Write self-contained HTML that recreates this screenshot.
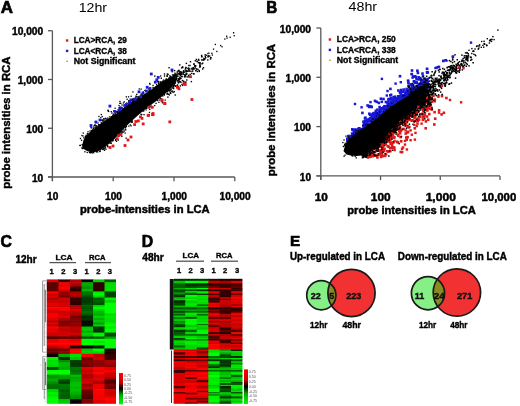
<!DOCTYPE html>
<html><head><meta charset="utf-8"><style>
html,body{margin:0;padding:0;background:#fff;}
svg{display:block;will-change:transform;font-family:"Liberation Sans", sans-serif;}
</style></head><body>
<svg width="520" height="406" viewBox="0 0 520 406">
<rect width="520" height="406" fill="#fff"/>
<text x="0.8" y="13.0" font-size="16.4" font-weight="bold" text-anchor="start" fill="#000" textLength="12.2" lengthAdjust="spacingAndGlyphs" stroke="#000" stroke-width="0.69">A</text>
<text x="78.7" y="12.0" font-size="13.7" font-weight="normal" text-anchor="start" fill="#000" textLength="28.4" lengthAdjust="spacingAndGlyphs">12hr</text>
<line x1="52.4" y1="30.75" x2="52.4" y2="181.2" stroke="#595959" stroke-width="1.3"/>
<line x1="48.0" y1="177.0" x2="234.79999999999998" y2="177.0" stroke="#595959" stroke-width="1.3"/>
<line x1="48.0" y1="177.0" x2="52.4" y2="177.0" stroke="#595959" stroke-width="1.3"/>
<text x="43.2" y="181.6" font-size="10" font-weight="bold" text-anchor="end" fill="#000" textLength="11.2" lengthAdjust="spacingAndGlyphs" stroke="#000" stroke-width="0.42">10</text>
<line x1="52.4" y1="177.0" x2="52.4" y2="181.2" stroke="#595959" stroke-width="1.3"/>
<text x="52.699999999999996" y="200.0" font-size="10" font-weight="bold" text-anchor="middle" fill="#000" textLength="11.2" lengthAdjust="spacingAndGlyphs" stroke="#000" stroke-width="0.42">10</text>
<line x1="48.0" y1="128.25" x2="52.4" y2="128.25" stroke="#595959" stroke-width="1.3"/>
<text x="43.2" y="132.85" font-size="10" font-weight="bold" text-anchor="end" fill="#000" textLength="16.9" lengthAdjust="spacingAndGlyphs" stroke="#000" stroke-width="0.42">100</text>
<line x1="113.19999999999999" y1="177.0" x2="113.19999999999999" y2="181.2" stroke="#595959" stroke-width="1.3"/>
<text x="113.49999999999999" y="200.0" font-size="10" font-weight="bold" text-anchor="middle" fill="#000" textLength="16.9" lengthAdjust="spacingAndGlyphs" stroke="#000" stroke-width="0.42">100</text>
<line x1="48.0" y1="79.5" x2="52.4" y2="79.5" stroke="#595959" stroke-width="1.3"/>
<text x="43.2" y="84.1" font-size="10" font-weight="bold" text-anchor="end" fill="#000" textLength="25.5" lengthAdjust="spacingAndGlyphs" stroke="#000" stroke-width="0.42">1,000</text>
<line x1="174.0" y1="177.0" x2="174.0" y2="181.2" stroke="#595959" stroke-width="1.3"/>
<text x="174.3" y="200.0" font-size="10" font-weight="bold" text-anchor="middle" fill="#000" textLength="25.5" lengthAdjust="spacingAndGlyphs" stroke="#000" stroke-width="0.42">1,000</text>
<line x1="48.0" y1="30.75" x2="52.4" y2="30.75" stroke="#595959" stroke-width="1.3"/>
<text x="43.2" y="35.35" font-size="10" font-weight="bold" text-anchor="end" fill="#000" textLength="31.2" lengthAdjust="spacingAndGlyphs" stroke="#000" stroke-width="0.42">10,000</text>
<line x1="234.79999999999998" y1="177.0" x2="234.79999999999998" y2="181.2" stroke="#595959" stroke-width="1.3"/>
<text x="235.1" y="200.0" font-size="10" font-weight="bold" text-anchor="middle" fill="#000" textLength="31.2" lengthAdjust="spacingAndGlyphs" stroke="#000" stroke-width="0.42">10,000</text>
<text x="80.0" y="212.8" font-size="11.4" font-weight="bold" text-anchor="start" fill="#000" textLength="129.7" lengthAdjust="spacingAndGlyphs" stroke="#000" stroke-width="0.48">probe-intensities in LCA</text>
<text transform="translate(9.6,188.8) rotate(-90)" font-size="11.4" font-weight="bold" stroke="#000" stroke-width="0.45" textLength="132.4" lengthAdjust="spacingAndGlyphs">probe intensities in RCA</text>
<rect x="65.90" y="39.30" width="2.40" height="2.40" fill="#d42020"/>
<text x="73.7" y="43.4" font-size="8.2" font-weight="bold" text-anchor="start" fill="#000" textLength="53.1" lengthAdjust="spacingAndGlyphs" stroke="#000" stroke-width="0.34">LCA&gt;RCA, 29</text>
<rect x="65.90" y="49.70" width="2.40" height="2.40" fill="#2020c8"/>
<text x="73.7" y="53.8" font-size="8.2" font-weight="bold" text-anchor="start" fill="#000" textLength="53.1" lengthAdjust="spacingAndGlyphs" stroke="#000" stroke-width="0.34">LCA&lt;RCA, 38</text>
<rect x="66.40" y="60.60" width="1.40" height="1.40" fill="#a0a000"/>
<text x="73.7" y="64.2" font-size="8.2" font-weight="bold" text-anchor="start" fill="#000" textLength="61.8" lengthAdjust="spacingAndGlyphs" stroke="#000" stroke-width="0.34">Not Significant</text>
<text x="266.2" y="13.0" font-size="16.4" font-weight="bold" text-anchor="start" fill="#000" textLength="11.0" lengthAdjust="spacingAndGlyphs" stroke="#000" stroke-width="0.69">B</text>
<text x="348.5" y="11.4" font-size="13.7" font-weight="normal" text-anchor="start" fill="#000" textLength="28.6" lengthAdjust="spacingAndGlyphs">48hr</text>
<line x1="320.8" y1="28.00000000000003" x2="320.8" y2="180.1" stroke="#595959" stroke-width="1.3"/>
<line x1="316.40000000000003" y1="175.9" x2="499.99" y2="175.9" stroke="#595959" stroke-width="1.3"/>
<line x1="316.40000000000003" y1="175.9" x2="320.8" y2="175.9" stroke="#595959" stroke-width="1.3"/>
<text x="311.0" y="180.5" font-size="10" font-weight="bold" text-anchor="end" fill="#000" textLength="11.2" lengthAdjust="spacingAndGlyphs" stroke="#000" stroke-width="0.42">10</text>
<line x1="320.8" y1="175.9" x2="320.8" y2="180.1" stroke="#595959" stroke-width="1.3"/>
<text x="321.2" y="201.4" font-size="11.8" font-weight="bold" text-anchor="middle" fill="#000" textLength="13.1" lengthAdjust="spacingAndGlyphs" stroke="#000" stroke-width="0.50">10</text>
<line x1="316.40000000000003" y1="126.60000000000001" x2="320.8" y2="126.60000000000001" stroke="#595959" stroke-width="1.3"/>
<text x="311.0" y="131.20000000000002" font-size="10" font-weight="bold" text-anchor="end" fill="#000" textLength="16.9" lengthAdjust="spacingAndGlyphs" stroke="#000" stroke-width="0.42">100</text>
<line x1="380.53000000000003" y1="175.9" x2="380.53000000000003" y2="180.1" stroke="#595959" stroke-width="1.3"/>
<text x="380.73" y="201.4" font-size="11.8" font-weight="bold" text-anchor="middle" fill="#000" textLength="19.8" lengthAdjust="spacingAndGlyphs" stroke="#000" stroke-width="0.50">100</text>
<line x1="316.40000000000003" y1="77.30000000000001" x2="320.8" y2="77.30000000000001" stroke="#595959" stroke-width="1.3"/>
<text x="311.0" y="81.9" font-size="10" font-weight="bold" text-anchor="end" fill="#000" textLength="25.5" lengthAdjust="spacingAndGlyphs" stroke="#000" stroke-width="0.42">1,000</text>
<line x1="440.26" y1="175.9" x2="440.26" y2="180.1" stroke="#595959" stroke-width="1.3"/>
<text x="440.76" y="201.4" font-size="11.8" font-weight="bold" text-anchor="middle" fill="#000" textLength="30.2" lengthAdjust="spacingAndGlyphs" stroke="#000" stroke-width="0.50">1,000</text>
<line x1="316.40000000000003" y1="28.00000000000003" x2="320.8" y2="28.00000000000003" stroke="#595959" stroke-width="1.3"/>
<text x="311.0" y="32.60000000000003" font-size="10" font-weight="bold" text-anchor="end" fill="#000" textLength="31.2" lengthAdjust="spacingAndGlyphs" stroke="#000" stroke-width="0.42">10,000</text>
<line x1="499.99" y1="175.9" x2="499.99" y2="180.1" stroke="#595959" stroke-width="1.3"/>
<text x="498.89" y="201.4" font-size="11.8" font-weight="bold" text-anchor="middle" fill="#000" textLength="34.7" lengthAdjust="spacingAndGlyphs" stroke="#000" stroke-width="0.50">10,000</text>
<text x="347.3" y="213.9" font-size="11.4" font-weight="bold" text-anchor="start" fill="#000" textLength="128.5" lengthAdjust="spacingAndGlyphs" stroke="#000" stroke-width="0.48">probe intensities in LCA</text>
<text transform="translate(275.0,176.2) rotate(-90)" font-size="11.4" font-weight="bold" stroke="#000" stroke-width="0.45" textLength="132.3" lengthAdjust="spacingAndGlyphs">probe intensities in RCA</text>
<rect x="328.70" y="38.30" width="2.40" height="2.40" fill="#d42020"/>
<text x="336.8" y="42.4" font-size="8.2" font-weight="bold" text-anchor="start" fill="#000" textLength="59.0" lengthAdjust="spacingAndGlyphs" stroke="#000" stroke-width="0.34">LCA&gt;RCA, 250</text>
<rect x="328.70" y="48.70" width="2.40" height="2.40" fill="#2020c8"/>
<text x="336.8" y="52.8" font-size="8.2" font-weight="bold" text-anchor="start" fill="#000" textLength="59.0" lengthAdjust="spacingAndGlyphs" stroke="#000" stroke-width="0.34">LCA&lt;RCA, 338</text>
<rect x="329.20" y="59.60" width="1.40" height="1.40" fill="#a0a000"/>
<text x="336.8" y="63.2" font-size="8.2" font-weight="bold" text-anchor="start" fill="#000" textLength="61.4" lengthAdjust="spacingAndGlyphs" stroke="#000" stroke-width="0.34">Not Significant</text>
<polygon points="82.0,146.0 83.5,140.0 86.0,135.5 90.0,132.0 95.0,128.0 100.0,124.0 105.0,120.5 110.0,117.5 115.0,114.5 120.0,111.0 125.0,106.5 130.0,103.0 135.0,99.5 140.0,96.5 145.0,93.5 150.0,90.5 155.0,86.5 160.0,83.0 165.0,80.0 170.0,77.5 175.0,75.0 176.0,82.0 170.0,89.0 165.0,94.0 160.0,98.0 155.0,102.0 150.0,105.5 145.0,109.5 140.0,113.5 135.0,118.0 130.0,122.5 125.0,127.5 120.0,133.0 115.0,138.5 110.0,143.0 105.0,147.0 100.0,150.5 95.0,152.0 90.0,152.0 86.0,150.5 83.0,148.5" fill="#000"/>
<rect x="168.5" y="77.0" width="1.3" height="1.3" fill="#000"/>
<rect x="136.1" y="93.7" width="1.3" height="1.3" fill="#000"/>
<rect x="121.1" y="132.5" width="1.3" height="1.3" fill="#000"/>
<rect x="110.7" y="142.5" width="1.3" height="1.3" fill="#000"/>
<rect x="125.5" y="137.5" width="1.3" height="1.3" fill="#000"/>
<rect x="174.4" y="73.8" width="1.3" height="1.3" fill="#000"/>
<rect x="119.1" y="134.9" width="1.3" height="1.3" fill="#000"/>
<rect x="126.2" y="102.4" width="1.3" height="1.3" fill="#000"/>
<rect x="163.7" y="94.3" width="1.3" height="1.3" fill="#000"/>
<rect x="156.9" y="99.9" width="1.3" height="1.3" fill="#000"/>
<rect x="152.4" y="84.8" width="1.3" height="1.3" fill="#000"/>
<rect x="138.6" y="88.3" width="1.3" height="1.3" fill="#000"/>
<rect x="175.7" y="76.2" width="1.3" height="1.3" fill="#000"/>
<rect x="165.4" y="78.6" width="1.3" height="1.3" fill="#000"/>
<rect x="116.4" y="111.7" width="1.3" height="1.3" fill="#000"/>
<rect x="144.2" y="89.8" width="1.3" height="1.3" fill="#000"/>
<rect x="174.4" y="84.8" width="1.3" height="1.3" fill="#000"/>
<rect x="130.4" y="125.2" width="1.3" height="1.3" fill="#000"/>
<rect x="155.9" y="84.0" width="1.3" height="1.3" fill="#000"/>
<rect x="180.5" y="74.2" width="1.3" height="1.3" fill="#000"/>
<rect x="92.9" y="127.7" width="1.3" height="1.3" fill="#000"/>
<rect x="173.0" y="86.4" width="1.3" height="1.3" fill="#000"/>
<rect x="149.4" y="83.6" width="1.3" height="1.3" fill="#000"/>
<rect x="120.1" y="131.6" width="1.3" height="1.3" fill="#000"/>
<rect x="173.7" y="91.0" width="1.3" height="1.3" fill="#000"/>
<rect x="169.4" y="90.1" width="1.3" height="1.3" fill="#000"/>
<rect x="122.3" y="131.7" width="1.3" height="1.3" fill="#000"/>
<rect x="132.2" y="99.3" width="1.3" height="1.3" fill="#000"/>
<rect x="120.8" y="130.8" width="1.3" height="1.3" fill="#000"/>
<rect x="85.4" y="134.6" width="1.3" height="1.3" fill="#000"/>
<rect x="104.8" y="147.3" width="1.3" height="1.3" fill="#000"/>
<rect x="172.1" y="86.3" width="1.3" height="1.3" fill="#000"/>
<rect x="135.4" y="95.5" width="1.3" height="1.3" fill="#000"/>
<rect x="166.4" y="93.5" width="1.3" height="1.3" fill="#000"/>
<rect x="160.0" y="75.3" width="1.3" height="1.3" fill="#000"/>
<rect x="102.4" y="148.9" width="1.3" height="1.3" fill="#000"/>
<rect x="141.7" y="93.0" width="1.3" height="1.3" fill="#000"/>
<rect x="109.3" y="142.4" width="1.3" height="1.3" fill="#000"/>
<rect x="113.3" y="114.3" width="1.3" height="1.3" fill="#000"/>
<rect x="175.3" y="74.6" width="1.3" height="1.3" fill="#000"/>
<rect x="118.2" y="134.7" width="1.3" height="1.3" fill="#000"/>
<rect x="155.4" y="102.7" width="1.3" height="1.3" fill="#000"/>
<rect x="140.8" y="94.6" width="1.3" height="1.3" fill="#000"/>
<rect x="163.8" y="94.0" width="1.3" height="1.3" fill="#000"/>
<rect x="95.3" y="126.3" width="1.3" height="1.3" fill="#000"/>
<rect x="90.7" y="152.0" width="1.3" height="1.3" fill="#000"/>
<rect x="148.9" y="89.9" width="1.3" height="1.3" fill="#000"/>
<rect x="176.0" y="75.7" width="1.3" height="1.3" fill="#000"/>
<rect x="135.6" y="96.0" width="1.3" height="1.3" fill="#000"/>
<rect x="164.5" y="99.4" width="1.3" height="1.3" fill="#000"/>
<rect x="79.7" y="144.8" width="1.3" height="1.3" fill="#000"/>
<rect x="142.7" y="91.3" width="1.3" height="1.3" fill="#000"/>
<rect x="114.5" y="112.6" width="1.3" height="1.3" fill="#000"/>
<rect x="154.1" y="104.9" width="1.3" height="1.3" fill="#000"/>
<rect x="162.2" y="95.3" width="1.3" height="1.3" fill="#000"/>
<rect x="132.1" y="98.6" width="1.3" height="1.3" fill="#000"/>
<rect x="86.8" y="132.9" width="1.3" height="1.3" fill="#000"/>
<rect x="98.4" y="124.0" width="1.3" height="1.3" fill="#000"/>
<rect x="112.6" y="139.6" width="1.3" height="1.3" fill="#000"/>
<rect x="161.7" y="102.1" width="1.3" height="1.3" fill="#000"/>
<rect x="114.1" y="110.7" width="1.3" height="1.3" fill="#000"/>
<rect x="159.7" y="97.7" width="1.3" height="1.3" fill="#000"/>
<rect x="95.7" y="151.1" width="1.3" height="1.3" fill="#000"/>
<rect x="175.5" y="75.3" width="1.3" height="1.3" fill="#000"/>
<rect x="90.7" y="129.8" width="1.3" height="1.3" fill="#000"/>
<rect x="117.1" y="110.8" width="1.3" height="1.3" fill="#000"/>
<rect x="149.0" y="82.8" width="1.3" height="1.3" fill="#000"/>
<rect x="86.6" y="151.8" width="1.3" height="1.3" fill="#000"/>
<rect x="122.3" y="131.1" width="1.3" height="1.3" fill="#000"/>
<rect x="148.1" y="88.4" width="1.3" height="1.3" fill="#000"/>
<rect x="125.3" y="104.8" width="1.3" height="1.3" fill="#000"/>
<rect x="119.2" y="102.7" width="1.3" height="1.3" fill="#000"/>
<rect x="92.2" y="129.0" width="1.3" height="1.3" fill="#000"/>
<rect x="148.8" y="111.8" width="1.3" height="1.3" fill="#000"/>
<rect x="158.6" y="99.4" width="1.3" height="1.3" fill="#000"/>
<rect x="177.5" y="78.8" width="1.3" height="1.3" fill="#000"/>
<rect x="140.5" y="88.5" width="1.3" height="1.3" fill="#000"/>
<rect x="91.2" y="127.3" width="1.3" height="1.3" fill="#000"/>
<rect x="92.0" y="152.2" width="1.3" height="1.3" fill="#000"/>
<rect x="103.9" y="149.7" width="1.3" height="1.3" fill="#000"/>
<rect x="117.4" y="109.1" width="1.3" height="1.3" fill="#000"/>
<rect x="115.1" y="139.2" width="1.3" height="1.3" fill="#000"/>
<rect x="81.3" y="134.9" width="1.3" height="1.3" fill="#000"/>
<rect x="141.6" y="93.6" width="1.3" height="1.3" fill="#000"/>
<rect x="170.1" y="88.6" width="1.3" height="1.3" fill="#000"/>
<rect x="114.9" y="139.8" width="1.3" height="1.3" fill="#000"/>
<rect x="147.9" y="90.5" width="1.3" height="1.3" fill="#000"/>
<rect x="172.8" y="74.6" width="1.3" height="1.3" fill="#000"/>
<rect x="80.9" y="139.6" width="1.3" height="1.3" fill="#000"/>
<rect x="106.8" y="145.7" width="1.3" height="1.3" fill="#000"/>
<rect x="124.5" y="128.7" width="1.3" height="1.3" fill="#000"/>
<rect x="159.8" y="97.9" width="1.3" height="1.3" fill="#000"/>
<rect x="129.6" y="124.2" width="1.3" height="1.3" fill="#000"/>
<rect x="135.2" y="97.1" width="1.3" height="1.3" fill="#000"/>
<rect x="100.2" y="117.0" width="1.3" height="1.3" fill="#000"/>
<rect x="137.5" y="96.4" width="1.3" height="1.3" fill="#000"/>
<rect x="152.4" y="86.8" width="1.3" height="1.3" fill="#000"/>
<rect x="140.3" y="93.5" width="1.3" height="1.3" fill="#000"/>
<rect x="89.4" y="151.6" width="1.3" height="1.3" fill="#000"/>
<rect x="131.2" y="121.5" width="1.3" height="1.3" fill="#000"/>
<rect x="118.8" y="110.3" width="1.3" height="1.3" fill="#000"/>
<rect x="104.8" y="117.9" width="1.3" height="1.3" fill="#000"/>
<rect x="174.3" y="72.5" width="1.3" height="1.3" fill="#000"/>
<rect x="123.6" y="101.2" width="1.3" height="1.3" fill="#000"/>
<rect x="168.8" y="94.3" width="1.3" height="1.3" fill="#000"/>
<rect x="150.3" y="104.5" width="1.3" height="1.3" fill="#000"/>
<rect x="118.7" y="133.2" width="1.3" height="1.3" fill="#000"/>
<rect x="130.3" y="121.2" width="1.3" height="1.3" fill="#000"/>
<rect x="82.1" y="148.0" width="1.3" height="1.3" fill="#000"/>
<rect x="159.5" y="81.2" width="1.3" height="1.3" fill="#000"/>
<rect x="138.3" y="95.9" width="1.3" height="1.3" fill="#000"/>
<rect x="170.0" y="75.9" width="1.3" height="1.3" fill="#000"/>
<rect x="149.1" y="108.7" width="1.3" height="1.3" fill="#000"/>
<rect x="132.9" y="99.3" width="1.3" height="1.3" fill="#000"/>
<rect x="140.1" y="95.2" width="1.3" height="1.3" fill="#000"/>
<rect x="132.4" y="98.3" width="1.3" height="1.3" fill="#000"/>
<rect x="97.0" y="151.2" width="1.3" height="1.3" fill="#000"/>
<rect x="143.2" y="110.1" width="1.3" height="1.3" fill="#000"/>
<rect x="175.2" y="73.6" width="1.3" height="1.3" fill="#000"/>
<rect x="79.3" y="144.8" width="1.3" height="1.3" fill="#000"/>
<rect x="121.4" y="104.4" width="1.3" height="1.3" fill="#000"/>
<rect x="117.0" y="111.8" width="1.3" height="1.3" fill="#000"/>
<rect x="87.4" y="131.1" width="1.3" height="1.3" fill="#000"/>
<rect x="174.8" y="82.4" width="1.3" height="1.3" fill="#000"/>
<rect x="95.3" y="122.0" width="1.3" height="1.3" fill="#000"/>
<rect x="173.5" y="84.1" width="1.3" height="1.3" fill="#000"/>
<rect x="105.3" y="148.6" width="1.3" height="1.3" fill="#000"/>
<rect x="149.6" y="106.2" width="1.3" height="1.3" fill="#000"/>
<rect x="170.0" y="76.0" width="1.3" height="1.3" fill="#000"/>
<rect x="102.0" y="119.5" width="1.3" height="1.3" fill="#000"/>
<rect x="103.0" y="148.2" width="1.3" height="1.3" fill="#000"/>
<rect x="89.4" y="130.4" width="1.3" height="1.3" fill="#000"/>
<rect x="140.2" y="113.5" width="1.3" height="1.3" fill="#000"/>
<rect x="114.6" y="113.5" width="1.3" height="1.3" fill="#000"/>
<rect x="131.5" y="99.5" width="1.3" height="1.3" fill="#000"/>
<rect x="95.5" y="126.3" width="1.3" height="1.3" fill="#000"/>
<rect x="175.5" y="73.6" width="1.3" height="1.3" fill="#000"/>
<rect x="96.0" y="151.0" width="1.3" height="1.3" fill="#000"/>
<rect x="81.5" y="144.0" width="1.3" height="1.3" fill="#000"/>
<rect x="122.5" y="129.2" width="1.3" height="1.3" fill="#000"/>
<rect x="131.5" y="121.6" width="1.3" height="1.3" fill="#000"/>
<rect x="115.9" y="140.7" width="1.3" height="1.3" fill="#000"/>
<rect x="93.6" y="124.9" width="1.3" height="1.3" fill="#000"/>
<rect x="143.4" y="114.0" width="1.3" height="1.3" fill="#000"/>
<rect x="83.2" y="137.1" width="1.3" height="1.3" fill="#000"/>
<rect x="109.1" y="116.2" width="1.3" height="1.3" fill="#000"/>
<rect x="131.7" y="120.3" width="1.3" height="1.3" fill="#000"/>
<rect x="162.0" y="80.6" width="1.3" height="1.3" fill="#000"/>
<rect x="137.1" y="96.3" width="1.3" height="1.3" fill="#000"/>
<rect x="84.2" y="151.1" width="1.3" height="1.3" fill="#000"/>
<rect x="123.7" y="130.4" width="1.3" height="1.3" fill="#000"/>
<rect x="173.3" y="74.2" width="1.3" height="1.3" fill="#000"/>
<rect x="169.5" y="90.1" width="1.3" height="1.3" fill="#000"/>
<rect x="173.0" y="88.0" width="1.3" height="1.3" fill="#000"/>
<rect x="177.6" y="80.4" width="1.3" height="1.3" fill="#000"/>
<rect x="172.8" y="84.6" width="1.3" height="1.3" fill="#000"/>
<rect x="93.1" y="152.0" width="1.3" height="1.3" fill="#000"/>
<rect x="98.1" y="124.1" width="1.3" height="1.3" fill="#000"/>
<rect x="170.4" y="89.0" width="1.3" height="1.3" fill="#000"/>
<rect x="88.8" y="151.8" width="1.3" height="1.3" fill="#000"/>
<rect x="103.5" y="147.3" width="1.3" height="1.3" fill="#000"/>
<rect x="82.4" y="135.3" width="1.3" height="1.3" fill="#000"/>
<rect x="125.0" y="127.1" width="1.3" height="1.3" fill="#000"/>
<rect x="107.3" y="146.3" width="1.3" height="1.3" fill="#000"/>
<rect x="124.5" y="132.4" width="1.3" height="1.3" fill="#000"/>
<rect x="125.8" y="125.7" width="1.3" height="1.3" fill="#000"/>
<rect x="107.2" y="117.4" width="1.3" height="1.3" fill="#000"/>
<rect x="130.7" y="121.3" width="1.3" height="1.3" fill="#000"/>
<rect x="97.4" y="122.4" width="1.3" height="1.3" fill="#000"/>
<rect x="145.9" y="107.7" width="1.3" height="1.3" fill="#000"/>
<rect x="79.8" y="137.8" width="1.3" height="1.3" fill="#000"/>
<rect x="112.0" y="140.3" width="1.3" height="1.3" fill="#000"/>
<rect x="141.1" y="114.0" width="1.3" height="1.3" fill="#000"/>
<rect x="103.6" y="148.2" width="1.3" height="1.3" fill="#000"/>
<rect x="142.6" y="110.4" width="1.3" height="1.3" fill="#000"/>
<rect x="82.6" y="132.4" width="1.3" height="1.3" fill="#000"/>
<rect x="129.6" y="100.7" width="1.3" height="1.3" fill="#000"/>
<rect x="118.8" y="107.9" width="1.3" height="1.3" fill="#000"/>
<rect x="125.1" y="129.3" width="1.3" height="1.3" fill="#000"/>
<rect x="101.8" y="148.5" width="1.3" height="1.3" fill="#000"/>
<rect x="160.6" y="98.3" width="1.3" height="1.3" fill="#000"/>
<rect x="119.3" y="106.5" width="1.3" height="1.3" fill="#000"/>
<rect x="132.5" y="99.3" width="1.3" height="1.3" fill="#000"/>
<rect x="99.1" y="150.9" width="1.3" height="1.3" fill="#000"/>
<rect x="121.1" y="131.0" width="1.3" height="1.3" fill="#000"/>
<rect x="81.3" y="147.2" width="1.3" height="1.3" fill="#000"/>
<rect x="117.9" y="110.4" width="1.3" height="1.3" fill="#000"/>
<rect x="104.8" y="146.4" width="1.3" height="1.3" fill="#000"/>
<rect x="158.2" y="101.7" width="1.3" height="1.3" fill="#000"/>
<rect x="165.7" y="78.4" width="1.3" height="1.3" fill="#000"/>
<rect x="121.3" y="107.0" width="1.3" height="1.3" fill="#000"/>
<rect x="172.7" y="85.7" width="1.3" height="1.3" fill="#000"/>
<rect x="119.1" y="134.1" width="1.3" height="1.3" fill="#000"/>
<rect x="160.4" y="81.3" width="1.3" height="1.3" fill="#000"/>
<rect x="84.7" y="136.0" width="1.3" height="1.3" fill="#000"/>
<rect x="124.8" y="126.9" width="1.3" height="1.3" fill="#000"/>
<rect x="102.2" y="120.6" width="1.3" height="1.3" fill="#000"/>
<rect x="177.6" y="82.0" width="1.3" height="1.3" fill="#000"/>
<rect x="90.3" y="127.0" width="1.3" height="1.3" fill="#000"/>
<rect x="171.1" y="90.6" width="1.3" height="1.3" fill="#000"/>
<rect x="91.3" y="151.4" width="1.3" height="1.3" fill="#000"/>
<rect x="107.0" y="144.9" width="1.3" height="1.3" fill="#000"/>
<rect x="133.6" y="98.1" width="1.3" height="1.3" fill="#000"/>
<rect x="94.7" y="124.6" width="1.3" height="1.3" fill="#000"/>
<rect x="117.7" y="139.4" width="1.3" height="1.3" fill="#000"/>
<rect x="107.5" y="109.6" width="1.3" height="1.3" fill="#000"/>
<rect x="175.7" y="75.4" width="1.3" height="1.3" fill="#000"/>
<rect x="93.1" y="126.3" width="1.3" height="1.3" fill="#000"/>
<rect x="110.2" y="142.5" width="1.3" height="1.3" fill="#000"/>
<rect x="112.1" y="115.1" width="1.3" height="1.3" fill="#000"/>
<rect x="128.2" y="125.5" width="1.3" height="1.3" fill="#000"/>
<rect x="99.7" y="150.4" width="1.3" height="1.3" fill="#000"/>
<rect x="115.0" y="138.7" width="1.3" height="1.3" fill="#000"/>
<rect x="129.2" y="101.6" width="1.3" height="1.3" fill="#000"/>
<rect x="94.2" y="124.3" width="1.3" height="1.3" fill="#000"/>
<rect x="166.9" y="92.5" width="1.3" height="1.3" fill="#000"/>
<rect x="89.7" y="152.1" width="1.3" height="1.3" fill="#000"/>
<rect x="121.2" y="135.8" width="1.3" height="1.3" fill="#000"/>
<rect x="145.4" y="109.2" width="1.3" height="1.3" fill="#000"/>
<rect x="81.7" y="147.6" width="1.3" height="1.3" fill="#000"/>
<rect x="110.7" y="116.0" width="1.3" height="1.3" fill="#000"/>
<rect x="134.3" y="98.3" width="1.3" height="1.3" fill="#000"/>
<rect x="103.1" y="118.1" width="1.3" height="1.3" fill="#000"/>
<rect x="127.9" y="96.2" width="1.3" height="1.3" fill="#000"/>
<rect x="108.0" y="110.8" width="1.3" height="1.3" fill="#000"/>
<rect x="96.1" y="125.0" width="1.3" height="1.3" fill="#000"/>
<rect x="101.0" y="119.5" width="1.3" height="1.3" fill="#000"/>
<rect x="130.5" y="95.6" width="1.3" height="1.3" fill="#000"/>
<rect x="103.5" y="118.5" width="1.3" height="1.3" fill="#000"/>
<rect x="132.3" y="91.3" width="1.3" height="1.3" fill="#000"/>
<rect x="125.8" y="104.8" width="1.3" height="1.3" fill="#000"/>
<rect x="125.7" y="96.2" width="1.3" height="1.3" fill="#000"/>
<rect x="94.6" y="121.4" width="1.3" height="1.3" fill="#000"/>
<rect x="121.5" y="107.8" width="1.3" height="1.3" fill="#000"/>
<rect x="100.6" y="122.0" width="1.3" height="1.3" fill="#000"/>
<rect x="113.4" y="110.5" width="1.3" height="1.3" fill="#000"/>
<rect x="103.4" y="120.2" width="1.3" height="1.3" fill="#000"/>
<rect x="98.3" y="115.8" width="1.3" height="1.3" fill="#000"/>
<rect x="118.5" y="107.0" width="1.3" height="1.3" fill="#000"/>
<rect x="102.3" y="119.5" width="1.3" height="1.3" fill="#000"/>
<rect x="133.1" y="98.9" width="1.3" height="1.3" fill="#000"/>
<rect x="94.5" y="126.9" width="1.3" height="1.3" fill="#000"/>
<rect x="133.1" y="99.6" width="1.3" height="1.3" fill="#000"/>
<rect x="128.8" y="102.0" width="1.3" height="1.3" fill="#000"/>
<rect x="104.9" y="117.7" width="1.3" height="1.3" fill="#000"/>
<rect x="107.2" y="110.1" width="1.3" height="1.3" fill="#000"/>
<rect x="128.3" y="100.1" width="1.3" height="1.3" fill="#000"/>
<rect x="114.5" y="107.6" width="1.3" height="1.3" fill="#000"/>
<rect x="122.8" y="102.3" width="1.3" height="1.3" fill="#000"/>
<rect x="111.3" y="112.4" width="1.3" height="1.3" fill="#000"/>
<rect x="120.7" y="108.1" width="1.3" height="1.3" fill="#000"/>
<rect x="126.5" y="98.6" width="1.3" height="1.3" fill="#000"/>
<rect x="113.0" y="113.4" width="1.3" height="1.3" fill="#000"/>
<rect x="120.1" y="102.7" width="1.3" height="1.3" fill="#000"/>
<rect x="131.6" y="100.7" width="1.3" height="1.3" fill="#000"/>
<rect x="100.7" y="113.9" width="1.3" height="1.3" fill="#000"/>
<rect x="128.3" y="100.1" width="1.3" height="1.3" fill="#000"/>
<rect x="106.5" y="118.5" width="1.3" height="1.3" fill="#000"/>
<rect x="115.9" y="111.1" width="1.3" height="1.3" fill="#000"/>
<rect x="112.3" y="114.4" width="1.3" height="1.3" fill="#000"/>
<rect x="133.3" y="99.4" width="1.3" height="1.3" fill="#000"/>
<rect x="128.2" y="100.8" width="1.3" height="1.3" fill="#000"/>
<rect x="119.7" y="109.7" width="1.3" height="1.3" fill="#000"/>
<rect x="101.6" y="115.9" width="1.3" height="1.3" fill="#000"/>
<rect x="119.3" y="100.8" width="1.3" height="1.3" fill="#000"/>
<rect x="105.3" y="118.3" width="1.3" height="1.3" fill="#000"/>
<rect x="118.4" y="104.9" width="1.3" height="1.3" fill="#000"/>
<rect x="110.6" y="111.0" width="1.3" height="1.3" fill="#000"/>
<rect x="119.2" y="109.9" width="1.3" height="1.3" fill="#000"/>
<rect x="113.2" y="110.3" width="1.3" height="1.3" fill="#000"/>
<rect x="169.8" y="78.3" width="1.4" height="1.4" fill="#000"/>
<rect x="162.6" y="81.0" width="1.4" height="1.4" fill="#000"/>
<rect x="167.5" y="86.7" width="1.4" height="1.4" fill="#000"/>
<rect x="179.9" y="72.8" width="1.4" height="1.4" fill="#000"/>
<rect x="181.7" y="79.8" width="1.4" height="1.4" fill="#000"/>
<rect x="179.1" y="64.2" width="1.4" height="1.4" fill="#000"/>
<rect x="207.7" y="55.1" width="1.4" height="1.4" fill="#000"/>
<rect x="157.9" y="82.7" width="1.4" height="1.4" fill="#000"/>
<rect x="180.8" y="72.8" width="1.4" height="1.4" fill="#000"/>
<rect x="185.2" y="70.6" width="1.4" height="1.4" fill="#000"/>
<rect x="173.5" y="83.1" width="1.4" height="1.4" fill="#000"/>
<rect x="195.7" y="58.7" width="1.4" height="1.4" fill="#000"/>
<rect x="205.0" y="56.9" width="1.4" height="1.4" fill="#000"/>
<rect x="181.3" y="83.8" width="1.4" height="1.4" fill="#000"/>
<rect x="163.0" y="87.6" width="1.4" height="1.4" fill="#000"/>
<rect x="160.3" y="85.2" width="1.4" height="1.4" fill="#000"/>
<rect x="171.7" y="78.7" width="1.4" height="1.4" fill="#000"/>
<rect x="170.3" y="82.4" width="1.4" height="1.4" fill="#000"/>
<rect x="209.8" y="58.3" width="1.4" height="1.4" fill="#000"/>
<rect x="182.4" y="73.4" width="1.4" height="1.4" fill="#000"/>
<rect x="168.7" y="83.8" width="1.4" height="1.4" fill="#000"/>
<rect x="191.1" y="72.7" width="1.4" height="1.4" fill="#000"/>
<rect x="185.3" y="66.7" width="1.4" height="1.4" fill="#000"/>
<rect x="163.6" y="87.0" width="1.4" height="1.4" fill="#000"/>
<rect x="192.6" y="67.2" width="1.4" height="1.4" fill="#000"/>
<rect x="184.5" y="69.3" width="1.4" height="1.4" fill="#000"/>
<rect x="169.4" y="80.6" width="1.4" height="1.4" fill="#000"/>
<rect x="171.8" y="80.7" width="1.4" height="1.4" fill="#000"/>
<rect x="204.5" y="54.1" width="1.4" height="1.4" fill="#000"/>
<rect x="170.7" y="77.4" width="1.4" height="1.4" fill="#000"/>
<rect x="173.1" y="76.2" width="1.4" height="1.4" fill="#000"/>
<rect x="171.3" y="78.2" width="1.4" height="1.4" fill="#000"/>
<rect x="178.2" y="69.6" width="1.4" height="1.4" fill="#000"/>
<rect x="188.4" y="70.1" width="1.4" height="1.4" fill="#000"/>
<rect x="191.9" y="70.5" width="1.4" height="1.4" fill="#000"/>
<rect x="177.4" y="79.8" width="1.4" height="1.4" fill="#000"/>
<rect x="168.7" y="82.9" width="1.4" height="1.4" fill="#000"/>
<rect x="164.3" y="86.2" width="1.4" height="1.4" fill="#000"/>
<rect x="163.9" y="90.3" width="1.4" height="1.4" fill="#000"/>
<rect x="180.8" y="73.1" width="1.4" height="1.4" fill="#000"/>
<rect x="178.0" y="79.9" width="1.4" height="1.4" fill="#000"/>
<rect x="179.3" y="70.8" width="1.4" height="1.4" fill="#000"/>
<rect x="185.7" y="69.8" width="1.4" height="1.4" fill="#000"/>
<rect x="196.5" y="60.8" width="1.4" height="1.4" fill="#000"/>
<rect x="182.0" y="84.7" width="1.4" height="1.4" fill="#000"/>
<rect x="179.4" y="77.8" width="1.4" height="1.4" fill="#000"/>
<rect x="197.3" y="68.7" width="1.4" height="1.4" fill="#000"/>
<rect x="174.2" y="74.7" width="1.4" height="1.4" fill="#000"/>
<rect x="177.5" y="85.9" width="1.4" height="1.4" fill="#000"/>
<rect x="188.7" y="70.3" width="1.4" height="1.4" fill="#000"/>
<rect x="193.0" y="67.3" width="1.4" height="1.4" fill="#000"/>
<rect x="179.7" y="73.6" width="1.4" height="1.4" fill="#000"/>
<rect x="197.9" y="58.7" width="1.4" height="1.4" fill="#000"/>
<rect x="171.7" y="87.3" width="1.4" height="1.4" fill="#000"/>
<rect x="179.4" y="80.9" width="1.4" height="1.4" fill="#000"/>
<rect x="198.1" y="59.8" width="1.4" height="1.4" fill="#000"/>
<rect x="185.4" y="72.3" width="1.4" height="1.4" fill="#000"/>
<rect x="164.3" y="91.1" width="1.4" height="1.4" fill="#000"/>
<rect x="190.6" y="68.2" width="1.4" height="1.4" fill="#000"/>
<rect x="181.0" y="71.5" width="1.4" height="1.4" fill="#000"/>
<rect x="168.5" y="83.1" width="1.4" height="1.4" fill="#000"/>
<rect x="169.7" y="82.8" width="1.4" height="1.4" fill="#000"/>
<rect x="207.4" y="56.2" width="1.4" height="1.4" fill="#000"/>
<rect x="194.9" y="65.2" width="1.4" height="1.4" fill="#000"/>
<rect x="182.9" y="70.7" width="1.4" height="1.4" fill="#000"/>
<rect x="201.3" y="63.1" width="1.4" height="1.4" fill="#000"/>
<rect x="163.8" y="75.3" width="1.4" height="1.4" fill="#000"/>
<rect x="202.8" y="67.0" width="1.4" height="1.4" fill="#000"/>
<rect x="177.9" y="82.0" width="1.4" height="1.4" fill="#000"/>
<rect x="169.1" y="82.8" width="1.4" height="1.4" fill="#000"/>
<rect x="161.2" y="86.1" width="1.4" height="1.4" fill="#000"/>
<rect x="157.1" y="81.0" width="1.4" height="1.4" fill="#000"/>
<rect x="184.4" y="74.5" width="1.4" height="1.4" fill="#000"/>
<rect x="166.8" y="90.7" width="1.4" height="1.4" fill="#000"/>
<rect x="163.8" y="86.8" width="1.4" height="1.4" fill="#000"/>
<rect x="194.6" y="67.2" width="1.4" height="1.4" fill="#000"/>
<rect x="172.4" y="91.7" width="1.4" height="1.4" fill="#000"/>
<rect x="168.5" y="78.4" width="1.4" height="1.4" fill="#000"/>
<rect x="166.4" y="75.6" width="1.4" height="1.4" fill="#000"/>
<rect x="175.6" y="77.9" width="1.4" height="1.4" fill="#000"/>
<rect x="182.9" y="80.5" width="1.4" height="1.4" fill="#000"/>
<rect x="193.0" y="73.0" width="1.4" height="1.4" fill="#000"/>
<rect x="175.5" y="78.2" width="1.4" height="1.4" fill="#000"/>
<rect x="174.1" y="80.8" width="1.4" height="1.4" fill="#000"/>
<rect x="181.0" y="75.8" width="1.4" height="1.4" fill="#000"/>
<rect x="186.5" y="76.2" width="1.4" height="1.4" fill="#000"/>
<rect x="184.2" y="81.6" width="1.4" height="1.4" fill="#000"/>
<rect x="193.2" y="73.2" width="1.4" height="1.4" fill="#000"/>
<rect x="162.8" y="84.7" width="1.4" height="1.4" fill="#000"/>
<rect x="179.8" y="78.0" width="1.4" height="1.4" fill="#000"/>
<rect x="178.4" y="73.3" width="1.4" height="1.4" fill="#000"/>
<rect x="164.1" y="86.6" width="1.4" height="1.4" fill="#000"/>
<rect x="181.5" y="75.8" width="1.4" height="1.4" fill="#000"/>
<rect x="199.4" y="65.5" width="1.4" height="1.4" fill="#000"/>
<rect x="180.2" y="81.6" width="1.4" height="1.4" fill="#000"/>
<rect x="193.1" y="68.0" width="1.4" height="1.4" fill="#000"/>
<rect x="186.1" y="79.3" width="1.4" height="1.4" fill="#000"/>
<rect x="188.1" y="76.2" width="1.4" height="1.4" fill="#000"/>
<rect x="168.6" y="82.6" width="1.4" height="1.4" fill="#000"/>
<rect x="169.8" y="76.0" width="1.4" height="1.4" fill="#000"/>
<rect x="170.4" y="84.7" width="1.4" height="1.4" fill="#000"/>
<rect x="188.7" y="68.3" width="1.4" height="1.4" fill="#000"/>
<rect x="167.9" y="80.2" width="1.4" height="1.4" fill="#000"/>
<rect x="179.9" y="77.6" width="1.4" height="1.4" fill="#000"/>
<rect x="167.4" y="73.7" width="1.4" height="1.4" fill="#000"/>
<rect x="195.7" y="69.3" width="1.4" height="1.4" fill="#000"/>
<rect x="182.9" y="81.3" width="1.4" height="1.4" fill="#000"/>
<rect x="165.3" y="85.3" width="1.4" height="1.4" fill="#000"/>
<rect x="178.6" y="79.1" width="1.4" height="1.4" fill="#000"/>
<rect x="177.3" y="75.4" width="1.4" height="1.4" fill="#000"/>
<rect x="201.2" y="56.2" width="1.4" height="1.4" fill="#000"/>
<rect x="193.9" y="65.4" width="1.4" height="1.4" fill="#000"/>
<rect x="182.8" y="73.5" width="1.4" height="1.4" fill="#000"/>
<rect x="176.8" y="84.3" width="1.4" height="1.4" fill="#000"/>
<rect x="174.9" y="80.1" width="1.4" height="1.4" fill="#000"/>
<rect x="196.7" y="70.8" width="1.4" height="1.4" fill="#000"/>
<rect x="195.0" y="70.1" width="1.4" height="1.4" fill="#000"/>
<rect x="169.5" y="85.1" width="1.4" height="1.4" fill="#000"/>
<rect x="183.6" y="71.4" width="1.4" height="1.4" fill="#000"/>
<rect x="163.4" y="90.4" width="1.4" height="1.4" fill="#000"/>
<rect x="162.9" y="87.4" width="1.4" height="1.4" fill="#000"/>
<rect x="185.7" y="73.8" width="1.4" height="1.4" fill="#000"/>
<rect x="199.1" y="62.1" width="1.4" height="1.4" fill="#000"/>
<rect x="199.4" y="62.3" width="1.4" height="1.4" fill="#000"/>
<rect x="165.1" y="82.7" width="1.4" height="1.4" fill="#000"/>
<rect x="170.3" y="87.2" width="1.4" height="1.4" fill="#000"/>
<rect x="209.0" y="55.4" width="1.4" height="1.4" fill="#000"/>
<rect x="183.8" y="76.2" width="1.4" height="1.4" fill="#000"/>
<rect x="158.0" y="81.4" width="1.4" height="1.4" fill="#000"/>
<rect x="166.1" y="85.0" width="1.4" height="1.4" fill="#000"/>
<rect x="167.2" y="96.4" width="1.4" height="1.4" fill="#000"/>
<rect x="161.5" y="87.4" width="1.4" height="1.4" fill="#000"/>
<rect x="168.6" y="90.1" width="1.4" height="1.4" fill="#000"/>
<rect x="171.2" y="77.4" width="1.4" height="1.4" fill="#000"/>
<rect x="162.4" y="89.2" width="1.4" height="1.4" fill="#000"/>
<rect x="175.2" y="78.6" width="1.4" height="1.4" fill="#000"/>
<rect x="162.3" y="86.7" width="1.4" height="1.4" fill="#000"/>
<rect x="204.6" y="55.6" width="1.4" height="1.4" fill="#000"/>
<rect x="166.6" y="93.0" width="1.4" height="1.4" fill="#000"/>
<rect x="182.1" y="66.8" width="1.4" height="1.4" fill="#000"/>
<rect x="199.0" y="62.8" width="1.4" height="1.4" fill="#000"/>
<rect x="188.1" y="64.8" width="1.4" height="1.4" fill="#000"/>
<rect x="166.7" y="86.7" width="1.4" height="1.4" fill="#000"/>
<rect x="157.5" y="80.8" width="1.4" height="1.4" fill="#000"/>
<rect x="175.7" y="77.3" width="1.4" height="1.4" fill="#000"/>
<rect x="201.0" y="55.6" width="1.4" height="1.4" fill="#000"/>
<rect x="168.9" y="80.7" width="1.4" height="1.4" fill="#000"/>
<rect x="164.4" y="89.8" width="1.4" height="1.4" fill="#000"/>
<rect x="167.9" y="93.6" width="1.4" height="1.4" fill="#000"/>
<rect x="169.0" y="84.4" width="1.4" height="1.4" fill="#000"/>
<rect x="167.3" y="85.2" width="1.4" height="1.4" fill="#000"/>
<rect x="168.6" y="88.2" width="1.4" height="1.4" fill="#000"/>
<rect x="199.2" y="66.5" width="1.4" height="1.4" fill="#000"/>
<rect x="167.6" y="80.8" width="1.4" height="1.4" fill="#000"/>
<rect x="169.6" y="78.3" width="1.4" height="1.4" fill="#000"/>
<rect x="199.1" y="65.1" width="1.4" height="1.4" fill="#000"/>
<rect x="182.8" y="70.2" width="1.4" height="1.4" fill="#000"/>
<rect x="187.9" y="67.4" width="1.4" height="1.4" fill="#000"/>
<rect x="160.6" y="83.7" width="1.4" height="1.4" fill="#000"/>
<rect x="203.8" y="58.4" width="1.4" height="1.4" fill="#000"/>
<rect x="190.7" y="80.9" width="1.4" height="1.4" fill="#000"/>
<rect x="170.5" y="80.0" width="1.4" height="1.4" fill="#000"/>
<rect x="174.8" y="85.6" width="1.4" height="1.4" fill="#000"/>
<rect x="180.7" y="73.3" width="1.4" height="1.4" fill="#000"/>
<rect x="178.7" y="81.1" width="1.4" height="1.4" fill="#000"/>
<rect x="178.3" y="77.8" width="1.4" height="1.4" fill="#000"/>
<rect x="191.6" y="67.5" width="1.4" height="1.4" fill="#000"/>
<rect x="187.9" y="74.7" width="1.4" height="1.4" fill="#000"/>
<rect x="157.7" y="76.0" width="1.4" height="1.4" fill="#000"/>
<rect x="189.3" y="64.8" width="1.4" height="1.4" fill="#000"/>
<rect x="173.5" y="80.1" width="1.4" height="1.4" fill="#000"/>
<rect x="170.6" y="81.8" width="1.4" height="1.4" fill="#000"/>
<rect x="163.7" y="88.9" width="1.4" height="1.4" fill="#000"/>
<rect x="173.1" y="84.3" width="1.4" height="1.4" fill="#000"/>
<rect x="210.2" y="57.0" width="1.4" height="1.4" fill="#000"/>
<rect x="178.1" y="70.4" width="1.4" height="1.4" fill="#000"/>
<rect x="163.4" y="86.1" width="1.4" height="1.4" fill="#000"/>
<rect x="180.0" y="77.6" width="1.4" height="1.4" fill="#000"/>
<rect x="171.5" y="71.0" width="1.4" height="1.4" fill="#000"/>
<rect x="178.0" y="86.8" width="1.4" height="1.4" fill="#000"/>
<rect x="209.9" y="57.1" width="1.4" height="1.4" fill="#000"/>
<rect x="185.1" y="67.4" width="1.4" height="1.4" fill="#000"/>
<rect x="173.9" y="69.9" width="1.4" height="1.4" fill="#000"/>
<rect x="192.1" y="69.0" width="1.4" height="1.4" fill="#000"/>
<rect x="179.0" y="72.3" width="1.4" height="1.4" fill="#000"/>
<rect x="163.8" y="73.3" width="1.4" height="1.4" fill="#000"/>
<rect x="167.2" y="84.9" width="1.4" height="1.4" fill="#000"/>
<rect x="198.6" y="70.7" width="1.4" height="1.4" fill="#000"/>
<rect x="181.8" y="66.1" width="1.4" height="1.4" fill="#000"/>
<rect x="168.4" y="67.0" width="1.4" height="1.4" fill="#000"/>
<rect x="203.2" y="58.7" width="1.4" height="1.4" fill="#000"/>
<rect x="175.6" y="78.8" width="1.4" height="1.4" fill="#000"/>
<rect x="160.2" y="81.6" width="1.4" height="1.4" fill="#000"/>
<rect x="170.4" y="83.7" width="1.4" height="1.4" fill="#000"/>
<rect x="164.2" y="80.7" width="1.4" height="1.4" fill="#000"/>
<rect x="154.1" y="75.4" width="1.4" height="1.4" fill="#000"/>
<rect x="193.5" y="63.4" width="1.4" height="1.4" fill="#000"/>
<rect x="177.2" y="70.4" width="1.4" height="1.4" fill="#000"/>
<rect x="178.5" y="73.2" width="1.4" height="1.4" fill="#000"/>
<rect x="202.1" y="59.3" width="1.4" height="1.4" fill="#000"/>
<rect x="164.4" y="83.1" width="1.4" height="1.4" fill="#000"/>
<rect x="179.7" y="85.2" width="1.4" height="1.4" fill="#000"/>
<rect x="173.9" y="75.9" width="1.4" height="1.4" fill="#000"/>
<rect x="174.5" y="94.3" width="1.4" height="1.4" fill="#000"/>
<rect x="164.5" y="85.3" width="1.4" height="1.4" fill="#000"/>
<rect x="185.7" y="62.7" width="1.4" height="1.4" fill="#000"/>
<rect x="174.3" y="82.2" width="1.4" height="1.4" fill="#000"/>
<rect x="170.7" y="79.0" width="1.4" height="1.4" fill="#000"/>
<rect x="179.1" y="76.5" width="1.4" height="1.4" fill="#000"/>
<rect x="178.5" y="73.4" width="1.4" height="1.4" fill="#000"/>
<rect x="167.4" y="84.1" width="1.4" height="1.4" fill="#000"/>
<rect x="169.1" y="75.2" width="1.4" height="1.4" fill="#000"/>
<rect x="181.2" y="72.1" width="1.4" height="1.4" fill="#000"/>
<rect x="169.6" y="92.2" width="1.4" height="1.4" fill="#000"/>
<rect x="176.2" y="77.6" width="1.4" height="1.4" fill="#000"/>
<rect x="162.7" y="88.4" width="1.4" height="1.4" fill="#000"/>
<rect x="162.9" y="79.4" width="1.4" height="1.4" fill="#000"/>
<rect x="199.7" y="65.5" width="1.4" height="1.4" fill="#000"/>
<rect x="187.2" y="67.7" width="1.4" height="1.4" fill="#000"/>
<rect x="196.1" y="68.1" width="1.4" height="1.4" fill="#000"/>
<rect x="166.6" y="73.4" width="1.4" height="1.4" fill="#000"/>
<rect x="167.9" y="87.6" width="1.4" height="1.4" fill="#000"/>
<rect x="170.5" y="81.2" width="1.4" height="1.4" fill="#000"/>
<rect x="169.3" y="85.3" width="1.4" height="1.4" fill="#000"/>
<rect x="198.5" y="69.9" width="1.4" height="1.4" fill="#000"/>
<rect x="207.1" y="59.3" width="1.4" height="1.4" fill="#000"/>
<rect x="176.4" y="84.9" width="1.4" height="1.4" fill="#000"/>
<rect x="185.8" y="70.3" width="1.4" height="1.4" fill="#000"/>
<rect x="194.6" y="60.1" width="1.4" height="1.4" fill="#000"/>
<rect x="167.1" y="82.8" width="1.4" height="1.4" fill="#000"/>
<rect x="189.8" y="61.0" width="1.4" height="1.4" fill="#000"/>
<rect x="169.9" y="92.6" width="1.4" height="1.4" fill="#000"/>
<rect x="169.9" y="92.4" width="1.4" height="1.4" fill="#000"/>
<rect x="168.0" y="89.8" width="1.4" height="1.4" fill="#000"/>
<rect x="168.2" y="85.0" width="1.4" height="1.4" fill="#000"/>
<rect x="194.2" y="65.2" width="1.4" height="1.4" fill="#000"/>
<rect x="176.5" y="71.4" width="1.4" height="1.4" fill="#000"/>
<rect x="193.1" y="63.4" width="1.4" height="1.4" fill="#000"/>
<rect x="178.6" y="78.4" width="1.4" height="1.4" fill="#000"/>
<rect x="200.9" y="54.8" width="1.4" height="1.4" fill="#000"/>
<rect x="193.3" y="68.3" width="1.4" height="1.4" fill="#000"/>
<rect x="176.5" y="73.5" width="1.4" height="1.4" fill="#000"/>
<rect x="167.0" y="84.3" width="1.4" height="1.4" fill="#000"/>
<rect x="186.5" y="70.7" width="1.4" height="1.4" fill="#000"/>
<rect x="177.3" y="72.5" width="1.4" height="1.4" fill="#000"/>
<rect x="194.9" y="65.1" width="1.4" height="1.4" fill="#000"/>
<rect x="174.6" y="75.2" width="1.4" height="1.4" fill="#000"/>
<rect x="201.0" y="59.2" width="1.4" height="1.4" fill="#000"/>
<rect x="184.7" y="75.9" width="1.4" height="1.4" fill="#000"/>
<rect x="180.9" y="67.2" width="1.4" height="1.4" fill="#000"/>
<rect x="169.4" y="81.2" width="1.4" height="1.4" fill="#000"/>
<rect x="174.4" y="73.9" width="1.4" height="1.4" fill="#000"/>
<rect x="162.7" y="89.8" width="1.4" height="1.4" fill="#000"/>
<rect x="172.9" y="85.7" width="1.4" height="1.4" fill="#000"/>
<rect x="182.8" y="71.9" width="1.4" height="1.4" fill="#000"/>
<rect x="171.9" y="90.5" width="1.4" height="1.4" fill="#000"/>
<rect x="185.2" y="81.4" width="1.4" height="1.4" fill="#000"/>
<rect x="160.6" y="77.5" width="1.4" height="1.4" fill="#000"/>
<rect x="178.0" y="78.4" width="1.4" height="1.4" fill="#000"/>
<rect x="170.4" y="82.4" width="1.4" height="1.4" fill="#000"/>
<rect x="168.8" y="86.4" width="1.4" height="1.4" fill="#000"/>
<rect x="184.6" y="75.7" width="1.4" height="1.4" fill="#000"/>
<rect x="170.0" y="78.9" width="1.4" height="1.4" fill="#000"/>
<rect x="196.5" y="60.6" width="1.4" height="1.4" fill="#000"/>
<rect x="171.6" y="84.2" width="1.4" height="1.4" fill="#000"/>
<rect x="179.2" y="72.5" width="1.4" height="1.4" fill="#000"/>
<rect x="162.9" y="86.9" width="1.4" height="1.4" fill="#000"/>
<rect x="184.8" y="74.5" width="1.4" height="1.4" fill="#000"/>
<rect x="171.8" y="74.3" width="1.4" height="1.4" fill="#000"/>
<rect x="197.7" y="62.0" width="1.4" height="1.4" fill="#000"/>
<rect x="162.7" y="85.5" width="1.4" height="1.4" fill="#000"/>
<rect x="179.4" y="71.2" width="1.4" height="1.4" fill="#000"/>
<rect x="189.5" y="73.7" width="1.4" height="1.4" fill="#000"/>
<rect x="165.8" y="86.8" width="1.4" height="1.4" fill="#000"/>
<rect x="167.8" y="82.1" width="1.4" height="1.4" fill="#000"/>
<rect x="190.2" y="70.6" width="1.4" height="1.4" fill="#000"/>
<rect x="174.1" y="76.8" width="1.4" height="1.4" fill="#000"/>
<rect x="199.3" y="64.0" width="1.4" height="1.4" fill="#000"/>
<rect x="204.3" y="58.1" width="1.4" height="1.4" fill="#000"/>
<rect x="187.4" y="70.3" width="1.4" height="1.4" fill="#000"/>
<rect x="176.6" y="75.4" width="1.4" height="1.4" fill="#000"/>
<rect x="180.2" y="71.4" width="1.4" height="1.4" fill="#000"/>
<rect x="176.6" y="80.3" width="1.4" height="1.4" fill="#000"/>
<rect x="202.0" y="62.5" width="1.4" height="1.4" fill="#000"/>
<rect x="167.2" y="82.9" width="1.4" height="1.4" fill="#000"/>
<rect x="165.9" y="87.7" width="1.4" height="1.4" fill="#000"/>
<rect x="175.6" y="77.3" width="1.4" height="1.4" fill="#000"/>
<rect x="166.5" y="75.1" width="1.4" height="1.4" fill="#000"/>
<rect x="186.2" y="73.1" width="1.4" height="1.4" fill="#000"/>
<rect x="175.2" y="79.0" width="1.4" height="1.4" fill="#000"/>
<rect x="179.6" y="74.9" width="1.4" height="1.4" fill="#000"/>
<rect x="179.1" y="73.5" width="1.4" height="1.4" fill="#000"/>
<rect x="184.8" y="67.9" width="1.4" height="1.4" fill="#000"/>
<rect x="203.3" y="57.6" width="1.4" height="1.4" fill="#000"/>
<rect x="202.0" y="68.3" width="1.4" height="1.4" fill="#000"/>
<rect x="203.0" y="59.4" width="1.4" height="1.4" fill="#000"/>
<rect x="173.2" y="82.1" width="1.4" height="1.4" fill="#000"/>
<rect x="187.9" y="68.9" width="1.4" height="1.4" fill="#000"/>
<rect x="165.2" y="81.2" width="1.4" height="1.4" fill="#000"/>
<rect x="183.9" y="74.2" width="1.4" height="1.4" fill="#000"/>
<rect x="216.2" y="50.8" width="1.3" height="1.3" fill="#000"/>
<rect x="226.4" y="37.4" width="1.3" height="1.3" fill="#000"/>
<rect x="207.3" y="52.9" width="1.3" height="1.3" fill="#000"/>
<rect x="205.9" y="54.6" width="1.3" height="1.3" fill="#000"/>
<rect x="229.5" y="36.6" width="1.3" height="1.3" fill="#000"/>
<rect x="224.2" y="38.4" width="1.3" height="1.3" fill="#000"/>
<rect x="214.7" y="43.8" width="1.3" height="1.3" fill="#000"/>
<rect x="208.3" y="52.5" width="1.3" height="1.3" fill="#000"/>
<rect x="212.9" y="48.5" width="1.3" height="1.3" fill="#000"/>
<rect x="233.6" y="35.1" width="1.3" height="1.3" fill="#000"/>
<rect x="207.5" y="55.5" width="1.3" height="1.3" fill="#000"/>
<rect x="211.7" y="54.4" width="1.3" height="1.3" fill="#000"/>
<rect x="220.0" y="44.9" width="1.3" height="1.3" fill="#000"/>
<rect x="226.0" y="35.6" width="1.3" height="1.3" fill="#000"/>
<rect x="221.4" y="46.1" width="1.3" height="1.3" fill="#000"/>
<rect x="211.2" y="52.7" width="1.3" height="1.3" fill="#000"/>
<rect x="149.9" y="72.6" width="2.8" height="2.8" fill="#1818d8"/>
<rect x="156.8" y="76.0" width="2.8" height="2.8" fill="#1818d8"/>
<rect x="155.4" y="78.5" width="2.8" height="2.8" fill="#1818d8"/>
<rect x="153.9" y="80.8" width="2.8" height="2.8" fill="#1818d8"/>
<rect x="145.8" y="85.9" width="2.8" height="2.8" fill="#1818d8"/>
<rect x="137.6" y="90.4" width="2.8" height="2.8" fill="#1818d8"/>
<rect x="145.0" y="89.6" width="2.8" height="2.8" fill="#1818d8"/>
<rect x="133.9" y="97.7" width="2.8" height="2.8" fill="#1818d8"/>
<rect x="129.5" y="98.5" width="2.8" height="2.8" fill="#1818d8"/>
<rect x="128.0" y="101.4" width="2.8" height="2.8" fill="#1818d8"/>
<rect x="125.1" y="102.9" width="2.8" height="2.8" fill="#1818d8"/>
<rect x="170.6" y="68.6" width="2.8" height="2.8" fill="#1818d8"/>
<rect x="108.5" y="104.7" width="2.8" height="2.8" fill="#1818d8"/>
<rect x="118.4" y="108.4" width="2.8" height="2.8" fill="#1818d8"/>
<rect x="123.3" y="104.1" width="2.8" height="2.8" fill="#1818d8"/>
<rect x="128.2" y="101.0" width="2.8" height="2.8" fill="#1818d8"/>
<rect x="133.2" y="97.9" width="2.8" height="2.8" fill="#1818d8"/>
<rect x="139.3" y="95.4" width="2.8" height="2.8" fill="#1818d8"/>
<rect x="113.6" y="110.1" width="2.8" height="2.8" fill="#1818d8"/>
<rect x="119.6" y="106.6" width="2.8" height="2.8" fill="#1818d8"/>
<rect x="94.6" y="120.6" width="2.8" height="2.8" fill="#1818d8"/>
<rect x="89.6" y="124.1" width="2.8" height="2.8" fill="#1818d8"/>
<rect x="98.6" y="118.6" width="2.8" height="2.8" fill="#1818d8"/>
<rect x="141.6" y="91.6" width="2.8" height="2.8" fill="#1818d8"/>
<rect x="148.6" y="87.1" width="2.8" height="2.8" fill="#1818d8"/>
<rect x="176.0" y="85.9" width="2.8" height="2.8" fill="#e01818"/>
<rect x="177.5" y="87.4" width="2.8" height="2.8" fill="#e01818"/>
<rect x="160.5" y="98.5" width="2.8" height="2.8" fill="#e01818"/>
<rect x="163.5" y="102.2" width="2.8" height="2.8" fill="#e01818"/>
<rect x="150.9" y="105.9" width="2.8" height="2.8" fill="#e01818"/>
<rect x="147.2" y="105.9" width="2.8" height="2.8" fill="#e01818"/>
<rect x="151.6" y="113.3" width="2.8" height="2.8" fill="#e01818"/>
<rect x="147.2" y="114.0" width="2.8" height="2.8" fill="#e01818"/>
<rect x="139.1" y="115.5" width="2.8" height="2.8" fill="#e01818"/>
<rect x="182.6" y="82.2" width="2.8" height="2.8" fill="#e01818"/>
<rect x="189.1" y="75.3" width="2.8" height="2.8" fill="#e01818"/>
<rect x="183.9" y="83.1" width="2.8" height="2.8" fill="#e01818"/>
<rect x="190.5" y="98.1" width="2.8" height="2.8" fill="#e01818"/>
<rect x="160.6" y="99.3" width="2.8" height="2.8" fill="#e01818"/>
<rect x="163.3" y="101.9" width="2.8" height="2.8" fill="#e01818"/>
<rect x="168.4" y="120.5" width="2.8" height="2.8" fill="#e01818"/>
<rect x="151.2" y="113.1" width="2.8" height="2.8" fill="#e01818"/>
<rect x="133.2" y="123.2" width="2.8" height="2.8" fill="#e01818"/>
<rect x="136.9" y="119.5" width="2.8" height="2.8" fill="#e01818"/>
<rect x="140.6" y="117.0" width="2.8" height="2.8" fill="#e01818"/>
<rect x="141.8" y="122.5" width="2.8" height="2.8" fill="#e01818"/>
<rect x="146.7" y="113.9" width="2.8" height="2.8" fill="#e01818"/>
<rect x="151.6" y="112.1" width="2.8" height="2.8" fill="#e01818"/>
<rect x="117.1" y="134.2" width="2.8" height="2.8" fill="#e01818"/>
<rect x="115.9" y="137.3" width="2.8" height="2.8" fill="#e01818"/>
<rect x="119.6" y="133.0" width="2.8" height="2.8" fill="#e01818"/>
<rect x="134.4" y="120.1" width="2.8" height="2.8" fill="#e01818"/>
<rect x="126.6" y="138.6" width="2.8" height="2.8" fill="#e01818"/>
<rect x="111.6" y="144.6" width="2.8" height="2.8" fill="#e01818"/>
<rect x="123.6" y="144.1" width="2.8" height="2.8" fill="#e01818"/>
<rect x="108.6" y="146.1" width="2.8" height="2.8" fill="#e01818"/>
<rect x="129.6" y="135.6" width="2.8" height="2.8" fill="#e01818"/>
<rect x="232.9" y="32.1" width="1.4" height="1.4" fill="#000"/>
<rect x="407.7" y="88.5" width="2.6" height="2.6" fill="#1818d8"/>
<rect x="382.9" y="108.8" width="2.6" height="2.6" fill="#1818d8"/>
<rect x="374.1" y="116.1" width="2.6" height="2.6" fill="#1818d8"/>
<rect x="368.0" y="104.8" width="2.6" height="2.6" fill="#1818d8"/>
<rect x="426.0" y="82.9" width="2.6" height="2.6" fill="#1818d8"/>
<rect x="375.3" y="115.2" width="2.6" height="2.6" fill="#1818d8"/>
<rect x="366.3" y="104.2" width="2.6" height="2.6" fill="#1818d8"/>
<rect x="374.6" y="109.5" width="2.6" height="2.6" fill="#1818d8"/>
<rect x="414.3" y="88.7" width="2.6" height="2.6" fill="#1818d8"/>
<rect x="352.7" y="133.0" width="2.6" height="2.6" fill="#1818d8"/>
<rect x="418.9" y="83.2" width="2.6" height="2.6" fill="#1818d8"/>
<rect x="405.9" y="94.5" width="2.6" height="2.6" fill="#1818d8"/>
<rect x="399.9" y="96.3" width="2.6" height="2.6" fill="#1818d8"/>
<rect x="386.1" y="107.9" width="2.6" height="2.6" fill="#1818d8"/>
<rect x="357.0" y="128.2" width="2.6" height="2.6" fill="#1818d8"/>
<rect x="359.2" y="128.7" width="2.6" height="2.6" fill="#1818d8"/>
<rect x="421.6" y="84.0" width="2.6" height="2.6" fill="#1818d8"/>
<rect x="393.2" y="100.6" width="2.6" height="2.6" fill="#1818d8"/>
<rect x="374.2" y="115.7" width="2.6" height="2.6" fill="#1818d8"/>
<rect x="421.2" y="72.3" width="2.6" height="2.6" fill="#1818d8"/>
<rect x="379.6" y="97.4" width="2.6" height="2.6" fill="#1818d8"/>
<rect x="414.9" y="85.3" width="2.6" height="2.6" fill="#1818d8"/>
<rect x="377.9" y="114.4" width="2.6" height="2.6" fill="#1818d8"/>
<rect x="379.1" y="108.6" width="2.6" height="2.6" fill="#1818d8"/>
<rect x="387.4" y="105.4" width="2.6" height="2.6" fill="#1818d8"/>
<rect x="377.4" y="110.6" width="2.6" height="2.6" fill="#1818d8"/>
<rect x="392.3" y="103.4" width="2.6" height="2.6" fill="#1818d8"/>
<rect x="367.4" y="118.1" width="2.6" height="2.6" fill="#1818d8"/>
<rect x="380.5" y="100.5" width="2.6" height="2.6" fill="#1818d8"/>
<rect x="346.6" y="137.8" width="2.6" height="2.6" fill="#1818d8"/>
<rect x="404.0" y="92.2" width="2.6" height="2.6" fill="#1818d8"/>
<rect x="356.3" y="129.3" width="2.6" height="2.6" fill="#1818d8"/>
<rect x="355.3" y="129.1" width="2.6" height="2.6" fill="#1818d8"/>
<rect x="390.2" y="103.3" width="2.6" height="2.6" fill="#1818d8"/>
<rect x="393.5" y="95.4" width="2.6" height="2.6" fill="#1818d8"/>
<rect x="418.4" y="86.5" width="2.6" height="2.6" fill="#1818d8"/>
<rect x="357.9" y="127.0" width="2.6" height="2.6" fill="#1818d8"/>
<rect x="426.1" y="84.0" width="2.6" height="2.6" fill="#1818d8"/>
<rect x="423.0" y="81.4" width="2.6" height="2.6" fill="#1818d8"/>
<rect x="375.1" y="116.9" width="2.6" height="2.6" fill="#1818d8"/>
<rect x="398.6" y="91.1" width="2.6" height="2.6" fill="#1818d8"/>
<rect x="359.4" y="128.6" width="2.6" height="2.6" fill="#1818d8"/>
<rect x="375.4" y="116.7" width="2.6" height="2.6" fill="#1818d8"/>
<rect x="378.3" y="105.8" width="2.6" height="2.6" fill="#1818d8"/>
<rect x="348.4" y="137.2" width="2.6" height="2.6" fill="#1818d8"/>
<rect x="353.7" y="129.2" width="2.6" height="2.6" fill="#1818d8"/>
<rect x="363.0" y="126.2" width="2.6" height="2.6" fill="#1818d8"/>
<rect x="401.4" y="93.8" width="2.6" height="2.6" fill="#1818d8"/>
<rect x="425.3" y="80.8" width="2.6" height="2.6" fill="#1818d8"/>
<rect x="375.9" y="113.7" width="2.6" height="2.6" fill="#1818d8"/>
<rect x="384.0" y="109.5" width="2.6" height="2.6" fill="#1818d8"/>
<rect x="388.6" y="97.5" width="2.6" height="2.6" fill="#1818d8"/>
<rect x="356.8" y="129.0" width="2.6" height="2.6" fill="#1818d8"/>
<rect x="418.5" y="77.1" width="2.6" height="2.6" fill="#1818d8"/>
<rect x="407.3" y="84.7" width="2.6" height="2.6" fill="#1818d8"/>
<rect x="420.4" y="85.1" width="2.6" height="2.6" fill="#1818d8"/>
<rect x="402.1" y="94.5" width="2.6" height="2.6" fill="#1818d8"/>
<rect x="398.9" y="99.1" width="2.6" height="2.6" fill="#1818d8"/>
<rect x="386.7" y="104.0" width="2.6" height="2.6" fill="#1818d8"/>
<rect x="399.3" y="95.0" width="2.6" height="2.6" fill="#1818d8"/>
<rect x="423.7" y="83.0" width="2.6" height="2.6" fill="#1818d8"/>
<rect x="420.3" y="82.3" width="2.6" height="2.6" fill="#1818d8"/>
<rect x="392.2" y="103.7" width="2.6" height="2.6" fill="#1818d8"/>
<rect x="401.3" y="97.9" width="2.6" height="2.6" fill="#1818d8"/>
<rect x="411.4" y="86.9" width="2.6" height="2.6" fill="#1818d8"/>
<rect x="410.7" y="69.2" width="2.6" height="2.6" fill="#1818d8"/>
<rect x="391.4" y="101.6" width="2.6" height="2.6" fill="#1818d8"/>
<rect x="387.1" y="103.3" width="2.6" height="2.6" fill="#1818d8"/>
<rect x="391.7" y="102.7" width="2.6" height="2.6" fill="#1818d8"/>
<rect x="401.9" y="90.4" width="2.6" height="2.6" fill="#1818d8"/>
<rect x="394.2" y="98.3" width="2.6" height="2.6" fill="#1818d8"/>
<rect x="417.7" y="83.1" width="2.6" height="2.6" fill="#1818d8"/>
<rect x="351.0" y="128.0" width="2.6" height="2.6" fill="#1818d8"/>
<rect x="389.1" y="87.6" width="2.6" height="2.6" fill="#1818d8"/>
<rect x="370.5" y="118.2" width="2.6" height="2.6" fill="#1818d8"/>
<rect x="373.7" y="99.6" width="2.6" height="2.6" fill="#1818d8"/>
<rect x="383.6" y="106.4" width="2.6" height="2.6" fill="#1818d8"/>
<rect x="417.6" y="78.1" width="2.6" height="2.6" fill="#1818d8"/>
<rect x="351.3" y="134.0" width="2.6" height="2.6" fill="#1818d8"/>
<rect x="370.2" y="114.0" width="2.6" height="2.6" fill="#1818d8"/>
<rect x="390.4" y="102.0" width="2.6" height="2.6" fill="#1818d8"/>
<rect x="417.7" y="86.0" width="2.6" height="2.6" fill="#1818d8"/>
<rect x="388.4" y="105.6" width="2.6" height="2.6" fill="#1818d8"/>
<rect x="354.6" y="130.9" width="2.6" height="2.6" fill="#1818d8"/>
<rect x="347.3" y="134.7" width="2.6" height="2.6" fill="#1818d8"/>
<rect x="358.9" y="128.9" width="2.6" height="2.6" fill="#1818d8"/>
<rect x="374.4" y="111.4" width="2.6" height="2.6" fill="#1818d8"/>
<rect x="379.6" y="113.0" width="2.6" height="2.6" fill="#1818d8"/>
<rect x="425.4" y="84.5" width="2.6" height="2.6" fill="#1818d8"/>
<rect x="420.2" y="78.8" width="2.6" height="2.6" fill="#1818d8"/>
<rect x="391.5" y="99.4" width="2.6" height="2.6" fill="#1818d8"/>
<rect x="379.2" y="108.7" width="2.6" height="2.6" fill="#1818d8"/>
<rect x="369.6" y="105.1" width="2.6" height="2.6" fill="#1818d8"/>
<rect x="399.9" y="88.7" width="2.6" height="2.6" fill="#1818d8"/>
<rect x="363.7" y="117.1" width="2.6" height="2.6" fill="#1818d8"/>
<rect x="377.5" y="101.6" width="2.6" height="2.6" fill="#1818d8"/>
<rect x="412.9" y="88.8" width="2.6" height="2.6" fill="#1818d8"/>
<rect x="354.3" y="130.8" width="2.6" height="2.6" fill="#1818d8"/>
<rect x="357.2" y="127.8" width="2.6" height="2.6" fill="#1818d8"/>
<rect x="402.2" y="95.7" width="2.6" height="2.6" fill="#1818d8"/>
<rect x="378.3" y="114.1" width="2.6" height="2.6" fill="#1818d8"/>
<rect x="399.2" y="96.8" width="2.6" height="2.6" fill="#1818d8"/>
<rect x="415.9" y="84.7" width="2.6" height="2.6" fill="#1818d8"/>
<rect x="371.2" y="115.5" width="2.6" height="2.6" fill="#1818d8"/>
<rect x="364.1" y="119.6" width="2.6" height="2.6" fill="#1818d8"/>
<rect x="379.4" y="108.1" width="2.6" height="2.6" fill="#1818d8"/>
<rect x="412.0" y="88.7" width="2.6" height="2.6" fill="#1818d8"/>
<rect x="426.3" y="77.7" width="2.6" height="2.6" fill="#1818d8"/>
<rect x="420.0" y="85.3" width="2.6" height="2.6" fill="#1818d8"/>
<rect x="426.2" y="85.3" width="2.6" height="2.6" fill="#1818d8"/>
<rect x="354.4" y="128.4" width="2.6" height="2.6" fill="#1818d8"/>
<rect x="398.1" y="95.0" width="2.6" height="2.6" fill="#1818d8"/>
<rect x="413.6" y="81.4" width="2.6" height="2.6" fill="#1818d8"/>
<rect x="383.5" y="105.2" width="2.6" height="2.6" fill="#1818d8"/>
<rect x="408.5" y="87.9" width="2.6" height="2.6" fill="#1818d8"/>
<rect x="354.9" y="129.2" width="2.6" height="2.6" fill="#1818d8"/>
<rect x="413.6" y="89.5" width="2.6" height="2.6" fill="#1818d8"/>
<rect x="414.7" y="86.8" width="2.6" height="2.6" fill="#1818d8"/>
<rect x="370.4" y="105.7" width="2.6" height="2.6" fill="#1818d8"/>
<rect x="364.2" y="121.3" width="2.6" height="2.6" fill="#1818d8"/>
<rect x="425.7" y="83.3" width="2.6" height="2.6" fill="#1818d8"/>
<rect x="421.2" y="83.2" width="2.6" height="2.6" fill="#1818d8"/>
<rect x="395.8" y="100.2" width="2.6" height="2.6" fill="#1818d8"/>
<rect x="401.0" y="95.4" width="2.6" height="2.6" fill="#1818d8"/>
<rect x="350.4" y="135.2" width="2.6" height="2.6" fill="#1818d8"/>
<rect x="405.6" y="89.6" width="2.6" height="2.6" fill="#1818d8"/>
<rect x="408.2" y="92.9" width="2.6" height="2.6" fill="#1818d8"/>
<rect x="415.0" y="75.9" width="2.6" height="2.6" fill="#1818d8"/>
<rect x="404.3" y="94.5" width="2.6" height="2.6" fill="#1818d8"/>
<rect x="425.2" y="86.3" width="2.6" height="2.6" fill="#1818d8"/>
<rect x="396.1" y="97.6" width="2.6" height="2.6" fill="#1818d8"/>
<rect x="404.0" y="95.6" width="2.6" height="2.6" fill="#1818d8"/>
<rect x="346.0" y="138.9" width="2.6" height="2.6" fill="#1818d8"/>
<rect x="422.8" y="82.5" width="2.6" height="2.6" fill="#1818d8"/>
<rect x="355.4" y="131.4" width="2.6" height="2.6" fill="#1818d8"/>
<rect x="346.1" y="137.9" width="2.6" height="2.6" fill="#1818d8"/>
<rect x="417.0" y="86.5" width="2.6" height="2.6" fill="#1818d8"/>
<rect x="392.3" y="96.0" width="2.6" height="2.6" fill="#1818d8"/>
<rect x="375.4" y="111.9" width="2.6" height="2.6" fill="#1818d8"/>
<rect x="401.3" y="96.9" width="2.6" height="2.6" fill="#1818d8"/>
<rect x="386.2" y="104.6" width="2.6" height="2.6" fill="#1818d8"/>
<rect x="410.9" y="83.5" width="2.6" height="2.6" fill="#1818d8"/>
<rect x="396.8" y="99.1" width="2.6" height="2.6" fill="#1818d8"/>
<rect x="369.1" y="119.5" width="2.6" height="2.6" fill="#1818d8"/>
<rect x="369.3" y="116.8" width="2.6" height="2.6" fill="#1818d8"/>
<rect x="365.8" y="119.7" width="2.6" height="2.6" fill="#1818d8"/>
<rect x="393.5" y="101.3" width="2.6" height="2.6" fill="#1818d8"/>
<rect x="384.0" y="109.5" width="2.6" height="2.6" fill="#1818d8"/>
<rect x="365.2" y="121.2" width="2.6" height="2.6" fill="#1818d8"/>
<rect x="387.3" y="106.4" width="2.6" height="2.6" fill="#1818d8"/>
<rect x="350.4" y="135.0" width="2.6" height="2.6" fill="#1818d8"/>
<rect x="409.3" y="90.8" width="2.6" height="2.6" fill="#1818d8"/>
<rect x="352.8" y="132.2" width="2.6" height="2.6" fill="#1818d8"/>
<rect x="362.4" y="120.7" width="2.6" height="2.6" fill="#1818d8"/>
<rect x="353.5" y="130.8" width="2.6" height="2.6" fill="#1818d8"/>
<rect x="393.4" y="99.7" width="2.6" height="2.6" fill="#1818d8"/>
<rect x="348.0" y="134.9" width="2.6" height="2.6" fill="#1818d8"/>
<rect x="398.5" y="97.0" width="2.6" height="2.6" fill="#1818d8"/>
<rect x="353.2" y="132.9" width="2.6" height="2.6" fill="#1818d8"/>
<rect x="366.6" y="119.3" width="2.6" height="2.6" fill="#1818d8"/>
<rect x="413.9" y="75.1" width="2.6" height="2.6" fill="#1818d8"/>
<rect x="396.1" y="97.9" width="2.6" height="2.6" fill="#1818d8"/>
<rect x="426.5" y="71.1" width="2.6" height="2.6" fill="#1818d8"/>
<rect x="376.1" y="113.3" width="2.6" height="2.6" fill="#1818d8"/>
<rect x="389.8" y="100.7" width="2.6" height="2.6" fill="#1818d8"/>
<rect x="393.3" y="99.5" width="2.6" height="2.6" fill="#1818d8"/>
<rect x="347.3" y="135.1" width="2.6" height="2.6" fill="#1818d8"/>
<rect x="375.4" y="100.5" width="2.6" height="2.6" fill="#1818d8"/>
<rect x="373.6" y="114.7" width="2.6" height="2.6" fill="#1818d8"/>
<rect x="387.2" y="97.9" width="2.6" height="2.6" fill="#1818d8"/>
<rect x="408.6" y="91.8" width="2.6" height="2.6" fill="#1818d8"/>
<rect x="397.5" y="98.6" width="2.6" height="2.6" fill="#1818d8"/>
<rect x="385.3" y="107.7" width="2.6" height="2.6" fill="#1818d8"/>
<rect x="408.0" y="93.0" width="2.6" height="2.6" fill="#1818d8"/>
<rect x="380.6" y="107.0" width="2.6" height="2.6" fill="#1818d8"/>
<rect x="374.1" y="115.0" width="2.6" height="2.6" fill="#1818d8"/>
<rect x="397.7" y="97.8" width="2.6" height="2.6" fill="#1818d8"/>
<rect x="373.3" y="113.4" width="2.6" height="2.6" fill="#1818d8"/>
<rect x="409.4" y="88.5" width="2.6" height="2.6" fill="#1818d8"/>
<rect x="410.4" y="88.2" width="2.6" height="2.6" fill="#1818d8"/>
<rect x="392.3" y="98.4" width="2.6" height="2.6" fill="#1818d8"/>
<rect x="419.9" y="85.4" width="2.6" height="2.6" fill="#1818d8"/>
<rect x="409.5" y="91.5" width="2.6" height="2.6" fill="#1818d8"/>
<rect x="347.9" y="137.4" width="2.6" height="2.6" fill="#1818d8"/>
<rect x="370.2" y="120.0" width="2.6" height="2.6" fill="#1818d8"/>
<rect x="382.0" y="111.3" width="2.6" height="2.6" fill="#1818d8"/>
<rect x="417.5" y="82.9" width="2.6" height="2.6" fill="#1818d8"/>
<rect x="388.4" y="106.2" width="2.6" height="2.6" fill="#1818d8"/>
<rect x="399.0" y="97.9" width="2.6" height="2.6" fill="#1818d8"/>
<rect x="348.6" y="135.9" width="2.6" height="2.6" fill="#1818d8"/>
<rect x="394.9" y="100.6" width="2.6" height="2.6" fill="#1818d8"/>
<rect x="417.9" y="84.1" width="2.6" height="2.6" fill="#1818d8"/>
<rect x="353.6" y="128.4" width="2.6" height="2.6" fill="#1818d8"/>
<rect x="413.1" y="86.1" width="2.6" height="2.6" fill="#1818d8"/>
<rect x="421.7" y="75.1" width="2.6" height="2.6" fill="#1818d8"/>
<rect x="425.4" y="84.5" width="2.6" height="2.6" fill="#1818d8"/>
<rect x="421.4" y="84.9" width="2.6" height="2.6" fill="#1818d8"/>
<rect x="410.8" y="90.1" width="2.6" height="2.6" fill="#1818d8"/>
<rect x="368.9" y="118.5" width="2.6" height="2.6" fill="#1818d8"/>
<rect x="407.9" y="85.3" width="2.6" height="2.6" fill="#1818d8"/>
<rect x="407.9" y="89.2" width="2.6" height="2.6" fill="#1818d8"/>
<rect x="365.9" y="119.2" width="2.6" height="2.6" fill="#1818d8"/>
<rect x="408.1" y="91.8" width="2.6" height="2.6" fill="#1818d8"/>
<rect x="352.8" y="131.1" width="2.6" height="2.6" fill="#1818d8"/>
<rect x="424.7" y="79.9" width="2.6" height="2.6" fill="#1818d8"/>
<rect x="362.7" y="125.7" width="2.6" height="2.6" fill="#1818d8"/>
<rect x="426.3" y="82.4" width="2.6" height="2.6" fill="#1818d8"/>
<rect x="374.2" y="112.8" width="2.6" height="2.6" fill="#1818d8"/>
<rect x="377.4" y="114.4" width="2.6" height="2.6" fill="#1818d8"/>
<rect x="405.3" y="87.7" width="2.6" height="2.6" fill="#1818d8"/>
<rect x="389.7" y="102.6" width="2.6" height="2.6" fill="#1818d8"/>
<rect x="387.8" y="105.1" width="2.6" height="2.6" fill="#1818d8"/>
<rect x="404.3" y="91.0" width="2.6" height="2.6" fill="#1818d8"/>
<rect x="422.0" y="83.6" width="2.6" height="2.6" fill="#1818d8"/>
<rect x="414.5" y="87.5" width="2.6" height="2.6" fill="#1818d8"/>
<rect x="351.5" y="134.6" width="2.6" height="2.6" fill="#1818d8"/>
<rect x="391.1" y="104.5" width="2.6" height="2.6" fill="#1818d8"/>
<rect x="415.3" y="77.9" width="2.6" height="2.6" fill="#1818d8"/>
<rect x="407.8" y="91.8" width="2.6" height="2.6" fill="#1818d8"/>
<rect x="352.0" y="133.9" width="2.6" height="2.6" fill="#1818d8"/>
<rect x="389.0" y="94.0" width="2.6" height="2.6" fill="#1818d8"/>
<rect x="405.8" y="91.9" width="2.6" height="2.6" fill="#1818d8"/>
<rect x="398.9" y="98.8" width="2.6" height="2.6" fill="#1818d8"/>
<rect x="372.1" y="117.3" width="2.6" height="2.6" fill="#1818d8"/>
<rect x="393.3" y="99.2" width="2.6" height="2.6" fill="#1818d8"/>
<rect x="415.4" y="86.7" width="2.6" height="2.6" fill="#1818d8"/>
<rect x="372.4" y="112.0" width="2.6" height="2.6" fill="#1818d8"/>
<rect x="390.4" y="103.2" width="2.6" height="2.6" fill="#1818d8"/>
<rect x="362.8" y="121.8" width="2.6" height="2.6" fill="#1818d8"/>
<rect x="410.0" y="91.8" width="2.6" height="2.6" fill="#1818d8"/>
<rect x="362.3" y="124.9" width="2.6" height="2.6" fill="#1818d8"/>
<rect x="355.1" y="129.8" width="2.6" height="2.6" fill="#1818d8"/>
<rect x="418.8" y="82.9" width="2.6" height="2.6" fill="#1818d8"/>
<rect x="353.7" y="131.3" width="2.6" height="2.6" fill="#1818d8"/>
<rect x="387.6" y="106.2" width="2.6" height="2.6" fill="#1818d8"/>
<rect x="403.0" y="96.4" width="2.6" height="2.6" fill="#1818d8"/>
<rect x="424.9" y="86.9" width="2.6" height="2.6" fill="#1818d8"/>
<rect x="402.4" y="88.3" width="2.6" height="2.6" fill="#1818d8"/>
<rect x="351.5" y="128.7" width="2.6" height="2.6" fill="#1818d8"/>
<rect x="369.5" y="116.7" width="2.6" height="2.6" fill="#1818d8"/>
<rect x="421.2" y="80.1" width="2.6" height="2.6" fill="#1818d8"/>
<rect x="387.3" y="99.3" width="2.6" height="2.6" fill="#1818d8"/>
<rect x="413.3" y="87.0" width="2.6" height="2.6" fill="#1818d8"/>
<rect x="371.9" y="112.8" width="2.6" height="2.6" fill="#1818d8"/>
<rect x="383.6" y="104.9" width="2.6" height="2.6" fill="#1818d8"/>
<rect x="412.3" y="88.3" width="2.6" height="2.6" fill="#1818d8"/>
<rect x="382.2" y="97.7" width="2.6" height="2.6" fill="#1818d8"/>
<rect x="386.2" y="107.8" width="2.6" height="2.6" fill="#1818d8"/>
<rect x="396.7" y="99.3" width="2.6" height="2.6" fill="#1818d8"/>
<rect x="412.3" y="87.8" width="2.6" height="2.6" fill="#1818d8"/>
<rect x="419.8" y="81.4" width="2.6" height="2.6" fill="#1818d8"/>
<rect x="415.2" y="81.6" width="2.6" height="2.6" fill="#1818d8"/>
<rect x="426.3" y="86.2" width="2.6" height="2.6" fill="#1818d8"/>
<rect x="387.2" y="102.2" width="2.6" height="2.6" fill="#1818d8"/>
<rect x="356.7" y="130.6" width="2.6" height="2.6" fill="#1818d8"/>
<rect x="386.1" y="101.3" width="2.6" height="2.6" fill="#1818d8"/>
<rect x="416.8" y="87.5" width="2.6" height="2.6" fill="#1818d8"/>
<rect x="385.9" y="106.6" width="2.6" height="2.6" fill="#1818d8"/>
<rect x="360.9" y="127.7" width="2.6" height="2.6" fill="#1818d8"/>
<rect x="425.6" y="84.1" width="2.6" height="2.6" fill="#1818d8"/>
<rect x="411.9" y="89.6" width="2.6" height="2.6" fill="#1818d8"/>
<rect x="379.7" y="112.8" width="2.6" height="2.6" fill="#1818d8"/>
<rect x="404.3" y="95.5" width="2.6" height="2.6" fill="#1818d8"/>
<rect x="409.8" y="91.7" width="2.6" height="2.6" fill="#1818d8"/>
<rect x="404.8" y="92.2" width="2.6" height="2.6" fill="#1818d8"/>
<rect x="417.4" y="86.8" width="2.6" height="2.6" fill="#1818d8"/>
<rect x="352.8" y="129.2" width="2.6" height="2.6" fill="#1818d8"/>
<rect x="397.7" y="99.6" width="2.6" height="2.6" fill="#1818d8"/>
<rect x="353.6" y="130.4" width="2.6" height="2.6" fill="#1818d8"/>
<rect x="391.6" y="102.3" width="2.6" height="2.6" fill="#1818d8"/>
<rect x="392.1" y="103.6" width="2.6" height="2.6" fill="#1818d8"/>
<rect x="421.3" y="83.6" width="2.6" height="2.6" fill="#1818d8"/>
<rect x="383.9" y="107.4" width="2.6" height="2.6" fill="#1818d8"/>
<rect x="363.7" y="122.3" width="2.6" height="2.6" fill="#1818d8"/>
<rect x="412.6" y="80.0" width="2.6" height="2.6" fill="#1818d8"/>
<rect x="399.3" y="91.9" width="2.6" height="2.6" fill="#1818d8"/>
<rect x="394.8" y="96.7" width="2.6" height="2.6" fill="#1818d8"/>
<rect x="405.9" y="94.5" width="2.6" height="2.6" fill="#1818d8"/>
<rect x="353.8" y="131.7" width="2.6" height="2.6" fill="#1818d8"/>
<rect x="412.1" y="89.6" width="2.6" height="2.6" fill="#1818d8"/>
<rect x="358.7" y="129.4" width="2.6" height="2.6" fill="#1818d8"/>
<rect x="397.4" y="96.4" width="2.6" height="2.6" fill="#1818d8"/>
<rect x="403.9" y="93.5" width="2.6" height="2.6" fill="#1818d8"/>
<rect x="364.1" y="116.4" width="2.6" height="2.6" fill="#1818d8"/>
<rect x="409.6" y="92.5" width="2.6" height="2.6" fill="#1818d8"/>
<rect x="418.9" y="77.1" width="2.6" height="2.6" fill="#1818d8"/>
<rect x="411.9" y="90.1" width="2.6" height="2.6" fill="#1818d8"/>
<rect x="425.4" y="79.3" width="2.6" height="2.6" fill="#1818d8"/>
<rect x="359.2" y="128.8" width="2.6" height="2.6" fill="#1818d8"/>
<rect x="418.9" y="83.7" width="2.6" height="2.6" fill="#1818d8"/>
<rect x="384.4" y="108.1" width="2.6" height="2.6" fill="#1818d8"/>
<rect x="361.1" y="111.6" width="2.6" height="2.6" fill="#1818d8"/>
<rect x="352.6" y="133.3" width="2.6" height="2.6" fill="#1818d8"/>
<rect x="416.3" y="86.3" width="2.6" height="2.6" fill="#1818d8"/>
<rect x="390.8" y="103.6" width="2.6" height="2.6" fill="#1818d8"/>
<rect x="410.1" y="91.9" width="2.6" height="2.6" fill="#1818d8"/>
<rect x="354.2" y="131.7" width="2.6" height="2.6" fill="#1818d8"/>
<rect x="383.2" y="109.1" width="2.6" height="2.6" fill="#1818d8"/>
<rect x="415.2" y="88.9" width="2.6" height="2.6" fill="#1818d8"/>
<rect x="373.4" y="114.5" width="2.6" height="2.6" fill="#1818d8"/>
<rect x="424.4" y="80.8" width="2.6" height="2.6" fill="#1818d8"/>
<rect x="383.1" y="105.5" width="2.6" height="2.6" fill="#1818d8"/>
<rect x="362.8" y="123.6" width="2.6" height="2.6" fill="#1818d8"/>
<rect x="384.6" y="100.7" width="2.6" height="2.6" fill="#1818d8"/>
<rect x="397.9" y="97.8" width="2.6" height="2.6" fill="#1818d8"/>
<rect x="364.6" y="123.9" width="2.6" height="2.6" fill="#1818d8"/>
<rect x="374.9" y="114.5" width="2.6" height="2.6" fill="#1818d8"/>
<rect x="386.5" y="105.1" width="2.6" height="2.6" fill="#1818d8"/>
<rect x="386.5" y="106.6" width="2.6" height="2.6" fill="#1818d8"/>
<rect x="366.1" y="124.0" width="2.6" height="2.6" fill="#1818d8"/>
<rect x="367.2" y="122.2" width="2.6" height="2.6" fill="#1818d8"/>
<rect x="392.2" y="98.1" width="2.6" height="2.6" fill="#1818d8"/>
<rect x="378.9" y="108.9" width="2.6" height="2.6" fill="#1818d8"/>
<rect x="359.0" y="128.3" width="2.6" height="2.6" fill="#1818d8"/>
<rect x="405.6" y="93.3" width="2.6" height="2.6" fill="#1818d8"/>
<rect x="409.6" y="83.1" width="2.6" height="2.6" fill="#1818d8"/>
<rect x="392.5" y="99.5" width="2.6" height="2.6" fill="#1818d8"/>
<rect x="389.5" y="104.3" width="2.6" height="2.6" fill="#1818d8"/>
<rect x="423.4" y="83.4" width="2.6" height="2.6" fill="#1818d8"/>
<rect x="400.7" y="95.2" width="2.6" height="2.6" fill="#1818d8"/>
<rect x="384.5" y="108.0" width="2.6" height="2.6" fill="#1818d8"/>
<rect x="387.8" y="105.6" width="2.6" height="2.6" fill="#1818d8"/>
<rect x="421.1" y="84.9" width="2.6" height="2.6" fill="#1818d8"/>
<rect x="409.7" y="92.3" width="2.6" height="2.6" fill="#1818d8"/>
<rect x="396.9" y="99.4" width="2.6" height="2.6" fill="#1818d8"/>
<rect x="367.8" y="105.6" width="2.6" height="2.6" fill="#1818d8"/>
<rect x="399.1" y="96.0" width="2.6" height="2.6" fill="#1818d8"/>
<rect x="390.3" y="104.1" width="2.6" height="2.6" fill="#1818d8"/>
<rect x="384.8" y="108.7" width="2.6" height="2.6" fill="#1818d8"/>
<rect x="357.7" y="127.3" width="2.6" height="2.6" fill="#1818d8"/>
<rect x="404.7" y="93.6" width="2.6" height="2.6" fill="#1818d8"/>
<rect x="358.2" y="128.2" width="2.6" height="2.6" fill="#1818d8"/>
<rect x="407.0" y="92.4" width="2.6" height="2.6" fill="#1818d8"/>
<rect x="371.2" y="112.9" width="2.6" height="2.6" fill="#1818d8"/>
<rect x="419.6" y="84.4" width="2.6" height="2.6" fill="#1818d8"/>
<rect x="416.1" y="69.4" width="2.6" height="2.6" fill="#1818d8"/>
<rect x="416.6" y="71.6" width="2.6" height="2.6" fill="#1818d8"/>
<rect x="378.7" y="113.3" width="2.6" height="2.6" fill="#1818d8"/>
<rect x="379.7" y="110.2" width="2.6" height="2.6" fill="#1818d8"/>
<rect x="390.8" y="100.9" width="2.6" height="2.6" fill="#1818d8"/>
<rect x="405.4" y="90.0" width="2.6" height="2.6" fill="#1818d8"/>
<rect x="397.1" y="89.2" width="2.6" height="2.6" fill="#1818d8"/>
<rect x="426.3" y="80.3" width="2.6" height="2.6" fill="#1818d8"/>
<rect x="390.3" y="104.9" width="2.6" height="2.6" fill="#1818d8"/>
<rect x="416.7" y="86.4" width="2.6" height="2.6" fill="#1818d8"/>
<rect x="426.6" y="85.0" width="2.6" height="2.6" fill="#1818d8"/>
<rect x="378.9" y="112.6" width="2.6" height="2.6" fill="#1818d8"/>
<rect x="382.4" y="107.2" width="2.6" height="2.6" fill="#1818d8"/>
<rect x="424.8" y="78.7" width="2.6" height="2.6" fill="#1818d8"/>
<rect x="369.7" y="117.5" width="2.6" height="2.6" fill="#1818d8"/>
<rect x="390.1" y="101.7" width="2.6" height="2.6" fill="#1818d8"/>
<rect x="375.9" y="115.1" width="2.6" height="2.6" fill="#1818d8"/>
<rect x="357.9" y="128.0" width="2.6" height="2.6" fill="#1818d8"/>
<rect x="350.9" y="135.0" width="2.6" height="2.6" fill="#1818d8"/>
<rect x="371.4" y="116.0" width="2.6" height="2.6" fill="#1818d8"/>
<rect x="366.0" y="123.0" width="2.6" height="2.6" fill="#1818d8"/>
<rect x="387.8" y="105.4" width="2.6" height="2.6" fill="#1818d8"/>
<rect x="383.1" y="110.5" width="2.6" height="2.6" fill="#1818d8"/>
<rect x="350.8" y="132.3" width="2.6" height="2.6" fill="#1818d8"/>
<rect x="354.5" y="129.7" width="2.6" height="2.6" fill="#1818d8"/>
<rect x="376.6" y="113.2" width="2.6" height="2.6" fill="#1818d8"/>
<rect x="375.7" y="116.8" width="2.6" height="2.6" fill="#1818d8"/>
<rect x="388.4" y="105.6" width="2.6" height="2.6" fill="#1818d8"/>
<rect x="369.4" y="120.0" width="2.6" height="2.6" fill="#1818d8"/>
<rect x="382.3" y="105.9" width="2.6" height="2.6" fill="#1818d8"/>
<rect x="425.2" y="87.0" width="2.6" height="2.6" fill="#1818d8"/>
<rect x="388.6" y="102.3" width="2.6" height="2.6" fill="#1818d8"/>
<rect x="346.0" y="139.4" width="2.6" height="2.6" fill="#1818d8"/>
<rect x="376.1" y="116.0" width="2.6" height="2.6" fill="#1818d8"/>
<rect x="404.4" y="95.3" width="2.6" height="2.6" fill="#1818d8"/>
<rect x="389.2" y="102.5" width="2.6" height="2.6" fill="#1818d8"/>
<rect x="413.1" y="80.3" width="2.6" height="2.6" fill="#1818d8"/>
<rect x="407.1" y="81.5" width="2.6" height="2.6" fill="#1818d8"/>
<rect x="418.4" y="85.4" width="2.6" height="2.6" fill="#1818d8"/>
<rect x="379.1" y="113.5" width="2.6" height="2.6" fill="#1818d8"/>
<rect x="413.1" y="75.3" width="2.6" height="2.6" fill="#1818d8"/>
<rect x="399.7" y="94.1" width="2.6" height="2.6" fill="#1818d8"/>
<rect x="399.8" y="90.9" width="2.6" height="2.6" fill="#1818d8"/>
<rect x="377.2" y="114.7" width="2.6" height="2.6" fill="#1818d8"/>
<rect x="348.2" y="137.4" width="2.6" height="2.6" fill="#1818d8"/>
<rect x="365.8" y="124.2" width="2.6" height="2.6" fill="#1818d8"/>
<rect x="412.1" y="88.8" width="2.6" height="2.6" fill="#1818d8"/>
<rect x="390.0" y="96.7" width="2.6" height="2.6" fill="#1818d8"/>
<rect x="389.9" y="98.2" width="2.6" height="2.6" fill="#1818d8"/>
<rect x="423.3" y="77.3" width="2.6" height="2.6" fill="#1818d8"/>
<rect x="366.0" y="118.6" width="2.6" height="2.6" fill="#1818d8"/>
<rect x="388.1" y="106.4" width="2.6" height="2.6" fill="#1818d8"/>
<rect x="405.4" y="94.8" width="2.6" height="2.6" fill="#1818d8"/>
<rect x="407.6" y="84.5" width="2.6" height="2.6" fill="#1818d8"/>
<rect x="420.5" y="82.9" width="2.6" height="2.6" fill="#1818d8"/>
<rect x="425.2" y="84.2" width="2.6" height="2.6" fill="#1818d8"/>
<rect x="390.6" y="102.3" width="2.6" height="2.6" fill="#1818d8"/>
<rect x="396.8" y="95.0" width="2.6" height="2.6" fill="#1818d8"/>
<rect x="419.5" y="85.8" width="2.6" height="2.6" fill="#1818d8"/>
<rect x="405.8" y="95.0" width="2.6" height="2.6" fill="#1818d8"/>
<rect x="404.0" y="95.2" width="2.6" height="2.6" fill="#1818d8"/>
<rect x="373.9" y="118.1" width="2.6" height="2.6" fill="#1818d8"/>
<rect x="396.3" y="98.7" width="2.6" height="2.6" fill="#1818d8"/>
<rect x="426.0" y="83.8" width="2.6" height="2.6" fill="#1818d8"/>
<rect x="407.1" y="91.6" width="2.6" height="2.6" fill="#1818d8"/>
<rect x="388.8" y="104.7" width="2.6" height="2.6" fill="#1818d8"/>
<rect x="347.3" y="138.2" width="2.6" height="2.6" fill="#1818d8"/>
<rect x="364.6" y="120.9" width="2.6" height="2.6" fill="#1818d8"/>
<rect x="376.1" y="108.4" width="2.6" height="2.6" fill="#1818d8"/>
<rect x="355.4" y="130.4" width="2.6" height="2.6" fill="#1818d8"/>
<rect x="391.0" y="100.8" width="2.6" height="2.6" fill="#1818d8"/>
<rect x="414.5" y="86.8" width="2.6" height="2.6" fill="#1818d8"/>
<rect x="410.1" y="91.5" width="2.6" height="2.6" fill="#1818d8"/>
<rect x="407.9" y="92.0" width="2.6" height="2.6" fill="#1818d8"/>
<rect x="402.2" y="96.8" width="2.6" height="2.6" fill="#1818d8"/>
<rect x="411.0" y="89.8" width="2.6" height="2.6" fill="#1818d8"/>
<rect x="394.0" y="101.5" width="2.6" height="2.6" fill="#1818d8"/>
<rect x="411.3" y="90.9" width="2.6" height="2.6" fill="#1818d8"/>
<rect x="418.3" y="82.7" width="2.6" height="2.6" fill="#1818d8"/>
<rect x="352.6" y="132.8" width="2.6" height="2.6" fill="#1818d8"/>
<rect x="372.7" y="111.8" width="2.6" height="2.6" fill="#1818d8"/>
<rect x="424.2" y="81.9" width="2.6" height="2.6" fill="#1818d8"/>
<rect x="420.3" y="82.2" width="2.6" height="2.6" fill="#1818d8"/>
<rect x="383.1" y="106.9" width="2.6" height="2.6" fill="#1818d8"/>
<rect x="411.0" y="87.4" width="2.6" height="2.6" fill="#1818d8"/>
<rect x="413.0" y="87.5" width="2.6" height="2.6" fill="#1818d8"/>
<rect x="378.5" y="108.4" width="2.6" height="2.6" fill="#1818d8"/>
<rect x="368.1" y="112.4" width="2.6" height="2.6" fill="#1818d8"/>
<rect x="413.2" y="88.1" width="2.6" height="2.6" fill="#1818d8"/>
<rect x="386.8" y="104.2" width="2.6" height="2.6" fill="#1818d8"/>
<rect x="368.4" y="117.6" width="2.6" height="2.6" fill="#1818d8"/>
<rect x="421.9" y="81.9" width="2.6" height="2.6" fill="#1818d8"/>
<rect x="370.9" y="120.1" width="2.6" height="2.6" fill="#1818d8"/>
<rect x="368.8" y="113.5" width="2.6" height="2.6" fill="#1818d8"/>
<rect x="419.8" y="82.6" width="2.6" height="2.6" fill="#1818d8"/>
<rect x="411.0" y="85.2" width="2.6" height="2.6" fill="#1818d8"/>
<rect x="380.2" y="112.8" width="2.6" height="2.6" fill="#1818d8"/>
<rect x="390.9" y="102.7" width="2.6" height="2.6" fill="#1818d8"/>
<rect x="377.0" y="114.9" width="2.6" height="2.6" fill="#1818d8"/>
<rect x="382.5" y="108.2" width="2.6" height="2.6" fill="#1818d8"/>
<rect x="410.7" y="87.7" width="2.6" height="2.6" fill="#1818d8"/>
<rect x="396.1" y="101.3" width="2.6" height="2.6" fill="#1818d8"/>
<rect x="407.0" y="90.2" width="2.6" height="2.6" fill="#1818d8"/>
<rect x="404.8" y="95.4" width="2.6" height="2.6" fill="#1818d8"/>
<rect x="386.7" y="106.6" width="2.6" height="2.6" fill="#1818d8"/>
<rect x="387.3" y="105.6" width="2.6" height="2.6" fill="#1818d8"/>
<rect x="356.9" y="130.6" width="2.6" height="2.6" fill="#1818d8"/>
<rect x="421.7" y="83.3" width="2.6" height="2.6" fill="#1818d8"/>
<rect x="387.8" y="105.8" width="2.6" height="2.6" fill="#1818d8"/>
<rect x="421.3" y="83.4" width="2.6" height="2.6" fill="#1818d8"/>
<rect x="370.9" y="117.9" width="2.6" height="2.6" fill="#1818d8"/>
<rect x="362.5" y="120.3" width="2.6" height="2.6" fill="#1818d8"/>
<rect x="388.6" y="102.7" width="2.6" height="2.6" fill="#1818d8"/>
<rect x="398.7" y="74.9" width="2.6" height="2.6" fill="#1818d8"/>
<rect x="346.0" y="137.4" width="2.6" height="2.6" fill="#1818d8"/>
<rect x="362.7" y="123.8" width="2.6" height="2.6" fill="#1818d8"/>
<rect x="382.5" y="109.2" width="2.6" height="2.6" fill="#1818d8"/>
<rect x="414.6" y="88.7" width="2.6" height="2.6" fill="#1818d8"/>
<rect x="366.0" y="122.4" width="2.6" height="2.6" fill="#1818d8"/>
<rect x="425.2" y="88.7" width="2.6" height="2.6" fill="#1818d8"/>
<rect x="385.5" y="105.9" width="2.6" height="2.6" fill="#1818d8"/>
<rect x="374.0" y="114.7" width="2.6" height="2.6" fill="#1818d8"/>
<rect x="379.5" y="109.4" width="2.6" height="2.6" fill="#1818d8"/>
<rect x="347.3" y="138.0" width="2.6" height="2.6" fill="#1818d8"/>
<rect x="403.0" y="95.1" width="2.6" height="2.6" fill="#1818d8"/>
<rect x="388.8" y="137.1" width="2.6" height="2.6" fill="#e01818"/>
<rect x="364.7" y="153.9" width="2.6" height="2.6" fill="#e01818"/>
<rect x="376.4" y="148.7" width="2.6" height="2.6" fill="#e01818"/>
<rect x="405.3" y="114.2" width="2.6" height="2.6" fill="#e01818"/>
<rect x="389.3" y="136.7" width="2.6" height="2.6" fill="#e01818"/>
<rect x="379.8" y="155.6" width="2.6" height="2.6" fill="#e01818"/>
<rect x="399.9" y="140.0" width="2.6" height="2.6" fill="#e01818"/>
<rect x="428.2" y="95.4" width="2.6" height="2.6" fill="#e01818"/>
<rect x="433.3" y="110.9" width="2.6" height="2.6" fill="#e01818"/>
<rect x="420.9" y="112.5" width="2.6" height="2.6" fill="#e01818"/>
<rect x="388.9" y="134.2" width="2.6" height="2.6" fill="#e01818"/>
<rect x="416.9" y="118.6" width="2.6" height="2.6" fill="#e01818"/>
<rect x="402.2" y="127.6" width="2.6" height="2.6" fill="#e01818"/>
<rect x="388.2" y="132.3" width="2.6" height="2.6" fill="#e01818"/>
<rect x="391.9" y="141.0" width="2.6" height="2.6" fill="#e01818"/>
<rect x="406.3" y="135.9" width="2.6" height="2.6" fill="#e01818"/>
<rect x="406.6" y="115.3" width="2.6" height="2.6" fill="#e01818"/>
<rect x="365.4" y="153.3" width="2.6" height="2.6" fill="#e01818"/>
<rect x="428.3" y="101.3" width="2.6" height="2.6" fill="#e01818"/>
<rect x="404.9" y="119.0" width="2.6" height="2.6" fill="#e01818"/>
<rect x="391.8" y="133.8" width="2.6" height="2.6" fill="#e01818"/>
<rect x="384.2" y="135.8" width="2.6" height="2.6" fill="#e01818"/>
<rect x="410.4" y="110.9" width="2.6" height="2.6" fill="#e01818"/>
<rect x="391.3" y="133.0" width="2.6" height="2.6" fill="#e01818"/>
<rect x="392.2" y="128.9" width="2.6" height="2.6" fill="#e01818"/>
<rect x="391.8" y="141.1" width="2.6" height="2.6" fill="#e01818"/>
<rect x="403.2" y="121.8" width="2.6" height="2.6" fill="#e01818"/>
<rect x="399.9" y="128.4" width="2.6" height="2.6" fill="#e01818"/>
<rect x="418.3" y="105.7" width="2.6" height="2.6" fill="#e01818"/>
<rect x="405.4" y="138.4" width="2.6" height="2.6" fill="#e01818"/>
<rect x="407.8" y="113.3" width="2.6" height="2.6" fill="#e01818"/>
<rect x="427.8" y="102.0" width="2.6" height="2.6" fill="#e01818"/>
<rect x="399.6" y="129.5" width="2.6" height="2.6" fill="#e01818"/>
<rect x="376.4" y="146.5" width="2.6" height="2.6" fill="#e01818"/>
<rect x="396.7" y="140.9" width="2.6" height="2.6" fill="#e01818"/>
<rect x="400.8" y="150.8" width="2.6" height="2.6" fill="#e01818"/>
<rect x="425.0" y="97.3" width="2.6" height="2.6" fill="#e01818"/>
<rect x="410.3" y="119.2" width="2.6" height="2.6" fill="#e01818"/>
<rect x="397.0" y="126.7" width="2.6" height="2.6" fill="#e01818"/>
<rect x="402.2" y="118.5" width="2.6" height="2.6" fill="#e01818"/>
<rect x="428.0" y="112.8" width="2.6" height="2.6" fill="#e01818"/>
<rect x="385.0" y="140.5" width="2.6" height="2.6" fill="#e01818"/>
<rect x="391.0" y="134.2" width="2.6" height="2.6" fill="#e01818"/>
<rect x="425.8" y="96.0" width="2.6" height="2.6" fill="#e01818"/>
<rect x="389.7" y="136.7" width="2.6" height="2.6" fill="#e01818"/>
<rect x="379.5" y="144.9" width="2.6" height="2.6" fill="#e01818"/>
<rect x="385.7" y="149.9" width="2.6" height="2.6" fill="#e01818"/>
<rect x="369.3" y="153.6" width="2.6" height="2.6" fill="#e01818"/>
<rect x="378.1" y="144.5" width="2.6" height="2.6" fill="#e01818"/>
<rect x="383.4" y="139.8" width="2.6" height="2.6" fill="#e01818"/>
<rect x="384.8" y="138.1" width="2.6" height="2.6" fill="#e01818"/>
<rect x="390.3" y="128.4" width="2.6" height="2.6" fill="#e01818"/>
<rect x="368.0" y="154.5" width="2.6" height="2.6" fill="#e01818"/>
<rect x="393.2" y="130.6" width="2.6" height="2.6" fill="#e01818"/>
<rect x="393.6" y="128.7" width="2.6" height="2.6" fill="#e01818"/>
<rect x="404.4" y="132.2" width="2.6" height="2.6" fill="#e01818"/>
<rect x="410.5" y="114.9" width="2.6" height="2.6" fill="#e01818"/>
<rect x="407.7" y="116.5" width="2.6" height="2.6" fill="#e01818"/>
<rect x="391.8" y="129.5" width="2.6" height="2.6" fill="#e01818"/>
<rect x="413.3" y="109.5" width="2.6" height="2.6" fill="#e01818"/>
<rect x="412.0" y="110.1" width="2.6" height="2.6" fill="#e01818"/>
<rect x="407.1" y="117.6" width="2.6" height="2.6" fill="#e01818"/>
<rect x="426.1" y="109.2" width="2.6" height="2.6" fill="#e01818"/>
<rect x="425.7" y="99.5" width="2.6" height="2.6" fill="#e01818"/>
<rect x="384.6" y="138.8" width="2.6" height="2.6" fill="#e01818"/>
<rect x="405.6" y="118.0" width="2.6" height="2.6" fill="#e01818"/>
<rect x="364.5" y="155.4" width="2.6" height="2.6" fill="#e01818"/>
<rect x="384.5" y="142.9" width="2.6" height="2.6" fill="#e01818"/>
<rect x="383.2" y="142.7" width="2.6" height="2.6" fill="#e01818"/>
<rect x="425.2" y="101.2" width="2.6" height="2.6" fill="#e01818"/>
<rect x="388.9" y="140.6" width="2.6" height="2.6" fill="#e01818"/>
<rect x="396.8" y="122.2" width="2.6" height="2.6" fill="#e01818"/>
<rect x="413.2" y="119.9" width="2.6" height="2.6" fill="#e01818"/>
<rect x="387.1" y="150.3" width="2.6" height="2.6" fill="#e01818"/>
<rect x="370.1" y="150.5" width="2.6" height="2.6" fill="#e01818"/>
<rect x="427.1" y="97.2" width="2.6" height="2.6" fill="#e01818"/>
<rect x="371.1" y="152.1" width="2.6" height="2.6" fill="#e01818"/>
<rect x="380.7" y="153.0" width="2.6" height="2.6" fill="#e01818"/>
<rect x="437.8" y="109.1" width="2.6" height="2.6" fill="#e01818"/>
<rect x="425.7" y="115.2" width="2.6" height="2.6" fill="#e01818"/>
<rect x="437.1" y="95.3" width="2.6" height="2.6" fill="#e01818"/>
<rect x="374.8" y="154.3" width="2.6" height="2.6" fill="#e01818"/>
<rect x="385.9" y="135.1" width="2.6" height="2.6" fill="#e01818"/>
<rect x="421.0" y="106.4" width="2.6" height="2.6" fill="#e01818"/>
<rect x="400.4" y="120.8" width="2.6" height="2.6" fill="#e01818"/>
<rect x="388.9" y="140.2" width="2.6" height="2.6" fill="#e01818"/>
<rect x="389.4" y="142.4" width="2.6" height="2.6" fill="#e01818"/>
<rect x="390.7" y="142.7" width="2.6" height="2.6" fill="#e01818"/>
<rect x="373.1" y="147.8" width="2.6" height="2.6" fill="#e01818"/>
<rect x="379.4" y="152.2" width="2.6" height="2.6" fill="#e01818"/>
<rect x="419.0" y="113.0" width="2.6" height="2.6" fill="#e01818"/>
<rect x="422.9" y="115.3" width="2.6" height="2.6" fill="#e01818"/>
<rect x="381.2" y="140.2" width="2.6" height="2.6" fill="#e01818"/>
<rect x="426.7" y="93.7" width="2.6" height="2.6" fill="#e01818"/>
<rect x="381.2" y="144.0" width="2.6" height="2.6" fill="#e01818"/>
<rect x="423.0" y="113.5" width="2.6" height="2.6" fill="#e01818"/>
<rect x="430.4" y="108.2" width="2.6" height="2.6" fill="#e01818"/>
<rect x="381.8" y="143.0" width="2.6" height="2.6" fill="#e01818"/>
<rect x="425.2" y="107.7" width="2.6" height="2.6" fill="#e01818"/>
<rect x="440.7" y="94.8" width="2.6" height="2.6" fill="#e01818"/>
<rect x="405.0" y="121.2" width="2.6" height="2.6" fill="#e01818"/>
<rect x="378.1" y="153.3" width="2.6" height="2.6" fill="#e01818"/>
<rect x="389.9" y="136.1" width="2.6" height="2.6" fill="#e01818"/>
<rect x="428.0" y="94.7" width="2.6" height="2.6" fill="#e01818"/>
<rect x="433.5" y="98.3" width="2.6" height="2.6" fill="#e01818"/>
<rect x="430.6" y="100.4" width="2.6" height="2.6" fill="#e01818"/>
<rect x="389.0" y="149.9" width="2.6" height="2.6" fill="#e01818"/>
<rect x="383.7" y="141.5" width="2.6" height="2.6" fill="#e01818"/>
<rect x="392.7" y="146.4" width="2.6" height="2.6" fill="#e01818"/>
<rect x="404.5" y="124.2" width="2.6" height="2.6" fill="#e01818"/>
<rect x="384.2" y="141.8" width="2.6" height="2.6" fill="#e01818"/>
<rect x="392.7" y="128.7" width="2.6" height="2.6" fill="#e01818"/>
<rect x="425.1" y="107.6" width="2.6" height="2.6" fill="#e01818"/>
<rect x="389.3" y="132.3" width="2.6" height="2.6" fill="#e01818"/>
<rect x="403.7" y="118.4" width="2.6" height="2.6" fill="#e01818"/>
<rect x="406.4" y="118.7" width="2.6" height="2.6" fill="#e01818"/>
<rect x="373.8" y="150.9" width="2.6" height="2.6" fill="#e01818"/>
<rect x="415.3" y="108.1" width="2.6" height="2.6" fill="#e01818"/>
<rect x="416.4" y="110.4" width="2.6" height="2.6" fill="#e01818"/>
<rect x="433.4" y="99.9" width="2.6" height="2.6" fill="#e01818"/>
<rect x="417.6" y="106.8" width="2.6" height="2.6" fill="#e01818"/>
<rect x="397.4" y="128.5" width="2.6" height="2.6" fill="#e01818"/>
<rect x="386.2" y="134.4" width="2.6" height="2.6" fill="#e01818"/>
<rect x="375.0" y="148.4" width="2.6" height="2.6" fill="#e01818"/>
<rect x="387.1" y="140.0" width="2.6" height="2.6" fill="#e01818"/>
<rect x="390.6" y="133.8" width="2.6" height="2.6" fill="#e01818"/>
<rect x="390.4" y="146.5" width="2.6" height="2.6" fill="#e01818"/>
<rect x="433.0" y="123.2" width="2.6" height="2.6" fill="#e01818"/>
<rect x="429.1" y="103.9" width="2.6" height="2.6" fill="#e01818"/>
<rect x="414.0" y="115.7" width="2.6" height="2.6" fill="#e01818"/>
<rect x="426.9" y="118.4" width="2.6" height="2.6" fill="#e01818"/>
<rect x="412.3" y="110.7" width="2.6" height="2.6" fill="#e01818"/>
<rect x="426.6" y="97.1" width="2.6" height="2.6" fill="#e01818"/>
<rect x="379.3" y="151.1" width="2.6" height="2.6" fill="#e01818"/>
<rect x="374.7" y="147.1" width="2.6" height="2.6" fill="#e01818"/>
<rect x="396.7" y="133.4" width="2.6" height="2.6" fill="#e01818"/>
<rect x="393.3" y="126.0" width="2.6" height="2.6" fill="#e01818"/>
<rect x="424.4" y="127.0" width="2.6" height="2.6" fill="#e01818"/>
<rect x="400.6" y="118.5" width="2.6" height="2.6" fill="#e01818"/>
<rect x="382.6" y="149.7" width="2.6" height="2.6" fill="#e01818"/>
<rect x="428.5" y="105.0" width="2.6" height="2.6" fill="#e01818"/>
<rect x="385.6" y="136.2" width="2.6" height="2.6" fill="#e01818"/>
<rect x="415.2" y="113.1" width="2.6" height="2.6" fill="#e01818"/>
<rect x="415.4" y="110.5" width="2.6" height="2.6" fill="#e01818"/>
<rect x="400.6" y="119.6" width="2.6" height="2.6" fill="#e01818"/>
<rect x="422.7" y="114.7" width="2.6" height="2.6" fill="#e01818"/>
<rect x="411.0" y="119.4" width="2.6" height="2.6" fill="#e01818"/>
<rect x="387.1" y="138.2" width="2.6" height="2.6" fill="#e01818"/>
<rect x="379.2" y="144.9" width="2.6" height="2.6" fill="#e01818"/>
<rect x="440.3" y="113.1" width="2.6" height="2.6" fill="#e01818"/>
<rect x="399.3" y="135.8" width="2.6" height="2.6" fill="#e01818"/>
<rect x="369.9" y="153.4" width="2.6" height="2.6" fill="#e01818"/>
<rect x="398.6" y="129.0" width="2.6" height="2.6" fill="#e01818"/>
<rect x="411.5" y="119.1" width="2.6" height="2.6" fill="#e01818"/>
<rect x="380.5" y="144.1" width="2.6" height="2.6" fill="#e01818"/>
<rect x="425.7" y="96.9" width="2.6" height="2.6" fill="#e01818"/>
<rect x="400.4" y="121.6" width="2.6" height="2.6" fill="#e01818"/>
<rect x="398.4" y="129.9" width="2.6" height="2.6" fill="#e01818"/>
<rect x="411.6" y="113.5" width="2.6" height="2.6" fill="#e01818"/>
<rect x="367.3" y="155.5" width="2.6" height="2.6" fill="#e01818"/>
<rect x="429.1" y="97.1" width="2.6" height="2.6" fill="#e01818"/>
<rect x="388.2" y="132.2" width="2.6" height="2.6" fill="#e01818"/>
<rect x="429.5" y="96.5" width="2.6" height="2.6" fill="#e01818"/>
<rect x="421.3" y="113.0" width="2.6" height="2.6" fill="#e01818"/>
<rect x="404.5" y="121.7" width="2.6" height="2.6" fill="#e01818"/>
<rect x="413.5" y="127.0" width="2.6" height="2.6" fill="#e01818"/>
<rect x="424.6" y="104.9" width="2.6" height="2.6" fill="#e01818"/>
<rect x="414.7" y="113.5" width="2.6" height="2.6" fill="#e01818"/>
<rect x="364.6" y="153.4" width="2.6" height="2.6" fill="#e01818"/>
<rect x="416.6" y="109.8" width="2.6" height="2.6" fill="#e01818"/>
<rect x="412.0" y="113.0" width="2.6" height="2.6" fill="#e01818"/>
<rect x="409.5" y="111.7" width="2.6" height="2.6" fill="#e01818"/>
<rect x="383.2" y="147.5" width="2.6" height="2.6" fill="#e01818"/>
<rect x="379.4" y="149.2" width="2.6" height="2.6" fill="#e01818"/>
<rect x="400.6" y="122.2" width="2.6" height="2.6" fill="#e01818"/>
<rect x="381.8" y="148.2" width="2.6" height="2.6" fill="#e01818"/>
<rect x="406.0" y="131.2" width="2.6" height="2.6" fill="#e01818"/>
<rect x="424.6" y="120.1" width="2.6" height="2.6" fill="#e01818"/>
<rect x="364.8" y="152.9" width="2.6" height="2.6" fill="#e01818"/>
<rect x="381.6" y="145.9" width="2.6" height="2.6" fill="#e01818"/>
<rect x="432.1" y="94.5" width="2.6" height="2.6" fill="#e01818"/>
<rect x="411.1" y="114.2" width="2.6" height="2.6" fill="#e01818"/>
<rect x="423.6" y="112.2" width="2.6" height="2.6" fill="#e01818"/>
<rect x="383.4" y="142.4" width="2.6" height="2.6" fill="#e01818"/>
<rect x="392.3" y="136.3" width="2.6" height="2.6" fill="#e01818"/>
<rect x="368.3" y="154.9" width="2.6" height="2.6" fill="#e01818"/>
<rect x="421.6" y="116.2" width="2.6" height="2.6" fill="#e01818"/>
<rect x="388.5" y="134.9" width="2.6" height="2.6" fill="#e01818"/>
<rect x="396.1" y="128.2" width="2.6" height="2.6" fill="#e01818"/>
<rect x="386.5" y="133.7" width="2.6" height="2.6" fill="#e01818"/>
<rect x="390.4" y="135.1" width="2.6" height="2.6" fill="#e01818"/>
<rect x="380.2" y="142.4" width="2.6" height="2.6" fill="#e01818"/>
<rect x="427.5" y="100.3" width="2.6" height="2.6" fill="#e01818"/>
<rect x="367.7" y="155.1" width="2.6" height="2.6" fill="#e01818"/>
<rect x="383.8" y="154.6" width="2.6" height="2.6" fill="#e01818"/>
<rect x="408.0" y="125.7" width="2.6" height="2.6" fill="#e01818"/>
<rect x="368.8" y="154.8" width="2.6" height="2.6" fill="#e01818"/>
<rect x="433.9" y="117.4" width="2.6" height="2.6" fill="#e01818"/>
<rect x="387.6" y="137.4" width="2.6" height="2.6" fill="#e01818"/>
<rect x="425.2" y="94.8" width="2.6" height="2.6" fill="#e01818"/>
<rect x="445.1" y="96.7" width="2.6" height="2.6" fill="#e01818"/>
<rect x="416.1" y="110.5" width="2.6" height="2.6" fill="#e01818"/>
<rect x="386.4" y="144.9" width="2.6" height="2.6" fill="#e01818"/>
<rect x="416.2" y="122.2" width="2.6" height="2.6" fill="#e01818"/>
<rect x="366.7" y="156.1" width="2.6" height="2.6" fill="#e01818"/>
<rect x="425.6" y="100.9" width="2.6" height="2.6" fill="#e01818"/>
<rect x="421.6" y="118.5" width="2.6" height="2.6" fill="#e01818"/>
<rect x="371.4" y="150.7" width="2.6" height="2.6" fill="#e01818"/>
<rect x="402.9" y="120.6" width="2.6" height="2.6" fill="#e01818"/>
<rect x="381.7" y="148.8" width="2.6" height="2.6" fill="#e01818"/>
<rect x="397.9" y="129.7" width="2.6" height="2.6" fill="#e01818"/>
<rect x="373.8" y="154.3" width="2.6" height="2.6" fill="#e01818"/>
<rect x="427.3" y="102.6" width="2.6" height="2.6" fill="#e01818"/>
<rect x="411.8" y="113.7" width="2.6" height="2.6" fill="#e01818"/>
<rect x="380.8" y="149.7" width="2.6" height="2.6" fill="#e01818"/>
<rect x="388.0" y="132.2" width="2.6" height="2.6" fill="#e01818"/>
<rect x="427.3" y="104.2" width="2.6" height="2.6" fill="#e01818"/>
<rect x="388.8" y="146.9" width="2.6" height="2.6" fill="#e01818"/>
<rect x="380.8" y="146.9" width="2.6" height="2.6" fill="#e01818"/>
<rect x="421.7" y="107.0" width="2.6" height="2.6" fill="#e01818"/>
<rect x="398.8" y="125.8" width="2.6" height="2.6" fill="#e01818"/>
<rect x="406.8" y="130.5" width="2.6" height="2.6" fill="#e01818"/>
<rect x="423.5" y="102.2" width="2.6" height="2.6" fill="#e01818"/>
<rect x="401.7" y="146.2" width="2.6" height="2.6" fill="#e01818"/>
<rect x="427.0" y="106.3" width="2.6" height="2.6" fill="#e01818"/>
<rect x="393.2" y="136.1" width="2.6" height="2.6" fill="#e01818"/>
<rect x="376.4" y="149.3" width="2.6" height="2.6" fill="#e01818"/>
<rect x="427.4" y="103.7" width="2.6" height="2.6" fill="#e01818"/>
<rect x="398.8" y="132.0" width="2.6" height="2.6" fill="#e01818"/>
<rect x="380.2" y="153.2" width="2.6" height="2.6" fill="#e01818"/>
<rect x="419.9" y="106.1" width="2.6" height="2.6" fill="#e01818"/>
<rect x="392.6" y="131.1" width="2.6" height="2.6" fill="#e01818"/>
<rect x="381.5" y="138.8" width="2.6" height="2.6" fill="#e01818"/>
<rect x="371.1" y="150.4" width="2.6" height="2.6" fill="#e01818"/>
<rect x="397.9" y="127.7" width="2.6" height="2.6" fill="#e01818"/>
<rect x="420.9" y="107.0" width="2.6" height="2.6" fill="#e01818"/>
<rect x="405.0" y="136.2" width="2.6" height="2.6" fill="#e01818"/>
<rect x="375.7" y="148.9" width="2.6" height="2.6" fill="#e01818"/>
<rect x="405.1" y="115.7" width="2.6" height="2.6" fill="#e01818"/>
<rect x="413.2" y="116.3" width="2.6" height="2.6" fill="#e01818"/>
<rect x="382.7" y="138.2" width="2.6" height="2.6" fill="#e01818"/>
<rect x="408.4" y="118.3" width="2.6" height="2.6" fill="#e01818"/>
<rect x="381.4" y="154.8" width="2.6" height="2.6" fill="#e01818"/>
<rect x="396.0" y="124.5" width="2.6" height="2.6" fill="#e01818"/>
<rect x="404.7" y="117.7" width="2.6" height="2.6" fill="#e01818"/>
<rect x="412.4" y="111.1" width="2.6" height="2.6" fill="#e01818"/>
<rect x="363.4" y="153.7" width="2.6" height="2.6" fill="#e01818"/>
<rect x="424.8" y="100.6" width="2.6" height="2.6" fill="#e01818"/>
<rect x="392.8" y="146.2" width="2.6" height="2.6" fill="#e01818"/>
<rect x="414.6" y="119.4" width="2.6" height="2.6" fill="#e01818"/>
<rect x="425.9" y="100.2" width="2.6" height="2.6" fill="#e01818"/>
<rect x="409.5" y="114.4" width="2.6" height="2.6" fill="#e01818"/>
<rect x="365.2" y="154.0" width="2.6" height="2.6" fill="#e01818"/>
<rect x="371.5" y="154.9" width="2.6" height="2.6" fill="#e01818"/>
<rect x="418.6" y="115.5" width="2.6" height="2.6" fill="#e01818"/>
<rect x="387.3" y="145.3" width="2.6" height="2.6" fill="#e01818"/>
<rect x="422.9" y="102.6" width="2.6" height="2.6" fill="#e01818"/>
<rect x="377.9" y="149.3" width="2.6" height="2.6" fill="#e01818"/>
<rect x="417.0" y="117.3" width="2.6" height="2.6" fill="#e01818"/>
<rect x="413.9" y="109.7" width="2.6" height="2.6" fill="#e01818"/>
<rect x="424.8" y="100.9" width="2.6" height="2.6" fill="#e01818"/>
<rect x="377.6" y="144.5" width="2.6" height="2.6" fill="#e01818"/>
<rect x="410.6" y="113.2" width="2.6" height="2.6" fill="#e01818"/>
<rect x="388.3" y="138.0" width="2.6" height="2.6" fill="#e01818"/>
<rect x="394.4" y="123.8" width="2.6" height="2.6" fill="#e01818"/>
<rect x="422.4" y="110.1" width="2.6" height="2.6" fill="#e01818"/>
<rect x="384.7" y="153.1" width="2.6" height="2.6" fill="#e01818"/>
<rect x="369.2" y="155.5" width="2.6" height="2.6" fill="#e01818"/>
<rect x="426.3" y="106.9" width="2.6" height="2.6" fill="#e01818"/>
<rect x="375.9" y="149.0" width="2.6" height="2.6" fill="#e01818"/>
<rect x="376.1" y="156.1" width="2.6" height="2.6" fill="#e01818"/>
<rect x="380.3" y="150.0" width="2.6" height="2.6" fill="#e01818"/>
<rect x="382.8" y="138.2" width="2.6" height="2.6" fill="#e01818"/>
<rect x="442.6" y="111.5" width="2.6" height="2.6" fill="#e01818"/>
<rect x="399.5" y="119.5" width="2.6" height="2.6" fill="#e01818"/>
<rect x="391.5" y="131.8" width="2.6" height="2.6" fill="#e01818"/>
<rect x="380.0" y="142.3" width="2.6" height="2.6" fill="#e01818"/>
<rect x="403.4" y="117.2" width="2.6" height="2.6" fill="#e01818"/>
<rect x="403.4" y="122.9" width="2.6" height="2.6" fill="#e01818"/>
<rect x="410.2" y="111.2" width="2.6" height="2.6" fill="#e01818"/>
<polygon points="343.5,151.0 345.5,144.0 346.8,141.5 350.8,137.5 356.3,133.5 361.7,129.5 367.1,125.5 372.5,121.5 378.0,117.5 383.0,113.0 388.5,108.5 395.3,104.0 402.1,99.5 408.9,95.2 414.3,91.8 420.0,88.0 426.0,84.0 426.0,102.5 420.0,106.5 412.0,111.5 405.0,116.5 398.3,122.5 392.7,128.0 387.2,135.0 381.6,141.5 376.1,147.0 370.5,152.0 365.0,154.5 361.7,155.6 356.3,156.0 350.8,155.5 346.5,154.5" fill="#000"/>
<rect x="431.9" y="81.1" width="1.5" height="1.5" fill="#000"/>
<rect x="435.6" y="94.9" width="1.5" height="1.5" fill="#000"/>
<rect x="432.8" y="87.7" width="1.5" height="1.5" fill="#000"/>
<rect x="441.6" y="81.8" width="1.5" height="1.5" fill="#000"/>
<rect x="433.2" y="83.6" width="1.5" height="1.5" fill="#000"/>
<rect x="437.7" y="69.5" width="1.5" height="1.5" fill="#000"/>
<rect x="470.0" y="56.3" width="1.5" height="1.5" fill="#000"/>
<rect x="438.8" y="68.8" width="1.5" height="1.5" fill="#000"/>
<rect x="455.2" y="71.2" width="1.5" height="1.5" fill="#000"/>
<rect x="426.7" y="86.5" width="1.5" height="1.5" fill="#000"/>
<rect x="433.6" y="81.2" width="1.5" height="1.5" fill="#000"/>
<rect x="467.7" y="54.5" width="1.5" height="1.5" fill="#000"/>
<rect x="426.9" y="90.8" width="1.5" height="1.5" fill="#000"/>
<rect x="434.8" y="70.3" width="1.5" height="1.5" fill="#000"/>
<rect x="425.4" y="89.0" width="1.5" height="1.5" fill="#000"/>
<rect x="445.6" y="80.1" width="1.5" height="1.5" fill="#000"/>
<rect x="426.7" y="91.0" width="1.5" height="1.5" fill="#000"/>
<rect x="459.0" y="64.9" width="1.5" height="1.5" fill="#000"/>
<rect x="414.9" y="97.2" width="1.5" height="1.5" fill="#000"/>
<rect x="413.9" y="90.3" width="1.5" height="1.5" fill="#000"/>
<rect x="432.9" y="92.4" width="1.5" height="1.5" fill="#000"/>
<rect x="420.1" y="91.5" width="1.5" height="1.5" fill="#000"/>
<rect x="434.4" y="71.4" width="1.5" height="1.5" fill="#000"/>
<rect x="417.9" y="100.1" width="1.5" height="1.5" fill="#000"/>
<rect x="422.3" y="91.1" width="1.5" height="1.5" fill="#000"/>
<rect x="413.2" y="91.1" width="1.5" height="1.5" fill="#000"/>
<rect x="417.6" y="88.8" width="1.5" height="1.5" fill="#000"/>
<rect x="419.8" y="82.6" width="1.5" height="1.5" fill="#000"/>
<rect x="451.7" y="68.6" width="1.5" height="1.5" fill="#000"/>
<rect x="449.0" y="75.0" width="1.5" height="1.5" fill="#000"/>
<rect x="440.8" y="87.6" width="1.5" height="1.5" fill="#000"/>
<rect x="427.6" y="93.7" width="1.5" height="1.5" fill="#000"/>
<rect x="426.9" y="89.2" width="1.5" height="1.5" fill="#000"/>
<rect x="442.6" y="82.8" width="1.5" height="1.5" fill="#000"/>
<rect x="458.2" y="70.2" width="1.5" height="1.5" fill="#000"/>
<rect x="457.5" y="63.3" width="1.5" height="1.5" fill="#000"/>
<rect x="444.8" y="79.1" width="1.5" height="1.5" fill="#000"/>
<rect x="425.6" y="86.1" width="1.5" height="1.5" fill="#000"/>
<rect x="462.8" y="65.7" width="1.5" height="1.5" fill="#000"/>
<rect x="419.6" y="91.5" width="1.5" height="1.5" fill="#000"/>
<rect x="432.6" y="84.8" width="1.5" height="1.5" fill="#000"/>
<rect x="421.7" y="91.1" width="1.5" height="1.5" fill="#000"/>
<rect x="431.1" y="98.5" width="1.5" height="1.5" fill="#000"/>
<rect x="422.4" y="88.5" width="1.5" height="1.5" fill="#000"/>
<rect x="433.2" y="74.6" width="1.5" height="1.5" fill="#000"/>
<rect x="444.7" y="83.2" width="1.5" height="1.5" fill="#000"/>
<rect x="427.4" y="94.3" width="1.5" height="1.5" fill="#000"/>
<rect x="423.4" y="95.5" width="1.5" height="1.5" fill="#000"/>
<rect x="440.5" y="76.7" width="1.5" height="1.5" fill="#000"/>
<rect x="438.4" y="80.7" width="1.5" height="1.5" fill="#000"/>
<rect x="438.4" y="78.4" width="1.5" height="1.5" fill="#000"/>
<rect x="450.9" y="64.9" width="1.5" height="1.5" fill="#000"/>
<rect x="430.0" y="85.5" width="1.5" height="1.5" fill="#000"/>
<rect x="442.7" y="77.1" width="1.5" height="1.5" fill="#000"/>
<rect x="439.9" y="76.1" width="1.5" height="1.5" fill="#000"/>
<rect x="429.9" y="88.1" width="1.5" height="1.5" fill="#000"/>
<rect x="415.5" y="95.6" width="1.5" height="1.5" fill="#000"/>
<rect x="428.8" y="88.7" width="1.5" height="1.5" fill="#000"/>
<rect x="417.9" y="92.5" width="1.5" height="1.5" fill="#000"/>
<rect x="433.4" y="83.4" width="1.5" height="1.5" fill="#000"/>
<rect x="444.6" y="85.2" width="1.5" height="1.5" fill="#000"/>
<rect x="446.0" y="82.0" width="1.5" height="1.5" fill="#000"/>
<rect x="443.2" y="73.5" width="1.5" height="1.5" fill="#000"/>
<rect x="421.4" y="100.4" width="1.5" height="1.5" fill="#000"/>
<rect x="433.9" y="81.5" width="1.5" height="1.5" fill="#000"/>
<rect x="411.5" y="93.1" width="1.5" height="1.5" fill="#000"/>
<rect x="452.3" y="67.5" width="1.5" height="1.5" fill="#000"/>
<rect x="429.8" y="87.7" width="1.5" height="1.5" fill="#000"/>
<rect x="412.8" y="85.1" width="1.5" height="1.5" fill="#000"/>
<rect x="413.6" y="95.9" width="1.5" height="1.5" fill="#000"/>
<rect x="420.3" y="94.5" width="1.5" height="1.5" fill="#000"/>
<rect x="415.7" y="96.7" width="1.5" height="1.5" fill="#000"/>
<rect x="430.2" y="83.7" width="1.5" height="1.5" fill="#000"/>
<rect x="424.6" y="100.8" width="1.5" height="1.5" fill="#000"/>
<rect x="452.0" y="67.0" width="1.5" height="1.5" fill="#000"/>
<rect x="431.8" y="98.1" width="1.5" height="1.5" fill="#000"/>
<rect x="420.3" y="102.4" width="1.5" height="1.5" fill="#000"/>
<rect x="445.9" y="76.3" width="1.5" height="1.5" fill="#000"/>
<rect x="417.7" y="101.0" width="1.5" height="1.5" fill="#000"/>
<rect x="417.2" y="88.5" width="1.5" height="1.5" fill="#000"/>
<rect x="416.6" y="95.1" width="1.5" height="1.5" fill="#000"/>
<rect x="444.1" y="82.5" width="1.5" height="1.5" fill="#000"/>
<rect x="417.3" y="87.0" width="1.5" height="1.5" fill="#000"/>
<rect x="443.1" y="79.7" width="1.5" height="1.5" fill="#000"/>
<rect x="423.0" y="99.8" width="1.5" height="1.5" fill="#000"/>
<rect x="425.3" y="90.7" width="1.5" height="1.5" fill="#000"/>
<rect x="427.6" y="92.3" width="1.5" height="1.5" fill="#000"/>
<rect x="432.0" y="86.7" width="1.5" height="1.5" fill="#000"/>
<rect x="450.6" y="67.6" width="1.5" height="1.5" fill="#000"/>
<rect x="445.3" y="74.8" width="1.5" height="1.5" fill="#000"/>
<rect x="433.1" y="88.2" width="1.5" height="1.5" fill="#000"/>
<rect x="461.3" y="59.8" width="1.5" height="1.5" fill="#000"/>
<rect x="421.0" y="96.5" width="1.5" height="1.5" fill="#000"/>
<rect x="455.5" y="66.4" width="1.5" height="1.5" fill="#000"/>
<rect x="456.5" y="59.0" width="1.5" height="1.5" fill="#000"/>
<rect x="465.9" y="56.3" width="1.5" height="1.5" fill="#000"/>
<rect x="426.1" y="79.6" width="1.5" height="1.5" fill="#000"/>
<rect x="415.8" y="98.0" width="1.5" height="1.5" fill="#000"/>
<rect x="454.8" y="68.5" width="1.5" height="1.5" fill="#000"/>
<rect x="442.0" y="67.8" width="1.5" height="1.5" fill="#000"/>
<rect x="426.1" y="100.8" width="1.5" height="1.5" fill="#000"/>
<rect x="431.4" y="71.0" width="1.5" height="1.5" fill="#000"/>
<rect x="424.8" y="94.9" width="1.5" height="1.5" fill="#000"/>
<rect x="432.3" y="87.0" width="1.5" height="1.5" fill="#000"/>
<rect x="434.6" y="83.4" width="1.5" height="1.5" fill="#000"/>
<rect x="441.8" y="71.4" width="1.5" height="1.5" fill="#000"/>
<rect x="424.5" y="95.4" width="1.5" height="1.5" fill="#000"/>
<rect x="440.5" y="82.3" width="1.5" height="1.5" fill="#000"/>
<rect x="451.8" y="61.9" width="1.5" height="1.5" fill="#000"/>
<rect x="457.0" y="62.9" width="1.5" height="1.5" fill="#000"/>
<rect x="421.1" y="95.9" width="1.5" height="1.5" fill="#000"/>
<rect x="429.2" y="88.8" width="1.5" height="1.5" fill="#000"/>
<rect x="432.5" y="81.7" width="1.5" height="1.5" fill="#000"/>
<rect x="450.5" y="66.5" width="1.5" height="1.5" fill="#000"/>
<rect x="427.2" y="101.7" width="1.5" height="1.5" fill="#000"/>
<rect x="460.7" y="62.9" width="1.5" height="1.5" fill="#000"/>
<rect x="429.8" y="86.7" width="1.5" height="1.5" fill="#000"/>
<rect x="429.1" y="93.6" width="1.5" height="1.5" fill="#000"/>
<rect x="462.3" y="60.3" width="1.5" height="1.5" fill="#000"/>
<rect x="444.3" y="77.0" width="1.5" height="1.5" fill="#000"/>
<rect x="423.8" y="95.1" width="1.5" height="1.5" fill="#000"/>
<rect x="417.4" y="93.5" width="1.5" height="1.5" fill="#000"/>
<rect x="467.0" y="60.1" width="1.5" height="1.5" fill="#000"/>
<rect x="435.4" y="78.6" width="1.5" height="1.5" fill="#000"/>
<rect x="423.0" y="93.9" width="1.5" height="1.5" fill="#000"/>
<rect x="424.9" y="92.7" width="1.5" height="1.5" fill="#000"/>
<rect x="420.0" y="91.6" width="1.5" height="1.5" fill="#000"/>
<rect x="420.6" y="100.3" width="1.5" height="1.5" fill="#000"/>
<rect x="428.5" y="87.2" width="1.5" height="1.5" fill="#000"/>
<rect x="437.3" y="81.0" width="1.5" height="1.5" fill="#000"/>
<rect x="465.6" y="65.5" width="1.5" height="1.5" fill="#000"/>
<rect x="422.5" y="75.6" width="1.5" height="1.5" fill="#000"/>
<rect x="421.1" y="80.9" width="1.5" height="1.5" fill="#000"/>
<rect x="439.5" y="86.2" width="1.5" height="1.5" fill="#000"/>
<rect x="423.0" y="98.9" width="1.5" height="1.5" fill="#000"/>
<rect x="433.1" y="79.2" width="1.5" height="1.5" fill="#000"/>
<rect x="428.2" y="82.8" width="1.5" height="1.5" fill="#000"/>
<rect x="455.2" y="71.6" width="1.5" height="1.5" fill="#000"/>
<rect x="425.1" y="91.8" width="1.5" height="1.5" fill="#000"/>
<rect x="423.1" y="92.9" width="1.5" height="1.5" fill="#000"/>
<rect x="458.9" y="60.9" width="1.5" height="1.5" fill="#000"/>
<rect x="465.3" y="59.1" width="1.5" height="1.5" fill="#000"/>
<rect x="438.4" y="71.2" width="1.5" height="1.5" fill="#000"/>
<rect x="427.9" y="97.3" width="1.5" height="1.5" fill="#000"/>
<rect x="444.3" y="74.1" width="1.5" height="1.5" fill="#000"/>
<rect x="446.9" y="75.7" width="1.5" height="1.5" fill="#000"/>
<rect x="428.6" y="97.5" width="1.5" height="1.5" fill="#000"/>
<rect x="414.4" y="94.1" width="1.5" height="1.5" fill="#000"/>
<rect x="444.7" y="77.8" width="1.5" height="1.5" fill="#000"/>
<rect x="422.5" y="91.8" width="1.5" height="1.5" fill="#000"/>
<rect x="420.2" y="100.5" width="1.5" height="1.5" fill="#000"/>
<rect x="418.9" y="87.0" width="1.5" height="1.5" fill="#000"/>
<rect x="416.1" y="92.7" width="1.5" height="1.5" fill="#000"/>
<rect x="415.2" y="94.1" width="1.5" height="1.5" fill="#000"/>
<rect x="433.6" y="89.7" width="1.5" height="1.5" fill="#000"/>
<rect x="448.5" y="70.0" width="1.5" height="1.5" fill="#000"/>
<rect x="438.4" y="81.7" width="1.5" height="1.5" fill="#000"/>
<rect x="438.3" y="81.6" width="1.5" height="1.5" fill="#000"/>
<rect x="413.7" y="93.8" width="1.5" height="1.5" fill="#000"/>
<rect x="417.3" y="99.9" width="1.5" height="1.5" fill="#000"/>
<rect x="435.4" y="89.6" width="1.5" height="1.5" fill="#000"/>
<rect x="419.3" y="86.5" width="1.5" height="1.5" fill="#000"/>
<rect x="437.3" y="83.3" width="1.5" height="1.5" fill="#000"/>
<rect x="459.0" y="68.4" width="1.5" height="1.5" fill="#000"/>
<rect x="430.6" y="79.9" width="1.5" height="1.5" fill="#000"/>
<rect x="443.2" y="71.8" width="1.5" height="1.5" fill="#000"/>
<rect x="419.5" y="103.3" width="1.5" height="1.5" fill="#000"/>
<rect x="438.2" y="83.0" width="1.5" height="1.5" fill="#000"/>
<rect x="452.4" y="67.9" width="1.5" height="1.5" fill="#000"/>
<rect x="445.4" y="81.8" width="1.5" height="1.5" fill="#000"/>
<rect x="444.1" y="74.2" width="1.5" height="1.5" fill="#000"/>
<rect x="451.9" y="66.2" width="1.5" height="1.5" fill="#000"/>
<rect x="434.8" y="79.3" width="1.5" height="1.5" fill="#000"/>
<rect x="448.7" y="59.9" width="1.5" height="1.5" fill="#000"/>
<rect x="470.4" y="56.9" width="1.5" height="1.5" fill="#000"/>
<rect x="452.4" y="70.0" width="1.5" height="1.5" fill="#000"/>
<rect x="438.8" y="78.9" width="1.5" height="1.5" fill="#000"/>
<rect x="427.0" y="93.8" width="1.5" height="1.5" fill="#000"/>
<rect x="452.0" y="58.2" width="1.5" height="1.5" fill="#000"/>
<rect x="429.7" y="91.8" width="1.5" height="1.5" fill="#000"/>
<rect x="468.3" y="65.1" width="1.5" height="1.5" fill="#000"/>
<rect x="425.2" y="95.2" width="1.5" height="1.5" fill="#000"/>
<rect x="434.0" y="89.3" width="1.5" height="1.5" fill="#000"/>
<rect x="430.6" y="90.7" width="1.5" height="1.5" fill="#000"/>
<rect x="430.8" y="86.2" width="1.5" height="1.5" fill="#000"/>
<rect x="412.5" y="88.4" width="1.5" height="1.5" fill="#000"/>
<rect x="442.8" y="71.8" width="1.5" height="1.5" fill="#000"/>
<rect x="408.4" y="86.2" width="1.5" height="1.5" fill="#000"/>
<rect x="421.0" y="101.7" width="1.5" height="1.5" fill="#000"/>
<rect x="431.8" y="92.7" width="1.5" height="1.5" fill="#000"/>
<rect x="443.6" y="72.5" width="1.5" height="1.5" fill="#000"/>
<rect x="420.1" y="90.0" width="1.5" height="1.5" fill="#000"/>
<rect x="434.6" y="85.9" width="1.5" height="1.5" fill="#000"/>
<rect x="420.9" y="103.6" width="1.5" height="1.5" fill="#000"/>
<rect x="446.8" y="77.1" width="1.5" height="1.5" fill="#000"/>
<rect x="454.2" y="67.4" width="1.5" height="1.5" fill="#000"/>
<rect x="413.6" y="91.8" width="1.5" height="1.5" fill="#000"/>
<rect x="467.0" y="57.9" width="1.5" height="1.5" fill="#000"/>
<rect x="443.6" y="72.3" width="1.5" height="1.5" fill="#000"/>
<rect x="428.3" y="96.5" width="1.5" height="1.5" fill="#000"/>
<rect x="440.3" y="75.3" width="1.5" height="1.5" fill="#000"/>
<rect x="419.3" y="95.9" width="1.5" height="1.5" fill="#000"/>
<rect x="455.5" y="69.5" width="1.5" height="1.5" fill="#000"/>
<rect x="467.9" y="56.2" width="1.5" height="1.5" fill="#000"/>
<rect x="440.2" y="82.7" width="1.5" height="1.5" fill="#000"/>
<rect x="419.9" y="99.6" width="1.5" height="1.5" fill="#000"/>
<rect x="436.1" y="89.6" width="1.5" height="1.5" fill="#000"/>
<rect x="425.8" y="87.1" width="1.5" height="1.5" fill="#000"/>
<rect x="445.2" y="74.2" width="1.5" height="1.5" fill="#000"/>
<rect x="420.6" y="78.4" width="1.5" height="1.5" fill="#000"/>
<rect x="418.3" y="89.7" width="1.5" height="1.5" fill="#000"/>
<rect x="439.8" y="79.6" width="1.5" height="1.5" fill="#000"/>
<rect x="448.3" y="69.6" width="1.5" height="1.5" fill="#000"/>
<rect x="443.4" y="76.0" width="1.5" height="1.5" fill="#000"/>
<rect x="431.6" y="83.0" width="1.5" height="1.5" fill="#000"/>
<rect x="446.8" y="69.5" width="1.5" height="1.5" fill="#000"/>
<rect x="421.9" y="89.7" width="1.5" height="1.5" fill="#000"/>
<rect x="437.9" y="81.1" width="1.5" height="1.5" fill="#000"/>
<rect x="444.8" y="78.1" width="1.5" height="1.5" fill="#000"/>
<rect x="429.0" y="83.8" width="1.5" height="1.5" fill="#000"/>
<rect x="418.0" y="99.6" width="1.5" height="1.5" fill="#000"/>
<rect x="418.9" y="101.5" width="1.5" height="1.5" fill="#000"/>
<rect x="438.3" y="74.9" width="1.5" height="1.5" fill="#000"/>
<rect x="439.6" y="82.9" width="1.5" height="1.5" fill="#000"/>
<rect x="432.1" y="85.0" width="1.5" height="1.5" fill="#000"/>
<rect x="422.3" y="100.5" width="1.5" height="1.5" fill="#000"/>
<rect x="416.2" y="95.6" width="1.5" height="1.5" fill="#000"/>
<rect x="449.0" y="72.1" width="1.5" height="1.5" fill="#000"/>
<rect x="433.8" y="80.7" width="1.5" height="1.5" fill="#000"/>
<rect x="457.0" y="70.4" width="1.5" height="1.5" fill="#000"/>
<rect x="446.4" y="66.9" width="1.5" height="1.5" fill="#000"/>
<rect x="441.3" y="72.6" width="1.5" height="1.5" fill="#000"/>
<rect x="421.6" y="79.5" width="1.5" height="1.5" fill="#000"/>
<rect x="415.3" y="90.1" width="1.5" height="1.5" fill="#000"/>
<rect x="451.3" y="70.5" width="1.5" height="1.5" fill="#000"/>
<rect x="465.2" y="55.0" width="1.5" height="1.5" fill="#000"/>
<rect x="421.1" y="91.4" width="1.5" height="1.5" fill="#000"/>
<rect x="427.8" y="83.3" width="1.5" height="1.5" fill="#000"/>
<rect x="457.6" y="61.8" width="1.5" height="1.5" fill="#000"/>
<rect x="429.7" y="102.7" width="1.5" height="1.5" fill="#000"/>
<rect x="435.0" y="81.2" width="1.5" height="1.5" fill="#000"/>
<rect x="417.8" y="95.7" width="1.5" height="1.5" fill="#000"/>
<rect x="431.9" y="85.5" width="1.5" height="1.5" fill="#000"/>
<rect x="459.3" y="65.6" width="1.5" height="1.5" fill="#000"/>
<rect x="455.4" y="65.7" width="1.5" height="1.5" fill="#000"/>
<rect x="412.8" y="95.1" width="1.5" height="1.5" fill="#000"/>
<rect x="430.3" y="76.7" width="1.5" height="1.5" fill="#000"/>
<rect x="425.1" y="86.5" width="1.5" height="1.5" fill="#000"/>
<rect x="424.6" y="79.2" width="1.5" height="1.5" fill="#000"/>
<rect x="436.6" y="89.1" width="1.5" height="1.5" fill="#000"/>
<rect x="419.7" y="102.9" width="1.5" height="1.5" fill="#000"/>
<rect x="418.8" y="96.1" width="1.5" height="1.5" fill="#000"/>
<rect x="458.5" y="71.5" width="1.5" height="1.5" fill="#000"/>
<rect x="421.7" y="105.1" width="1.5" height="1.5" fill="#000"/>
<rect x="411.6" y="82.8" width="1.5" height="1.5" fill="#000"/>
<rect x="454.8" y="70.1" width="1.5" height="1.5" fill="#000"/>
<rect x="466.5" y="63.6" width="1.5" height="1.5" fill="#000"/>
<rect x="417.8" y="95.1" width="1.5" height="1.5" fill="#000"/>
<rect x="430.4" y="74.7" width="1.5" height="1.5" fill="#000"/>
<rect x="418.1" y="94.5" width="1.5" height="1.5" fill="#000"/>
<rect x="424.4" y="78.4" width="1.5" height="1.5" fill="#000"/>
<rect x="420.9" y="89.2" width="1.5" height="1.5" fill="#000"/>
<rect x="437.0" y="81.0" width="1.5" height="1.5" fill="#000"/>
<rect x="459.2" y="66.6" width="1.5" height="1.5" fill="#000"/>
<rect x="427.8" y="85.1" width="1.5" height="1.5" fill="#000"/>
<rect x="460.1" y="63.5" width="1.5" height="1.5" fill="#000"/>
<rect x="456.8" y="64.8" width="1.5" height="1.5" fill="#000"/>
<rect x="431.4" y="80.6" width="1.5" height="1.5" fill="#000"/>
<rect x="466.8" y="59.6" width="1.5" height="1.5" fill="#000"/>
<rect x="419.6" y="92.0" width="1.5" height="1.5" fill="#000"/>
<rect x="427.4" y="94.0" width="1.5" height="1.5" fill="#000"/>
<rect x="449.6" y="68.9" width="1.5" height="1.5" fill="#000"/>
<rect x="423.6" y="88.4" width="1.5" height="1.5" fill="#000"/>
<rect x="439.9" y="91.3" width="1.5" height="1.5" fill="#000"/>
<rect x="413.6" y="95.3" width="1.5" height="1.5" fill="#000"/>
<rect x="447.1" y="75.7" width="1.5" height="1.5" fill="#000"/>
<rect x="421.0" y="90.8" width="1.5" height="1.5" fill="#000"/>
<rect x="423.9" y="108.4" width="1.5" height="1.5" fill="#000"/>
<rect x="427.1" y="88.9" width="1.5" height="1.5" fill="#000"/>
<rect x="425.3" y="100.3" width="1.5" height="1.5" fill="#000"/>
<rect x="448.8" y="72.7" width="1.5" height="1.5" fill="#000"/>
<rect x="450.1" y="68.0" width="1.5" height="1.5" fill="#000"/>
<rect x="439.0" y="84.7" width="1.5" height="1.5" fill="#000"/>
<rect x="443.4" y="74.3" width="1.5" height="1.5" fill="#000"/>
<rect x="450.4" y="72.8" width="1.5" height="1.5" fill="#000"/>
<rect x="431.6" y="90.0" width="1.5" height="1.5" fill="#000"/>
<rect x="438.6" y="89.2" width="1.5" height="1.5" fill="#000"/>
<rect x="454.2" y="54.1" width="1.5" height="1.5" fill="#000"/>
<rect x="449.9" y="66.2" width="1.5" height="1.5" fill="#000"/>
<rect x="463.2" y="60.1" width="1.5" height="1.5" fill="#000"/>
<rect x="418.2" y="95.1" width="1.5" height="1.5" fill="#000"/>
<rect x="412.3" y="94.1" width="1.5" height="1.5" fill="#000"/>
<rect x="449.8" y="66.0" width="1.5" height="1.5" fill="#000"/>
<rect x="429.9" y="102.6" width="1.5" height="1.5" fill="#000"/>
<rect x="434.6" y="77.6" width="1.5" height="1.5" fill="#000"/>
<rect x="425.0" y="84.6" width="1.5" height="1.5" fill="#000"/>
<rect x="420.3" y="93.9" width="1.5" height="1.5" fill="#000"/>
<rect x="438.1" y="85.2" width="1.5" height="1.5" fill="#000"/>
<rect x="408.0" y="86.4" width="1.5" height="1.5" fill="#000"/>
<rect x="430.9" y="80.5" width="1.5" height="1.5" fill="#000"/>
<rect x="464.5" y="61.6" width="1.5" height="1.5" fill="#000"/>
<rect x="423.2" y="86.7" width="1.5" height="1.5" fill="#000"/>
<rect x="455.5" y="66.5" width="1.5" height="1.5" fill="#000"/>
<rect x="438.9" y="80.2" width="1.5" height="1.5" fill="#000"/>
<rect x="461.8" y="65.3" width="1.5" height="1.5" fill="#000"/>
<rect x="448.4" y="69.0" width="1.5" height="1.5" fill="#000"/>
<rect x="419.3" y="96.2" width="1.5" height="1.5" fill="#000"/>
<rect x="422.3" y="79.8" width="1.5" height="1.5" fill="#000"/>
<rect x="415.2" y="91.9" width="1.5" height="1.5" fill="#000"/>
<rect x="472.4" y="62.0" width="1.5" height="1.5" fill="#000"/>
<rect x="461.6" y="59.4" width="1.5" height="1.5" fill="#000"/>
<rect x="443.6" y="78.6" width="1.5" height="1.5" fill="#000"/>
<rect x="465.5" y="58.1" width="1.5" height="1.5" fill="#000"/>
<rect x="449.1" y="76.9" width="1.5" height="1.5" fill="#000"/>
<rect x="427.2" y="93.0" width="1.5" height="1.5" fill="#000"/>
<rect x="419.1" y="90.4" width="1.5" height="1.5" fill="#000"/>
<rect x="447.2" y="74.3" width="1.5" height="1.5" fill="#000"/>
<rect x="419.7" y="91.7" width="1.5" height="1.5" fill="#000"/>
<rect x="440.2" y="78.4" width="1.5" height="1.5" fill="#000"/>
<rect x="461.6" y="69.1" width="1.5" height="1.5" fill="#000"/>
<rect x="466.3" y="51.9" width="1.5" height="1.5" fill="#000"/>
<rect x="446.7" y="66.7" width="1.5" height="1.5" fill="#000"/>
<rect x="428.4" y="90.1" width="1.5" height="1.5" fill="#000"/>
<rect x="436.1" y="80.4" width="1.5" height="1.5" fill="#000"/>
<rect x="422.4" y="90.4" width="1.5" height="1.5" fill="#000"/>
<rect x="436.7" y="80.1" width="1.5" height="1.5" fill="#000"/>
<rect x="470.0" y="59.5" width="1.5" height="1.5" fill="#000"/>
<rect x="423.4" y="78.0" width="1.5" height="1.5" fill="#000"/>
<rect x="436.2" y="77.5" width="1.5" height="1.5" fill="#000"/>
<rect x="424.1" y="86.2" width="1.5" height="1.5" fill="#000"/>
<rect x="440.5" y="86.2" width="1.5" height="1.5" fill="#000"/>
<rect x="417.8" y="94.5" width="1.5" height="1.5" fill="#000"/>
<rect x="459.0" y="69.6" width="1.5" height="1.5" fill="#000"/>
<rect x="422.6" y="102.6" width="1.5" height="1.5" fill="#000"/>
<rect x="435.7" y="81.0" width="1.5" height="1.5" fill="#000"/>
<rect x="439.9" y="84.8" width="1.5" height="1.5" fill="#000"/>
<rect x="437.5" y="80.3" width="1.5" height="1.5" fill="#000"/>
<rect x="445.9" y="79.8" width="1.5" height="1.5" fill="#000"/>
<rect x="424.0" y="81.5" width="1.5" height="1.5" fill="#000"/>
<rect x="448.2" y="83.5" width="1.5" height="1.5" fill="#000"/>
<rect x="423.1" y="97.7" width="1.5" height="1.5" fill="#000"/>
<rect x="421.2" y="98.8" width="1.5" height="1.5" fill="#000"/>
<rect x="465.6" y="62.6" width="1.5" height="1.5" fill="#000"/>
<rect x="419.8" y="101.4" width="1.5" height="1.5" fill="#000"/>
<rect x="449.4" y="67.0" width="1.5" height="1.5" fill="#000"/>
<rect x="466.1" y="55.4" width="1.5" height="1.5" fill="#000"/>
<rect x="428.6" y="94.6" width="1.5" height="1.5" fill="#000"/>
<rect x="443.9" y="76.3" width="1.5" height="1.5" fill="#000"/>
<rect x="420.4" y="97.2" width="1.5" height="1.5" fill="#000"/>
<rect x="416.9" y="94.7" width="1.5" height="1.5" fill="#000"/>
<rect x="446.2" y="60.1" width="1.5" height="1.5" fill="#000"/>
<rect x="426.1" y="94.5" width="1.5" height="1.5" fill="#000"/>
<rect x="431.4" y="78.0" width="1.5" height="1.5" fill="#000"/>
<rect x="458.0" y="64.2" width="1.5" height="1.5" fill="#000"/>
<rect x="422.1" y="86.0" width="1.5" height="1.5" fill="#000"/>
<rect x="466.5" y="56.3" width="1.5" height="1.5" fill="#000"/>
<rect x="428.9" y="86.3" width="1.5" height="1.5" fill="#000"/>
<rect x="421.2" y="99.2" width="1.5" height="1.5" fill="#000"/>
<rect x="418.6" y="94.1" width="1.5" height="1.5" fill="#000"/>
<rect x="433.5" y="85.5" width="1.5" height="1.5" fill="#000"/>
<rect x="422.2" y="86.1" width="1.5" height="1.5" fill="#000"/>
<rect x="417.2" y="100.2" width="1.5" height="1.5" fill="#000"/>
<rect x="455.6" y="72.1" width="1.5" height="1.5" fill="#000"/>
<rect x="430.3" y="76.5" width="1.5" height="1.5" fill="#000"/>
<rect x="417.9" y="95.4" width="1.5" height="1.5" fill="#000"/>
<rect x="421.5" y="93.1" width="1.5" height="1.5" fill="#000"/>
<rect x="446.0" y="72.1" width="1.5" height="1.5" fill="#000"/>
<rect x="440.9" y="77.5" width="1.5" height="1.5" fill="#000"/>
<rect x="462.4" y="57.9" width="1.5" height="1.5" fill="#000"/>
<rect x="442.3" y="78.0" width="1.5" height="1.5" fill="#000"/>
<rect x="431.1" y="74.9" width="1.5" height="1.5" fill="#000"/>
<rect x="422.0" y="93.2" width="1.5" height="1.5" fill="#000"/>
<rect x="418.2" y="98.5" width="1.5" height="1.5" fill="#000"/>
<rect x="413.7" y="87.0" width="1.5" height="1.5" fill="#000"/>
<rect x="419.8" y="97.8" width="1.5" height="1.5" fill="#000"/>
<rect x="425.6" y="83.3" width="1.5" height="1.5" fill="#000"/>
<rect x="432.3" y="92.3" width="1.5" height="1.5" fill="#000"/>
<rect x="431.6" y="108.4" width="1.5" height="1.5" fill="#000"/>
<rect x="448.9" y="83.0" width="1.5" height="1.5" fill="#000"/>
<rect x="453.5" y="70.5" width="1.5" height="1.5" fill="#000"/>
<rect x="447.0" y="79.0" width="1.5" height="1.5" fill="#000"/>
<rect x="443.3" y="74.9" width="1.5" height="1.5" fill="#000"/>
<rect x="453.7" y="60.9" width="1.5" height="1.5" fill="#000"/>
<rect x="439.8" y="85.6" width="1.5" height="1.5" fill="#000"/>
<rect x="460.9" y="64.6" width="1.5" height="1.5" fill="#000"/>
<rect x="428.7" y="76.7" width="1.5" height="1.5" fill="#000"/>
<rect x="420.9" y="90.6" width="1.5" height="1.5" fill="#000"/>
<rect x="443.5" y="72.9" width="1.5" height="1.5" fill="#000"/>
<rect x="447.8" y="66.0" width="1.5" height="1.5" fill="#000"/>
<rect x="425.1" y="83.9" width="1.5" height="1.5" fill="#000"/>
<rect x="461.2" y="63.6" width="1.5" height="1.5" fill="#000"/>
<rect x="434.6" y="93.8" width="1.5" height="1.5" fill="#000"/>
<rect x="433.9" y="72.3" width="1.5" height="1.5" fill="#000"/>
<rect x="415.7" y="93.2" width="1.5" height="1.5" fill="#000"/>
<rect x="446.9" y="71.9" width="1.5" height="1.5" fill="#000"/>
<rect x="450.1" y="60.8" width="1.5" height="1.5" fill="#000"/>
<rect x="464.0" y="64.4" width="1.5" height="1.5" fill="#000"/>
<rect x="417.9" y="99.2" width="1.5" height="1.5" fill="#000"/>
<rect x="423.7" y="88.2" width="1.5" height="1.5" fill="#000"/>
<rect x="428.6" y="85.9" width="1.5" height="1.5" fill="#000"/>
<rect x="437.1" y="90.3" width="1.5" height="1.5" fill="#000"/>
<rect x="455.4" y="63.5" width="1.5" height="1.5" fill="#000"/>
<rect x="461.2" y="54.4" width="1.5" height="1.5" fill="#000"/>
<rect x="444.6" y="83.3" width="1.5" height="1.5" fill="#000"/>
<rect x="453.7" y="68.8" width="1.5" height="1.5" fill="#000"/>
<rect x="439.2" y="68.6" width="1.5" height="1.5" fill="#000"/>
<rect x="426.6" y="83.6" width="1.5" height="1.5" fill="#000"/>
<rect x="426.2" y="91.5" width="1.5" height="1.5" fill="#000"/>
<rect x="428.0" y="86.5" width="1.5" height="1.5" fill="#000"/>
<rect x="420.2" y="79.9" width="1.5" height="1.5" fill="#000"/>
<rect x="445.8" y="73.2" width="1.5" height="1.5" fill="#000"/>
<rect x="431.2" y="93.6" width="1.5" height="1.5" fill="#000"/>
<rect x="424.6" y="82.1" width="1.5" height="1.5" fill="#000"/>
<rect x="425.1" y="92.1" width="1.5" height="1.5" fill="#000"/>
<rect x="463.6" y="55.1" width="1.5" height="1.5" fill="#000"/>
<rect x="423.1" y="93.8" width="1.5" height="1.5" fill="#000"/>
<rect x="432.0" y="92.9" width="1.5" height="1.5" fill="#000"/>
<rect x="411.1" y="91.7" width="1.5" height="1.5" fill="#000"/>
<rect x="463.0" y="62.1" width="1.5" height="1.5" fill="#000"/>
<rect x="437.1" y="79.1" width="1.5" height="1.5" fill="#000"/>
<rect x="424.1" y="84.6" width="1.5" height="1.5" fill="#000"/>
<rect x="422.2" y="96.6" width="1.5" height="1.5" fill="#000"/>
<rect x="449.7" y="65.3" width="1.5" height="1.5" fill="#000"/>
<rect x="421.3" y="91.8" width="1.5" height="1.5" fill="#000"/>
<rect x="447.4" y="75.2" width="1.5" height="1.5" fill="#000"/>
<rect x="430.4" y="91.6" width="1.5" height="1.5" fill="#000"/>
<rect x="418.2" y="101.0" width="1.5" height="1.5" fill="#000"/>
<rect x="463.4" y="64.5" width="1.5" height="1.5" fill="#000"/>
<rect x="430.7" y="108.5" width="1.5" height="1.5" fill="#000"/>
<rect x="420.8" y="86.0" width="1.5" height="1.5" fill="#000"/>
<rect x="421.0" y="87.2" width="1.5" height="1.5" fill="#000"/>
<rect x="463.6" y="56.7" width="1.5" height="1.5" fill="#000"/>
<rect x="447.7" y="76.5" width="1.5" height="1.5" fill="#000"/>
<rect x="427.6" y="90.3" width="1.5" height="1.5" fill="#000"/>
<rect x="456.2" y="67.6" width="1.5" height="1.5" fill="#000"/>
<rect x="423.4" y="88.9" width="1.5" height="1.5" fill="#000"/>
<rect x="426.0" y="90.2" width="1.5" height="1.5" fill="#000"/>
<rect x="424.5" y="90.3" width="1.5" height="1.5" fill="#000"/>
<rect x="417.7" y="86.7" width="1.5" height="1.5" fill="#000"/>
<rect x="434.7" y="93.2" width="1.5" height="1.5" fill="#000"/>
<rect x="428.6" y="77.2" width="1.5" height="1.5" fill="#000"/>
<rect x="411.9" y="91.4" width="1.5" height="1.5" fill="#000"/>
<rect x="423.6" y="95.8" width="1.5" height="1.5" fill="#000"/>
<rect x="443.8" y="84.3" width="1.5" height="1.5" fill="#000"/>
<rect x="437.8" y="82.4" width="1.5" height="1.5" fill="#000"/>
<rect x="425.9" y="75.5" width="1.5" height="1.5" fill="#000"/>
<rect x="465.8" y="56.0" width="1.5" height="1.5" fill="#000"/>
<rect x="458.3" y="67.3" width="1.5" height="1.5" fill="#000"/>
<rect x="419.6" y="89.5" width="1.5" height="1.5" fill="#000"/>
<rect x="455.8" y="72.2" width="1.5" height="1.5" fill="#000"/>
<rect x="445.0" y="74.9" width="1.5" height="1.5" fill="#000"/>
<rect x="451.9" y="70.9" width="1.5" height="1.5" fill="#000"/>
<rect x="420.8" y="95.5" width="1.5" height="1.5" fill="#000"/>
<rect x="427.5" y="92.1" width="1.5" height="1.5" fill="#000"/>
<rect x="456.1" y="64.6" width="1.5" height="1.5" fill="#000"/>
<rect x="429.7" y="84.4" width="1.5" height="1.5" fill="#000"/>
<rect x="450.9" y="70.4" width="1.5" height="1.5" fill="#000"/>
<rect x="412.9" y="84.2" width="1.5" height="1.5" fill="#000"/>
<rect x="442.7" y="73.9" width="1.5" height="1.5" fill="#000"/>
<rect x="454.8" y="77.4" width="1.5" height="1.5" fill="#000"/>
<rect x="453.7" y="64.9" width="1.5" height="1.5" fill="#000"/>
<rect x="422.9" y="94.7" width="1.5" height="1.5" fill="#000"/>
<rect x="420.9" y="103.6" width="1.5" height="1.5" fill="#000"/>
<rect x="417.8" y="98.3" width="1.5" height="1.5" fill="#000"/>
<rect x="416.8" y="97.1" width="1.5" height="1.5" fill="#000"/>
<rect x="458.5" y="67.4" width="1.5" height="1.5" fill="#000"/>
<rect x="435.0" y="84.0" width="1.5" height="1.5" fill="#000"/>
<rect x="421.8" y="90.2" width="1.5" height="1.5" fill="#000"/>
<rect x="431.9" y="77.6" width="1.5" height="1.5" fill="#000"/>
<rect x="420.6" y="96.2" width="1.5" height="1.5" fill="#000"/>
<rect x="426.1" y="100.0" width="1.5" height="1.5" fill="#000"/>
<rect x="466.4" y="58.0" width="1.5" height="1.5" fill="#000"/>
<rect x="436.3" y="80.1" width="1.5" height="1.5" fill="#000"/>
<rect x="422.5" y="84.0" width="1.5" height="1.5" fill="#000"/>
<rect x="461.1" y="60.6" width="1.5" height="1.5" fill="#000"/>
<rect x="430.9" y="93.4" width="1.5" height="1.5" fill="#000"/>
<rect x="433.3" y="73.5" width="1.5" height="1.5" fill="#000"/>
<rect x="415.7" y="94.3" width="1.5" height="1.5" fill="#000"/>
<rect x="414.8" y="91.5" width="1.5" height="1.5" fill="#000"/>
<rect x="424.3" y="91.5" width="1.5" height="1.5" fill="#000"/>
<rect x="443.3" y="74.4" width="1.5" height="1.5" fill="#000"/>
<rect x="437.9" y="84.7" width="1.5" height="1.5" fill="#000"/>
<rect x="432.9" y="99.8" width="1.5" height="1.5" fill="#000"/>
<rect x="428.7" y="80.4" width="1.5" height="1.5" fill="#000"/>
<rect x="445.8" y="71.7" width="1.5" height="1.5" fill="#000"/>
<rect x="446.4" y="77.5" width="1.5" height="1.5" fill="#000"/>
<rect x="421.6" y="96.4" width="1.5" height="1.5" fill="#000"/>
<rect x="453.6" y="68.7" width="1.5" height="1.5" fill="#000"/>
<rect x="410.9" y="90.6" width="1.5" height="1.5" fill="#000"/>
<rect x="434.6" y="90.5" width="1.5" height="1.5" fill="#000"/>
<rect x="418.3" y="90.7" width="1.5" height="1.5" fill="#000"/>
<rect x="444.8" y="70.6" width="1.5" height="1.5" fill="#000"/>
<rect x="451.9" y="59.2" width="1.5" height="1.5" fill="#000"/>
<rect x="423.1" y="90.0" width="1.5" height="1.5" fill="#000"/>
<rect x="453.4" y="65.7" width="1.5" height="1.5" fill="#000"/>
<rect x="417.8" y="100.6" width="1.5" height="1.5" fill="#000"/>
<rect x="422.6" y="104.1" width="1.5" height="1.5" fill="#000"/>
<rect x="432.2" y="89.2" width="1.5" height="1.5" fill="#000"/>
<rect x="416.6" y="94.1" width="1.5" height="1.5" fill="#000"/>
<rect x="448.9" y="66.1" width="1.5" height="1.5" fill="#000"/>
<rect x="427.2" y="103.8" width="1.5" height="1.5" fill="#000"/>
<rect x="425.7" y="95.1" width="1.5" height="1.5" fill="#000"/>
<rect x="446.0" y="73.1" width="1.5" height="1.5" fill="#000"/>
<rect x="434.4" y="80.8" width="1.5" height="1.5" fill="#000"/>
<rect x="427.5" y="83.8" width="1.5" height="1.5" fill="#000"/>
<rect x="462.3" y="66.4" width="1.5" height="1.5" fill="#000"/>
<rect x="448.9" y="69.4" width="1.5" height="1.5" fill="#000"/>
<rect x="417.3" y="93.2" width="1.5" height="1.5" fill="#000"/>
<rect x="424.9" y="109.2" width="1.5" height="1.5" fill="#000"/>
<rect x="429.4" y="96.4" width="1.5" height="1.5" fill="#000"/>
<rect x="466.6" y="58.6" width="1.5" height="1.5" fill="#000"/>
<rect x="424.6" y="84.3" width="1.5" height="1.5" fill="#000"/>
<rect x="418.0" y="92.5" width="1.5" height="1.5" fill="#000"/>
<rect x="427.6" y="101.7" width="1.5" height="1.5" fill="#000"/>
<rect x="443.6" y="68.5" width="1.5" height="1.5" fill="#000"/>
<rect x="450.9" y="71.4" width="1.5" height="1.5" fill="#000"/>
<rect x="464.2" y="57.0" width="1.5" height="1.5" fill="#000"/>
<rect x="422.6" y="94.6" width="1.5" height="1.5" fill="#000"/>
<rect x="422.1" y="87.9" width="1.5" height="1.5" fill="#000"/>
<rect x="443.4" y="80.0" width="1.5" height="1.5" fill="#000"/>
<rect x="428.5" y="103.4" width="1.5" height="1.5" fill="#000"/>
<rect x="408.0" y="85.7" width="1.5" height="1.5" fill="#000"/>
<rect x="419.9" y="93.4" width="1.5" height="1.5" fill="#000"/>
<rect x="429.2" y="98.9" width="1.5" height="1.5" fill="#000"/>
<rect x="438.0" y="84.8" width="1.5" height="1.5" fill="#000"/>
<rect x="409.7" y="88.0" width="1.5" height="1.5" fill="#000"/>
<rect x="421.3" y="95.0" width="1.5" height="1.5" fill="#000"/>
<rect x="450.7" y="82.3" width="1.5" height="1.5" fill="#000"/>
<rect x="441.2" y="84.4" width="1.5" height="1.5" fill="#000"/>
<rect x="454.9" y="71.7" width="1.5" height="1.5" fill="#000"/>
<rect x="420.6" y="86.0" width="1.5" height="1.5" fill="#000"/>
<rect x="440.6" y="83.7" width="1.5" height="1.5" fill="#000"/>
<rect x="459.3" y="67.4" width="1.5" height="1.5" fill="#000"/>
<rect x="414.5" y="96.4" width="1.5" height="1.5" fill="#000"/>
<rect x="415.1" y="90.4" width="1.5" height="1.5" fill="#000"/>
<rect x="421.8" y="87.3" width="1.5" height="1.5" fill="#000"/>
<rect x="433.0" y="82.3" width="1.5" height="1.5" fill="#000"/>
<rect x="465.6" y="58.6" width="1.5" height="1.5" fill="#000"/>
<rect x="455.7" y="68.5" width="1.5" height="1.5" fill="#000"/>
<rect x="449.4" y="73.7" width="1.5" height="1.5" fill="#000"/>
<rect x="431.0" y="98.8" width="1.5" height="1.5" fill="#000"/>
<rect x="418.6" y="95.0" width="1.5" height="1.5" fill="#000"/>
<rect x="444.4" y="85.4" width="1.5" height="1.5" fill="#000"/>
<rect x="421.7" y="89.0" width="1.5" height="1.5" fill="#000"/>
<rect x="439.5" y="85.0" width="1.5" height="1.5" fill="#000"/>
<rect x="427.2" y="85.0" width="1.5" height="1.5" fill="#000"/>
<rect x="431.9" y="93.5" width="1.5" height="1.5" fill="#000"/>
<rect x="438.3" y="79.1" width="1.5" height="1.5" fill="#000"/>
<rect x="426.4" y="83.7" width="1.5" height="1.5" fill="#000"/>
<rect x="435.2" y="87.9" width="1.5" height="1.5" fill="#000"/>
<rect x="419.1" y="93.4" width="1.5" height="1.5" fill="#000"/>
<rect x="449.2" y="76.6" width="1.5" height="1.5" fill="#000"/>
<rect x="414.1" y="94.1" width="1.5" height="1.5" fill="#000"/>
<rect x="424.8" y="88.3" width="1.5" height="1.5" fill="#000"/>
<rect x="452.5" y="64.6" width="1.5" height="1.5" fill="#000"/>
<rect x="452.3" y="67.4" width="1.5" height="1.5" fill="#000"/>
<rect x="432.2" y="90.3" width="1.5" height="1.5" fill="#000"/>
<rect x="415.9" y="85.2" width="1.5" height="1.5" fill="#000"/>
<rect x="415.3" y="96.5" width="1.5" height="1.5" fill="#000"/>
<rect x="418.8" y="91.5" width="1.5" height="1.5" fill="#000"/>
<rect x="486.0" y="44.9" width="1.4" height="1.4" fill="#000"/>
<rect x="489.6" y="39.0" width="1.4" height="1.4" fill="#000"/>
<rect x="480.6" y="46.6" width="1.4" height="1.4" fill="#000"/>
<rect x="483.5" y="43.1" width="1.4" height="1.4" fill="#000"/>
<rect x="484.0" y="43.6" width="1.4" height="1.4" fill="#000"/>
<rect x="466.2" y="56.8" width="1.4" height="1.4" fill="#000"/>
<rect x="486.6" y="38.0" width="1.4" height="1.4" fill="#000"/>
<rect x="482.2" y="44.7" width="1.4" height="1.4" fill="#000"/>
<rect x="483.0" y="46.5" width="1.4" height="1.4" fill="#000"/>
<rect x="485.8" y="44.5" width="1.4" height="1.4" fill="#000"/>
<rect x="472.9" y="50.4" width="1.4" height="1.4" fill="#000"/>
<rect x="466.8" y="58.0" width="1.4" height="1.4" fill="#000"/>
<rect x="471.2" y="47.9" width="1.4" height="1.4" fill="#000"/>
<rect x="478.0" y="47.9" width="1.4" height="1.4" fill="#000"/>
<rect x="490.5" y="38.8" width="1.4" height="1.4" fill="#000"/>
<rect x="483.4" y="40.6" width="1.4" height="1.4" fill="#000"/>
<rect x="488.7" y="42.3" width="1.4" height="1.4" fill="#000"/>
<rect x="471.1" y="58.8" width="1.4" height="1.4" fill="#000"/>
<rect x="476.4" y="45.2" width="1.4" height="1.4" fill="#000"/>
<rect x="479.0" y="44.2" width="1.4" height="1.4" fill="#000"/>
<rect x="475.9" y="45.8" width="1.4" height="1.4" fill="#000"/>
<rect x="478.3" y="44.8" width="1.4" height="1.4" fill="#000"/>
<rect x="486.1" y="44.7" width="1.4" height="1.4" fill="#000"/>
<rect x="467.6" y="53.0" width="1.4" height="1.4" fill="#000"/>
<rect x="466.3" y="55.6" width="1.4" height="1.4" fill="#000"/>
<rect x="488.9" y="39.9" width="1.4" height="1.4" fill="#000"/>
<rect x="473.0" y="50.6" width="1.4" height="1.4" fill="#000"/>
<rect x="474.5" y="54.3" width="1.4" height="1.4" fill="#000"/>
<rect x="492.2" y="35.9" width="1.4" height="1.4" fill="#000"/>
<rect x="489.5" y="40.0" width="1.4" height="1.4" fill="#000"/>
<rect x="466.1" y="55.7" width="1.4" height="1.4" fill="#000"/>
<rect x="477.5" y="48.4" width="1.4" height="1.4" fill="#000"/>
<rect x="491.3" y="38.8" width="1.4" height="1.4" fill="#000"/>
<rect x="466.1" y="57.8" width="1.4" height="1.4" fill="#000"/>
<rect x="472.2" y="50.5" width="1.4" height="1.4" fill="#000"/>
<rect x="490.8" y="40.7" width="1.4" height="1.4" fill="#000"/>
<rect x="464.8" y="52.2" width="1.4" height="1.4" fill="#000"/>
<rect x="471.1" y="52.8" width="1.4" height="1.4" fill="#000"/>
<rect x="473.2" y="53.6" width="1.4" height="1.4" fill="#000"/>
<rect x="493.4" y="38.9" width="1.4" height="1.4" fill="#000"/>
<rect x="414.8" y="109.1" width="1.3" height="1.3" fill="#000"/>
<rect x="407.2" y="117.9" width="1.3" height="1.3" fill="#000"/>
<rect x="406.6" y="127.0" width="1.3" height="1.3" fill="#000"/>
<rect x="424.0" y="83.9" width="1.3" height="1.3" fill="#000"/>
<rect x="348.4" y="137.9" width="1.3" height="1.3" fill="#000"/>
<rect x="372.4" y="119.3" width="1.3" height="1.3" fill="#000"/>
<rect x="410.5" y="91.0" width="1.3" height="1.3" fill="#000"/>
<rect x="423.9" y="80.7" width="1.3" height="1.3" fill="#000"/>
<rect x="426.2" y="91.5" width="1.3" height="1.3" fill="#000"/>
<rect x="414.5" y="114.8" width="1.3" height="1.3" fill="#000"/>
<rect x="383.5" y="140.9" width="1.3" height="1.3" fill="#000"/>
<rect x="374.9" y="118.2" width="1.3" height="1.3" fill="#000"/>
<rect x="344.4" y="154.5" width="1.3" height="1.3" fill="#000"/>
<rect x="410.8" y="111.6" width="1.3" height="1.3" fill="#000"/>
<rect x="429.1" y="86.3" width="1.3" height="1.3" fill="#000"/>
<rect x="406.8" y="118.5" width="1.3" height="1.3" fill="#000"/>
<rect x="389.9" y="105.9" width="1.3" height="1.3" fill="#000"/>
<rect x="399.4" y="127.0" width="1.3" height="1.3" fill="#000"/>
<rect x="388.8" y="134.9" width="1.3" height="1.3" fill="#000"/>
<rect x="365.2" y="154.9" width="1.3" height="1.3" fill="#000"/>
<rect x="402.9" y="117.3" width="1.3" height="1.3" fill="#000"/>
<rect x="353.0" y="133.6" width="1.3" height="1.3" fill="#000"/>
<rect x="426.0" y="90.7" width="1.3" height="1.3" fill="#000"/>
<rect x="343.4" y="155.6" width="1.3" height="1.3" fill="#000"/>
<rect x="355.6" y="157.2" width="1.3" height="1.3" fill="#000"/>
<rect x="420.1" y="105.9" width="1.3" height="1.3" fill="#000"/>
<rect x="416.3" y="109.9" width="1.3" height="1.3" fill="#000"/>
<rect x="362.0" y="124.8" width="1.3" height="1.3" fill="#000"/>
<rect x="415.3" y="89.0" width="1.3" height="1.3" fill="#000"/>
<rect x="420.3" y="86.0" width="1.3" height="1.3" fill="#000"/>
<rect x="342.2" y="141.9" width="1.3" height="1.3" fill="#000"/>
<rect x="377.2" y="147.6" width="1.3" height="1.3" fill="#000"/>
<rect x="370.4" y="120.7" width="1.3" height="1.3" fill="#000"/>
<rect x="422.5" y="110.2" width="1.3" height="1.3" fill="#000"/>
<rect x="364.8" y="123.9" width="1.3" height="1.3" fill="#000"/>
<rect x="355.5" y="130.0" width="1.3" height="1.3" fill="#000"/>
<rect x="391.2" y="102.8" width="1.3" height="1.3" fill="#000"/>
<rect x="403.4" y="95.0" width="1.3" height="1.3" fill="#000"/>
<rect x="367.2" y="153.1" width="1.3" height="1.3" fill="#000"/>
<rect x="410.3" y="89.2" width="1.3" height="1.3" fill="#000"/>
<rect x="411.6" y="115.0" width="1.3" height="1.3" fill="#000"/>
<rect x="345.3" y="135.5" width="1.3" height="1.3" fill="#000"/>
<rect x="355.2" y="132.3" width="1.3" height="1.3" fill="#000"/>
<rect x="375.8" y="115.3" width="1.3" height="1.3" fill="#000"/>
<rect x="365.3" y="124.5" width="1.3" height="1.3" fill="#000"/>
<rect x="358.0" y="130.3" width="1.3" height="1.3" fill="#000"/>
<rect x="381.1" y="141.1" width="1.3" height="1.3" fill="#000"/>
<rect x="361.6" y="128.4" width="1.3" height="1.3" fill="#000"/>
<rect x="407.1" y="114.8" width="1.3" height="1.3" fill="#000"/>
<rect x="351.4" y="135.2" width="1.3" height="1.3" fill="#000"/>
<rect x="389.7" y="106.3" width="1.3" height="1.3" fill="#000"/>
<rect x="395.1" y="124.8" width="1.3" height="1.3" fill="#000"/>
<rect x="417.3" y="87.3" width="1.3" height="1.3" fill="#000"/>
<rect x="361.7" y="157.1" width="1.3" height="1.3" fill="#000"/>
<rect x="348.2" y="136.1" width="1.3" height="1.3" fill="#000"/>
<rect x="425.8" y="89.3" width="1.3" height="1.3" fill="#000"/>
<rect x="409.4" y="113.1" width="1.3" height="1.3" fill="#000"/>
<rect x="409.9" y="87.5" width="1.3" height="1.3" fill="#000"/>
<rect x="418.5" y="87.9" width="1.3" height="1.3" fill="#000"/>
<rect x="387.2" y="105.3" width="1.3" height="1.3" fill="#000"/>
<rect x="352.1" y="155.3" width="1.3" height="1.3" fill="#000"/>
<rect x="403.3" y="121.8" width="1.3" height="1.3" fill="#000"/>
<rect x="419.0" y="83.4" width="1.3" height="1.3" fill="#000"/>
<rect x="342.7" y="145.9" width="1.3" height="1.3" fill="#000"/>
<rect x="401.1" y="118.8" width="1.3" height="1.3" fill="#000"/>
<rect x="394.1" y="128.1" width="1.3" height="1.3" fill="#000"/>
<rect x="387.1" y="136.9" width="1.3" height="1.3" fill="#000"/>
<rect x="385.5" y="109.2" width="1.3" height="1.3" fill="#000"/>
<rect x="363.7" y="155.3" width="1.3" height="1.3" fill="#000"/>
<rect x="411.5" y="113.3" width="1.3" height="1.3" fill="#000"/>
<rect x="411.7" y="115.2" width="1.3" height="1.3" fill="#000"/>
<rect x="357.3" y="130.7" width="1.3" height="1.3" fill="#000"/>
<rect x="351.3" y="155.0" width="1.3" height="1.3" fill="#000"/>
<rect x="412.0" y="114.3" width="1.3" height="1.3" fill="#000"/>
<rect x="344.0" y="144.1" width="1.3" height="1.3" fill="#000"/>
<rect x="343.4" y="139.3" width="1.3" height="1.3" fill="#000"/>
<rect x="387.7" y="136.0" width="1.3" height="1.3" fill="#000"/>
<rect x="401.3" y="119.6" width="1.3" height="1.3" fill="#000"/>
<rect x="409.9" y="92.2" width="1.3" height="1.3" fill="#000"/>
<rect x="359.3" y="129.4" width="1.3" height="1.3" fill="#000"/>
<rect x="414.4" y="112.5" width="1.3" height="1.3" fill="#000"/>
<rect x="379.0" y="111.2" width="1.3" height="1.3" fill="#000"/>
<rect x="425.6" y="86.7" width="1.3" height="1.3" fill="#000"/>
<rect x="343.7" y="145.1" width="1.3" height="1.3" fill="#000"/>
<rect x="402.3" y="95.3" width="1.3" height="1.3" fill="#000"/>
<rect x="418.2" y="110.2" width="1.3" height="1.3" fill="#000"/>
<rect x="395.7" y="129.8" width="1.3" height="1.3" fill="#000"/>
<rect x="426.8" y="92.7" width="1.3" height="1.3" fill="#000"/>
<rect x="397.4" y="122.3" width="1.3" height="1.3" fill="#000"/>
<rect x="356.2" y="132.1" width="1.3" height="1.3" fill="#000"/>
<rect x="409.7" y="92.1" width="1.3" height="1.3" fill="#000"/>
<rect x="415.4" y="88.4" width="1.3" height="1.3" fill="#000"/>
<rect x="377.7" y="144.5" width="1.3" height="1.3" fill="#000"/>
<rect x="344.5" y="143.8" width="1.3" height="1.3" fill="#000"/>
<rect x="424.5" y="106.5" width="1.3" height="1.3" fill="#000"/>
<rect x="422.4" y="81.9" width="1.3" height="1.3" fill="#000"/>
<rect x="378.5" y="114.3" width="1.3" height="1.3" fill="#000"/>
<rect x="410.9" y="116.2" width="1.3" height="1.3" fill="#000"/>
<rect x="364.9" y="156.1" width="1.3" height="1.3" fill="#000"/>
<rect x="367.2" y="124.1" width="1.3" height="1.3" fill="#000"/>
<rect x="405.5" y="115.3" width="1.3" height="1.3" fill="#000"/>
<rect x="376.7" y="112.7" width="1.3" height="1.3" fill="#000"/>
<rect x="393.2" y="128.6" width="1.3" height="1.3" fill="#000"/>
<rect x="354.5" y="155.7" width="1.3" height="1.3" fill="#000"/>
<rect x="382.9" y="110.8" width="1.3" height="1.3" fill="#000"/>
<rect x="344.6" y="142.6" width="1.3" height="1.3" fill="#000"/>
<rect x="379.0" y="146.3" width="1.3" height="1.3" fill="#000"/>
<rect x="365.8" y="156.1" width="1.3" height="1.3" fill="#000"/>
<rect x="382.7" y="139.0" width="1.3" height="1.3" fill="#000"/>
<rect x="372.3" y="118.3" width="1.3" height="1.3" fill="#000"/>
<rect x="407.0" y="90.3" width="1.3" height="1.3" fill="#000"/>
<rect x="377.6" y="150.5" width="1.3" height="1.3" fill="#000"/>
<rect x="369.7" y="152.9" width="1.3" height="1.3" fill="#000"/>
<rect x="416.6" y="85.6" width="1.3" height="1.3" fill="#000"/>
<rect x="408.6" y="93.8" width="1.3" height="1.3" fill="#000"/>
<rect x="376.6" y="150.6" width="1.3" height="1.3" fill="#000"/>
<rect x="419.4" y="107.6" width="1.3" height="1.3" fill="#000"/>
<rect x="396.8" y="101.7" width="1.3" height="1.3" fill="#000"/>
<rect x="393.8" y="130.8" width="1.3" height="1.3" fill="#000"/>
<rect x="375.2" y="147.4" width="1.3" height="1.3" fill="#000"/>
<rect x="377.5" y="153.0" width="1.5" height="1.5" fill="#000"/>
<rect x="425.5" y="94.4" width="1.5" height="1.5" fill="#000"/>
<rect x="432.5" y="86.0" width="1.5" height="1.5" fill="#000"/>
<rect x="416.7" y="113.5" width="1.5" height="1.5" fill="#000"/>
<rect x="372.3" y="150.8" width="1.5" height="1.5" fill="#000"/>
<rect x="426.3" y="92.0" width="1.5" height="1.5" fill="#000"/>
<rect x="393.1" y="128.6" width="1.5" height="1.5" fill="#000"/>
<rect x="426.0" y="99.4" width="1.5" height="1.5" fill="#000"/>
<rect x="365.6" y="154.0" width="1.5" height="1.5" fill="#000"/>
<rect x="386.0" y="136.3" width="1.5" height="1.5" fill="#000"/>
<rect x="417.9" y="115.6" width="1.5" height="1.5" fill="#000"/>
<rect x="430.7" y="98.7" width="1.5" height="1.5" fill="#000"/>
<rect x="429.8" y="88.4" width="1.5" height="1.5" fill="#000"/>
<rect x="395.1" y="127.8" width="1.5" height="1.5" fill="#000"/>
<rect x="411.8" y="116.2" width="1.5" height="1.5" fill="#000"/>
<rect x="373.2" y="153.8" width="1.5" height="1.5" fill="#000"/>
<rect x="376.0" y="149.4" width="1.5" height="1.5" fill="#000"/>
<rect x="391.0" y="130.5" width="1.5" height="1.5" fill="#000"/>
<rect x="386.6" y="138.9" width="1.5" height="1.5" fill="#000"/>
<rect x="423.9" y="109.6" width="1.5" height="1.5" fill="#000"/>
<rect x="380.5" y="141.9" width="1.5" height="1.5" fill="#000"/>
<rect x="415.2" y="109.7" width="1.5" height="1.5" fill="#000"/>
<rect x="430.7" y="86.5" width="1.5" height="1.5" fill="#000"/>
<rect x="387.5" y="134.7" width="1.5" height="1.5" fill="#000"/>
<rect x="394.9" y="130.9" width="1.5" height="1.5" fill="#000"/>
<rect x="427.4" y="102.0" width="1.5" height="1.5" fill="#000"/>
<rect x="394.0" y="128.2" width="1.5" height="1.5" fill="#000"/>
<rect x="395.1" y="128.0" width="1.5" height="1.5" fill="#000"/>
<rect x="397.4" y="125.1" width="1.5" height="1.5" fill="#000"/>
<rect x="408.0" y="126.9" width="1.5" height="1.5" fill="#000"/>
<rect x="392.2" y="127.2" width="1.5" height="1.5" fill="#000"/>
<rect x="393.2" y="128.2" width="1.5" height="1.5" fill="#000"/>
<rect x="396.3" y="140.6" width="1.5" height="1.5" fill="#000"/>
<rect x="420.5" y="105.3" width="1.5" height="1.5" fill="#000"/>
<rect x="381.1" y="148.7" width="1.5" height="1.5" fill="#000"/>
<rect x="427.3" y="92.6" width="1.5" height="1.5" fill="#000"/>
<rect x="389.6" y="132.7" width="1.5" height="1.5" fill="#000"/>
<rect x="412.0" y="115.9" width="1.5" height="1.5" fill="#000"/>
<rect x="421.3" y="105.1" width="1.5" height="1.5" fill="#000"/>
<rect x="415.8" y="118.4" width="1.5" height="1.5" fill="#000"/>
<rect x="414.7" y="110.1" width="1.5" height="1.5" fill="#000"/>
<rect x="363.7" y="154.2" width="1.5" height="1.5" fill="#000"/>
<rect x="365.3" y="154.8" width="1.5" height="1.5" fill="#000"/>
<rect x="396.3" y="125.0" width="1.5" height="1.5" fill="#000"/>
<rect x="425.8" y="92.2" width="1.5" height="1.5" fill="#000"/>
<rect x="401.7" y="122.1" width="1.5" height="1.5" fill="#000"/>
<rect x="427.9" y="99.8" width="1.5" height="1.5" fill="#000"/>
<rect x="392.9" y="128.9" width="1.5" height="1.5" fill="#000"/>
<rect x="373.5" y="148.0" width="1.5" height="1.5" fill="#000"/>
<rect x="426.6" y="99.6" width="1.5" height="1.5" fill="#000"/>
<rect x="420.6" y="106.9" width="1.5" height="1.5" fill="#000"/>
<rect x="389.9" y="130.8" width="1.5" height="1.5" fill="#000"/>
<rect x="417.9" y="111.2" width="1.5" height="1.5" fill="#000"/>
<rect x="396.3" y="126.8" width="1.5" height="1.5" fill="#000"/>
<rect x="365.4" y="153.5" width="1.5" height="1.5" fill="#000"/>
<rect x="384.8" y="138.4" width="1.5" height="1.5" fill="#000"/>
<rect x="384.2" y="137.5" width="1.5" height="1.5" fill="#000"/>
<rect x="363.0" y="155.7" width="1.5" height="1.5" fill="#000"/>
<rect x="380.3" y="141.6" width="1.5" height="1.5" fill="#000"/>
<rect x="381.6" y="140.5" width="1.5" height="1.5" fill="#000"/>
<rect x="397.8" y="122.6" width="1.5" height="1.5" fill="#000"/>
<rect x="413.5" y="121.1" width="1.5" height="1.5" fill="#000"/>
<rect x="417.6" y="107.2" width="1.5" height="1.5" fill="#000"/>
<rect x="396.7" y="128.7" width="1.5" height="1.5" fill="#000"/>
<rect x="428.1" y="100.4" width="1.5" height="1.5" fill="#000"/>
<rect x="385.9" y="141.4" width="1.5" height="1.5" fill="#000"/>
<rect x="426.0" y="104.9" width="1.5" height="1.5" fill="#000"/>
<rect x="392.9" y="127.4" width="1.5" height="1.5" fill="#000"/>
<rect x="431.3" y="96.7" width="1.5" height="1.5" fill="#000"/>
<rect x="385.4" y="139.0" width="1.5" height="1.5" fill="#000"/>
<rect x="383.7" y="139.3" width="1.5" height="1.5" fill="#000"/>
<rect x="416.0" y="113.9" width="1.5" height="1.5" fill="#000"/>
<rect x="433.3" y="90.0" width="1.5" height="1.5" fill="#000"/>
<rect x="415.1" y="113.8" width="1.5" height="1.5" fill="#000"/>
<rect x="417.0" y="109.4" width="1.5" height="1.5" fill="#000"/>
<rect x="414.0" y="111.6" width="1.5" height="1.5" fill="#000"/>
<rect x="377.0" y="144.6" width="1.5" height="1.5" fill="#000"/>
<rect x="406.8" y="121.2" width="1.5" height="1.5" fill="#000"/>
<rect x="365.9" y="153.5" width="1.5" height="1.5" fill="#000"/>
<rect x="421.8" y="109.0" width="1.5" height="1.5" fill="#000"/>
<rect x="389.4" y="131.3" width="1.5" height="1.5" fill="#000"/>
<rect x="383.6" y="139.6" width="1.5" height="1.5" fill="#000"/>
<rect x="419.6" y="106.2" width="1.5" height="1.5" fill="#000"/>
<rect x="427.3" y="93.9" width="1.5" height="1.5" fill="#000"/>
<rect x="432.8" y="92.2" width="1.5" height="1.5" fill="#000"/>
<rect x="382.2" y="141.5" width="1.5" height="1.5" fill="#000"/>
<rect x="382.3" y="151.6" width="1.5" height="1.5" fill="#000"/>
<rect x="405.0" y="118.1" width="1.5" height="1.5" fill="#000"/>
<rect x="365.6" y="154.1" width="1.5" height="1.5" fill="#000"/>
<rect x="437.9" y="94.2" width="1.5" height="1.5" fill="#000"/>
<rect x="377.6" y="148.7" width="1.5" height="1.5" fill="#000"/>
<rect x="390.1" y="130.0" width="1.5" height="1.5" fill="#000"/>
<rect x="408.7" y="123.4" width="1.5" height="1.5" fill="#000"/>
<rect x="405.2" y="116.2" width="1.5" height="1.5" fill="#000"/>
<rect x="427.5" y="99.2" width="1.5" height="1.5" fill="#000"/>
<rect x="426.8" y="99.9" width="1.5" height="1.5" fill="#000"/>
<rect x="401.5" y="123.4" width="1.5" height="1.5" fill="#000"/>
<rect x="375.6" y="147.3" width="1.5" height="1.5" fill="#000"/>
<rect x="429.2" y="103.5" width="1.5" height="1.5" fill="#000"/>
<rect x="423.9" y="102.7" width="1.5" height="1.5" fill="#000"/>
<rect x="388.1" y="155.3" width="1.5" height="1.5" fill="#000"/>
<rect x="413.0" y="111.8" width="1.5" height="1.5" fill="#000"/>
<rect x="366.9" y="154.4" width="1.5" height="1.5" fill="#000"/>
<rect x="434.5" y="90.3" width="1.5" height="1.5" fill="#000"/>
<rect x="398.7" y="123.8" width="1.5" height="1.5" fill="#000"/>
<rect x="395.1" y="127.7" width="1.5" height="1.5" fill="#000"/>
<rect x="394.6" y="131.3" width="1.5" height="1.5" fill="#000"/>
<rect x="384.1" y="137.3" width="1.5" height="1.5" fill="#000"/>
<rect x="361.5" y="155.0" width="1.5" height="1.5" fill="#000"/>
<rect x="394.8" y="126.0" width="1.5" height="1.5" fill="#000"/>
<rect x="381.0" y="146.8" width="1.5" height="1.5" fill="#000"/>
<rect x="422.0" y="105.7" width="1.5" height="1.5" fill="#000"/>
<rect x="385.8" y="140.6" width="1.5" height="1.5" fill="#000"/>
<rect x="404.0" y="120.6" width="1.5" height="1.5" fill="#000"/>
<rect x="414.4" y="120.4" width="1.5" height="1.5" fill="#000"/>
<rect x="409.2" y="112.4" width="1.5" height="1.5" fill="#000"/>
<rect x="394.1" y="126.0" width="1.5" height="1.5" fill="#000"/>
<rect x="426.9" y="103.9" width="1.5" height="1.5" fill="#000"/>
<rect x="390.2" y="130.5" width="1.5" height="1.5" fill="#000"/>
<rect x="384.0" y="141.6" width="1.5" height="1.5" fill="#000"/>
<rect x="398.4" y="142.9" width="1.5" height="1.5" fill="#000"/>
<rect x="363.6" y="154.1" width="1.5" height="1.5" fill="#000"/>
<rect x="368.7" y="152.3" width="1.5" height="1.5" fill="#000"/>
<rect x="420.1" y="107.3" width="1.5" height="1.5" fill="#000"/>
<rect x="377.6" y="145.2" width="1.5" height="1.5" fill="#000"/>
<rect x="429.8" y="98.6" width="1.5" height="1.5" fill="#000"/>
<rect x="377.6" y="146.8" width="1.5" height="1.5" fill="#000"/>
<rect x="362.5" y="156.7" width="1.5" height="1.5" fill="#000"/>
<rect x="386.6" y="137.9" width="1.5" height="1.5" fill="#000"/>
<rect x="427.4" y="102.2" width="1.5" height="1.5" fill="#000"/>
<rect x="388.2" y="135.1" width="1.5" height="1.5" fill="#000"/>
<rect x="393.5" y="126.4" width="1.5" height="1.5" fill="#000"/>
<rect x="395.4" y="124.0" width="1.5" height="1.5" fill="#000"/>
<rect x="392.4" y="129.5" width="1.5" height="1.5" fill="#000"/>
<rect x="365.0" y="153.5" width="1.5" height="1.5" fill="#000"/>
<rect x="419.3" y="107.9" width="1.5" height="1.5" fill="#000"/>
<rect x="408.9" y="113.8" width="1.5" height="1.5" fill="#000"/>
<rect x="376.6" y="146.4" width="1.5" height="1.5" fill="#000"/>
<rect x="369.1" y="154.4" width="1.5" height="1.5" fill="#000"/>
<rect x="424.0" y="111.5" width="1.5" height="1.5" fill="#000"/>
<rect x="395.7" y="132.0" width="1.5" height="1.5" fill="#000"/>
<rect x="373.7" y="148.2" width="1.5" height="1.5" fill="#000"/>
<rect x="369.2" y="153.6" width="1.5" height="1.5" fill="#000"/>
<rect x="403.0" y="117.7" width="1.5" height="1.5" fill="#000"/>
<rect x="422.1" y="108.8" width="1.5" height="1.5" fill="#000"/>
<rect x="372.1" y="152.5" width="1.5" height="1.5" fill="#000"/>
<rect x="363.9" y="155.7" width="1.5" height="1.5" fill="#000"/>
<rect x="382.6" y="139.0" width="1.5" height="1.5" fill="#000"/>
<rect x="399.5" y="126.8" width="1.5" height="1.5" fill="#000"/>
<rect x="388.7" y="150.3" width="1.5" height="1.5" fill="#000"/>
<rect x="422.1" y="104.6" width="1.5" height="1.5" fill="#000"/>
<rect x="405.2" y="118.0" width="1.5" height="1.5" fill="#000"/>
<rect x="394.2" y="130.3" width="1.5" height="1.5" fill="#000"/>
<rect x="378.3" y="144.6" width="1.5" height="1.5" fill="#000"/>
<rect x="404.3" y="123.2" width="1.5" height="1.5" fill="#000"/>
<rect x="419.2" y="106.9" width="1.5" height="1.5" fill="#000"/>
<rect x="405.9" y="116.1" width="1.5" height="1.5" fill="#000"/>
<rect x="362.6" y="154.4" width="1.5" height="1.5" fill="#000"/>
<rect x="418.0" y="110.3" width="1.5" height="1.5" fill="#000"/>
<rect x="400.7" y="135.8" width="1.5" height="1.5" fill="#000"/>
<rect x="429.4" y="89.9" width="1.5" height="1.5" fill="#000"/>
<rect x="378.2" y="143.6" width="1.5" height="1.5" fill="#000"/>
<rect x="365.3" y="153.6" width="1.5" height="1.5" fill="#000"/>
<rect x="404.7" y="116.3" width="1.5" height="1.5" fill="#000"/>
<rect x="426.6" y="89.7" width="1.5" height="1.5" fill="#000"/>
<rect x="393.1" y="140.9" width="1.5" height="1.5" fill="#000"/>
<rect x="379.3" y="143.7" width="1.5" height="1.5" fill="#000"/>
<rect x="425.9" y="106.0" width="1.5" height="1.5" fill="#000"/>
<rect x="431.0" y="94.2" width="1.5" height="1.5" fill="#000"/>
<rect x="373.5" y="151.8" width="1.5" height="1.5" fill="#000"/>
<rect x="392.4" y="130.8" width="1.5" height="1.5" fill="#000"/>
<rect x="393.1" y="130.9" width="1.5" height="1.5" fill="#000"/>
<rect x="366.1" y="153.1" width="1.5" height="1.5" fill="#000"/>
<rect x="376.0" y="146.8" width="1.5" height="1.5" fill="#000"/>
<rect x="405.1" y="115.4" width="1.5" height="1.5" fill="#000"/>
<rect x="377.0" y="146.7" width="1.5" height="1.5" fill="#000"/>
<rect x="417.8" y="107.6" width="1.5" height="1.5" fill="#000"/>
<rect x="418.7" y="106.7" width="1.5" height="1.5" fill="#000"/>
<rect x="394.4" y="125.1" width="1.5" height="1.5" fill="#000"/>
<rect x="412.9" y="112.7" width="1.5" height="1.5" fill="#000"/>
<rect x="401.5" y="120.2" width="1.5" height="1.5" fill="#000"/>
<rect x="394.5" y="131.0" width="1.5" height="1.5" fill="#000"/>
<rect x="431.1" y="98.0" width="1.5" height="1.5" fill="#000"/>
<rect x="408.5" y="113.1" width="1.5" height="1.5" fill="#000"/>
<rect x="427.7" y="101.8" width="1.5" height="1.5" fill="#000"/>
<rect x="404.2" y="119.6" width="1.5" height="1.5" fill="#000"/>
<rect x="398.8" y="123.4" width="1.5" height="1.5" fill="#000"/>
<rect x="427.0" y="101.7" width="1.5" height="1.5" fill="#000"/>
<rect x="390.6" y="130.9" width="1.5" height="1.5" fill="#000"/>
<rect x="364.5" y="155.2" width="1.5" height="1.5" fill="#000"/>
<rect x="423.6" y="103.9" width="1.5" height="1.5" fill="#000"/>
<rect x="441.4" y="93.7" width="1.5" height="1.5" fill="#000"/>
<rect x="411.7" y="113.5" width="1.5" height="1.5" fill="#000"/>
<rect x="429.1" y="93.9" width="1.5" height="1.5" fill="#000"/>
<rect x="370.4" y="152.0" width="1.5" height="1.5" fill="#000"/>
<rect x="376.8" y="146.4" width="1.5" height="1.5" fill="#000"/>
<rect x="419.1" y="113.8" width="1.5" height="1.5" fill="#000"/>
<rect x="400.0" y="122.2" width="1.5" height="1.5" fill="#000"/>
<rect x="407.0" y="116.8" width="1.5" height="1.5" fill="#000"/>
<rect x="427.3" y="90.1" width="1.5" height="1.5" fill="#000"/>
<rect x="419.5" y="109.3" width="1.5" height="1.5" fill="#000"/>
<rect x="421.5" y="113.2" width="1.5" height="1.5" fill="#000"/>
<rect x="422.9" y="107.8" width="1.5" height="1.5" fill="#000"/>
<rect x="428.1" y="95.6" width="1.5" height="1.5" fill="#000"/>
<rect x="428.0" y="90.9" width="1.5" height="1.5" fill="#000"/>
<rect x="402.0" y="120.9" width="1.5" height="1.5" fill="#000"/>
<rect x="362.5" y="156.1" width="1.5" height="1.5" fill="#000"/>
<rect x="363.2" y="154.9" width="1.5" height="1.5" fill="#000"/>
<rect x="388.2" y="135.7" width="1.5" height="1.5" fill="#000"/>
<rect x="422.4" y="103.7" width="1.5" height="1.5" fill="#000"/>
<rect x="383.3" y="140.1" width="1.5" height="1.5" fill="#000"/>
<rect x="406.7" y="114.7" width="1.5" height="1.5" fill="#000"/>
<rect x="398.2" y="124.6" width="1.5" height="1.5" fill="#000"/>
<rect x="399.5" y="124.0" width="1.5" height="1.5" fill="#000"/>
<rect x="378.8" y="145.4" width="1.5" height="1.5" fill="#000"/>
<rect x="391.2" y="138.4" width="1.5" height="1.5" fill="#000"/>
<rect x="388.1" y="137.0" width="1.5" height="1.5" fill="#000"/>
<rect x="409.8" y="111.9" width="1.5" height="1.5" fill="#000"/>
<rect x="395.3" y="133.3" width="1.5" height="1.5" fill="#000"/>
<rect x="424.1" y="104.6" width="1.5" height="1.5" fill="#000"/>
<rect x="390.6" y="133.6" width="1.5" height="1.5" fill="#000"/>
<rect x="402.2" y="124.7" width="1.5" height="1.5" fill="#000"/>
<rect x="394.5" y="130.6" width="1.5" height="1.5" fill="#000"/>
<rect x="401.9" y="128.6" width="1.5" height="1.5" fill="#000"/>
<rect x="388.2" y="136.5" width="1.5" height="1.5" fill="#000"/>
<rect x="395.5" y="128.2" width="1.5" height="1.5" fill="#000"/>
<rect x="397.4" y="128.5" width="1.5" height="1.5" fill="#000"/>
<rect x="384.4" y="153.0" width="1.5" height="1.5" fill="#000"/>
<rect x="390.3" y="134.7" width="1.5" height="1.5" fill="#000"/>
<rect x="413.2" y="111.1" width="1.5" height="1.5" fill="#000"/>
<rect x="367.2" y="153.1" width="1.5" height="1.5" fill="#000"/>
<rect x="383.4" y="139.8" width="1.5" height="1.5" fill="#000"/>
<rect x="413.6" y="110.0" width="1.5" height="1.5" fill="#000"/>
<rect x="375.4" y="154.9" width="1.5" height="1.5" fill="#000"/>
<rect x="365.5" y="156.4" width="1.5" height="1.5" fill="#000"/>
<rect x="396.1" y="123.7" width="1.5" height="1.5" fill="#000"/>
<rect x="401.6" y="118.6" width="1.5" height="1.5" fill="#000"/>
<rect x="378.4" y="143.3" width="1.5" height="1.5" fill="#000"/>
<rect x="388.7" y="135.9" width="1.5" height="1.5" fill="#000"/>
<rect x="424.1" y="118.1" width="1.5" height="1.5" fill="#000"/>
<rect x="376.9" y="146.2" width="1.5" height="1.5" fill="#000"/>
<rect x="390.5" y="134.9" width="1.5" height="1.5" fill="#000"/>
<rect x="381.7" y="141.0" width="1.5" height="1.5" fill="#000"/>
<rect x="429.2" y="91.0" width="1.5" height="1.5" fill="#000"/>
<rect x="429.4" y="98.7" width="1.5" height="1.5" fill="#000"/>
<rect x="428.9" y="103.2" width="1.5" height="1.5" fill="#000"/>
<rect x="429.6" y="101.8" width="1.5" height="1.5" fill="#000"/>
<rect x="400.7" y="121.6" width="1.5" height="1.5" fill="#000"/>
<rect x="395.9" y="125.7" width="1.5" height="1.5" fill="#000"/>
<rect x="378.6" y="143.8" width="1.5" height="1.5" fill="#000"/>
<rect x="404.2" y="117.1" width="1.5" height="1.5" fill="#000"/>
<rect x="374.4" y="147.4" width="1.5" height="1.5" fill="#000"/>
<rect x="397.2" y="122.7" width="1.5" height="1.5" fill="#000"/>
<rect x="386.5" y="134.3" width="1.5" height="1.5" fill="#000"/>
<rect x="423.3" y="106.3" width="1.5" height="1.5" fill="#000"/>
<rect x="376.6" y="146.5" width="1.5" height="1.5" fill="#000"/>
<rect x="411.8" y="112.1" width="1.5" height="1.5" fill="#000"/>
<rect x="366.0" y="153.2" width="1.5" height="1.5" fill="#000"/>
<rect x="375.8" y="146.7" width="1.5" height="1.5" fill="#000"/>
<rect x="391.9" y="149.5" width="1.5" height="1.5" fill="#000"/>
<rect x="383.8" y="144.9" width="1.5" height="1.5" fill="#000"/>
<rect x="377.0" y="154.5" width="1.5" height="1.5" fill="#000"/>
<rect x="417.3" y="120.3" width="1.5" height="1.5" fill="#000"/>
<rect x="392.5" y="129.0" width="1.5" height="1.5" fill="#000"/>
<rect x="371.7" y="149.8" width="1.5" height="1.5" fill="#000"/>
<rect x="409.2" y="115.0" width="1.5" height="1.5" fill="#000"/>
<rect x="395.3" y="125.7" width="1.5" height="1.5" fill="#000"/>
<rect x="407.1" y="124.8" width="1.5" height="1.5" fill="#000"/>
<rect x="368.9" y="151.8" width="1.5" height="1.5" fill="#000"/>
<rect x="407.0" y="118.0" width="1.5" height="1.5" fill="#000"/>
<rect x="408.7" y="115.1" width="1.5" height="1.5" fill="#000"/>
<rect x="409.3" y="112.8" width="1.5" height="1.5" fill="#000"/>
<rect x="393.1" y="127.4" width="1.5" height="1.5" fill="#000"/>
<rect x="374.0" y="151.1" width="1.5" height="1.5" fill="#000"/>
<rect x="422.3" y="104.0" width="1.5" height="1.5" fill="#000"/>
<rect x="421.4" y="106.3" width="1.5" height="1.5" fill="#000"/>
<rect x="404.4" y="125.1" width="1.5" height="1.5" fill="#000"/>
<rect x="428.7" y="105.4" width="1.5" height="1.5" fill="#000"/>
<rect x="430.3" y="104.1" width="1.5" height="1.5" fill="#000"/>
<rect x="423.9" y="104.1" width="1.5" height="1.5" fill="#000"/>
<rect x="362.7" y="155.7" width="1.5" height="1.5" fill="#000"/>
<rect x="408.5" y="116.5" width="1.5" height="1.5" fill="#000"/>
<rect x="408.0" y="113.3" width="1.5" height="1.5" fill="#000"/>
<rect x="394.0" y="128.4" width="1.5" height="1.5" fill="#000"/>
<rect x="405.7" y="127.6" width="1.5" height="1.5" fill="#000"/>
<rect x="431.2" y="106.6" width="1.5" height="1.5" fill="#000"/>
<rect x="388.4" y="139.3" width="1.5" height="1.5" fill="#000"/>
<rect x="408.8" y="118.0" width="1.5" height="1.5" fill="#000"/>
<rect x="394.8" y="124.6" width="1.5" height="1.5" fill="#000"/>
<rect x="383.7" y="142.4" width="1.5" height="1.5" fill="#000"/>
<rect x="399.2" y="121.8" width="1.5" height="1.5" fill="#000"/>
<rect x="366.5" y="154.7" width="1.5" height="1.5" fill="#000"/>
<rect x="373.9" y="154.8" width="1.5" height="1.5" fill="#000"/>
<rect x="393.8" y="130.8" width="1.5" height="1.5" fill="#000"/>
<rect x="373.9" y="154.6" width="1.5" height="1.5" fill="#000"/>
<rect x="403.5" y="116.6" width="1.5" height="1.5" fill="#000"/>
<rect x="391.0" y="130.3" width="1.5" height="1.5" fill="#000"/>
<rect x="398.6" y="128.0" width="1.5" height="1.5" fill="#000"/>
<rect x="412.3" y="123.6" width="1.5" height="1.5" fill="#000"/>
<rect x="430.1" y="91.0" width="1.5" height="1.5" fill="#000"/>
<rect x="380.7" y="77.7" width="2.4" height="2.4" fill="#1818d8"/>
<rect x="394.4" y="82.4" width="2.4" height="2.4" fill="#1818d8"/>
<rect x="399.6" y="81.0" width="2.4" height="2.4" fill="#1818d8"/>
<rect x="407.0" y="79.5" width="2.4" height="2.4" fill="#1818d8"/>
<rect x="410.7" y="72.8" width="2.4" height="2.4" fill="#1818d8"/>
<rect x="411.4" y="76.5" width="2.4" height="2.4" fill="#1818d8"/>
<rect x="386.3" y="89.8" width="2.4" height="2.4" fill="#1818d8"/>
<rect x="385.6" y="94.3" width="2.4" height="2.4" fill="#1818d8"/>
<rect x="390.0" y="93.5" width="2.4" height="2.4" fill="#1818d8"/>
<rect x="369.3" y="100.9" width="2.4" height="2.4" fill="#1818d8"/>
<rect x="360.4" y="106.1" width="2.4" height="2.4" fill="#1818d8"/>
<rect x="451.8" y="55.6" width="2.4" height="2.4" fill="#1818d8"/>
<rect x="444.4" y="59.0" width="2.4" height="2.4" fill="#1818d8"/>
<rect x="442.2" y="59.7" width="2.4" height="2.4" fill="#1818d8"/>
<rect x="435.6" y="66.4" width="2.4" height="2.4" fill="#1818d8"/>
<rect x="437.8" y="65.6" width="2.4" height="2.4" fill="#1818d8"/>
<rect x="426.0" y="67.8" width="2.4" height="2.4" fill="#1818d8"/>
<rect x="426.0" y="71.5" width="2.4" height="2.4" fill="#1818d8"/>
<rect x="410.4" y="73.0" width="2.4" height="2.4" fill="#1818d8"/>
<rect x="411.9" y="75.2" width="2.4" height="2.4" fill="#1818d8"/>
<rect x="417.8" y="76.0" width="2.4" height="2.4" fill="#1818d8"/>
<rect x="406.8" y="79.7" width="2.4" height="2.4" fill="#1818d8"/>
<rect x="409.7" y="83.3" width="2.4" height="2.4" fill="#1818d8"/>
<rect x="415.6" y="81.1" width="2.4" height="2.4" fill="#1818d8"/>
<rect x="421.5" y="79.7" width="2.4" height="2.4" fill="#1818d8"/>
<rect x="469.8" y="41.4" width="2.4" height="2.4" fill="#1818d8"/>
<rect x="451.6" y="55.4" width="2.4" height="2.4" fill="#1818d8"/>
<rect x="353.8" y="102.8" width="2.4" height="2.4" fill="#1818d8"/>
<rect x="425.7" y="67.6" width="2.4" height="2.4" fill="#1818d8"/>
<rect x="425.7" y="71.0" width="2.4" height="2.4" fill="#1818d8"/>
<rect x="422.2" y="78.8" width="2.4" height="2.4" fill="#1818d8"/>
<rect x="420.5" y="80.5" width="2.4" height="2.4" fill="#1818d8"/>
<rect x="434.3" y="66.8" width="2.4" height="2.4" fill="#1818d8"/>
<rect x="436.9" y="65.9" width="2.4" height="2.4" fill="#1818d8"/>
<rect x="442.1" y="59.8" width="2.4" height="2.4" fill="#1818d8"/>
<rect x="444.7" y="59.0" width="2.4" height="2.4" fill="#1818d8"/>
<rect x="457.8" y="66.3" width="2.4" height="2.4" fill="#e01818"/>
<rect x="462.3" y="67.0" width="2.4" height="2.4" fill="#e01818"/>
<rect x="448.8" y="98.8" width="2.4" height="2.4" fill="#e01818"/>
<rect x="459.9" y="101.1" width="2.4" height="2.4" fill="#e01818"/>
<rect x="437.8" y="111.4" width="2.4" height="2.4" fill="#e01818"/>
<rect x="428.9" y="107.7" width="2.4" height="2.4" fill="#e01818"/>
<rect x="421.5" y="108.5" width="2.4" height="2.4" fill="#e01818"/>
<rect x="417.1" y="105.5" width="2.4" height="2.4" fill="#e01818"/>
<rect x="440.7" y="84.8" width="2.4" height="2.4" fill="#e01818"/>
<rect x="399.5" y="150.8" width="2.4" height="2.4" fill="#e01818"/>
<rect x="400.8" y="147.7" width="2.4" height="2.4" fill="#e01818"/>
<rect x="405.7" y="148.3" width="2.4" height="2.4" fill="#e01818"/>
<rect x="403.8" y="143.4" width="2.4" height="2.4" fill="#e01818"/>
<rect x="403.8" y="139.7" width="2.4" height="2.4" fill="#e01818"/>
<rect x="409.4" y="139.0" width="2.4" height="2.4" fill="#e01818"/>
<rect x="413.7" y="138.4" width="2.4" height="2.4" fill="#e01818"/>
<rect x="410.6" y="133.5" width="2.4" height="2.4" fill="#e01818"/>
<rect x="414.3" y="131.7" width="2.4" height="2.4" fill="#e01818"/>
<rect x="409.4" y="129.2" width="2.4" height="2.4" fill="#e01818"/>
<rect x="404.4" y="129.2" width="2.4" height="2.4" fill="#e01818"/>
<rect x="406.9" y="125.5" width="2.4" height="2.4" fill="#e01818"/>
<rect x="413.1" y="123.7" width="2.4" height="2.4" fill="#e01818"/>
<rect x="415.5" y="124.9" width="2.4" height="2.4" fill="#e01818"/>
<rect x="418.0" y="118.7" width="2.4" height="2.4" fill="#e01818"/>
<rect x="420.4" y="122.4" width="2.4" height="2.4" fill="#e01818"/>
<rect x="421.7" y="115.6" width="2.4" height="2.4" fill="#e01818"/>
<rect x="397.1" y="134.7" width="2.4" height="2.4" fill="#e01818"/>
<rect x="395.8" y="140.9" width="2.4" height="2.4" fill="#e01818"/>
<rect x="390.9" y="144.6" width="2.4" height="2.4" fill="#e01818"/>
<rect x="393.4" y="139.7" width="2.4" height="2.4" fill="#e01818"/>
<rect x="393.4" y="148.9" width="2.4" height="2.4" fill="#e01818"/>
<rect x="497.2" y="29.4" width="1.4" height="1.4" fill="#000"/>
<rect x="481.0" y="40.8" width="1.4" height="1.4" fill="#000"/>
<rect x="483.7" y="42.9" width="1.4" height="1.4" fill="#000"/>
<rect x="478.3" y="46.2" width="1.4" height="1.4" fill="#000"/>
<rect x="474.3" y="48.3" width="1.4" height="1.4" fill="#000"/>
<rect x="468.3" y="49.6" width="1.4" height="1.4" fill="#000"/>
<rect x="466.3" y="52.3" width="1.4" height="1.4" fill="#000"/>
<rect x="475.0" y="55.0" width="1.4" height="1.4" fill="#000"/>
<text x="0.6" y="247.4" font-size="16.6" font-weight="bold" text-anchor="start" fill="#000" textLength="11.4" lengthAdjust="spacingAndGlyphs" stroke="#000" stroke-width="0.70">C</text>
<text x="15.4" y="263.4" font-size="10.2" font-weight="bold" text-anchor="start" fill="#000" textLength="21.3" lengthAdjust="spacingAndGlyphs" stroke="#000" stroke-width="0.43">12hr</text>
<text x="55.5" y="260.2" font-size="8.0" font-weight="bold" text-anchor="start" fill="#000" textLength="17.0" lengthAdjust="spacingAndGlyphs" stroke="#000" stroke-width="0.34">LCA</text>
<text x="89.0" y="260.2" font-size="8.0" font-weight="bold" text-anchor="start" fill="#000" textLength="16.5" lengthAdjust="spacingAndGlyphs" stroke="#000" stroke-width="0.34">RCA</text>
<line x1="49.5" y1="262.6" x2="76.0" y2="262.6" stroke="#555" stroke-width="1.3"/>
<line x1="85.0" y1="262.6" x2="111.0" y2="262.6" stroke="#555" stroke-width="1.3"/>
<text x="51.5" y="273.9" font-size="7.6" font-weight="bold" text-anchor="middle" fill="#000" stroke="#000" stroke-width="0.32">1</text>
<text x="63.3" y="273.9" font-size="7.6" font-weight="bold" text-anchor="middle" fill="#000" stroke="#000" stroke-width="0.32">2</text>
<text x="75.0" y="273.9" font-size="7.6" font-weight="bold" text-anchor="middle" fill="#000" stroke="#000" stroke-width="0.32">3</text>
<text x="86.5" y="273.9" font-size="7.6" font-weight="bold" text-anchor="middle" fill="#000" stroke="#000" stroke-width="0.32">1</text>
<text x="98.3" y="273.9" font-size="7.6" font-weight="bold" text-anchor="middle" fill="#000" stroke="#000" stroke-width="0.32">2</text>
<text x="109.8" y="273.9" font-size="7.6" font-weight="bold" text-anchor="middle" fill="#000" stroke="#000" stroke-width="0.32">3</text>
<text x="141.8" y="246.6" font-size="16.6" font-weight="bold" text-anchor="start" fill="#000" textLength="11.4" lengthAdjust="spacingAndGlyphs" stroke="#000" stroke-width="0.70">D</text>
<text x="142.3" y="261.0" font-size="10.2" font-weight="bold" text-anchor="start" fill="#000" textLength="21.5" lengthAdjust="spacingAndGlyphs" stroke="#000" stroke-width="0.43">48hr</text>
<text x="182.5" y="258.2" font-size="8.0" font-weight="bold" text-anchor="start" fill="#000" textLength="16.5" lengthAdjust="spacingAndGlyphs" stroke="#000" stroke-width="0.34">LCA</text>
<text x="216.0" y="258.2" font-size="8.0" font-weight="bold" text-anchor="start" fill="#000" textLength="16.5" lengthAdjust="spacingAndGlyphs" stroke="#000" stroke-width="0.34">RCA</text>
<line x1="176.0" y1="261.2" x2="204.0" y2="261.2" stroke="#555" stroke-width="1.3"/>
<line x1="211.0" y1="261.2" x2="238.0" y2="261.2" stroke="#555" stroke-width="1.3"/>
<text x="179.2" y="272.7" font-size="7.6" font-weight="bold" text-anchor="middle" fill="#000" stroke="#000" stroke-width="0.32">1</text>
<text x="190.6" y="272.7" font-size="7.6" font-weight="bold" text-anchor="middle" fill="#000" stroke="#000" stroke-width="0.32">2</text>
<text x="202.2" y="272.7" font-size="7.6" font-weight="bold" text-anchor="middle" fill="#000" stroke="#000" stroke-width="0.32">3</text>
<text x="213.5" y="272.7" font-size="7.6" font-weight="bold" text-anchor="middle" fill="#000" stroke="#000" stroke-width="0.32">1</text>
<text x="225.2" y="272.7" font-size="7.6" font-weight="bold" text-anchor="middle" fill="#000" stroke="#000" stroke-width="0.32">2</text>
<text x="237.0" y="272.7" font-size="7.6" font-weight="bold" text-anchor="middle" fill="#000" stroke="#000" stroke-width="0.32">3</text>
<rect x="46.80" y="279.40" width="12.20" height="3.40" fill="rgb(222,0,0)"/>
<rect x="58.40" y="279.40" width="12.20" height="3.40" fill="rgb(53,0,0)"/>
<rect x="70.00" y="279.40" width="12.10" height="3.40" fill="rgb(179,0,0)"/>
<rect x="81.50" y="279.40" width="12.10" height="3.40" fill="rgb(0,0,0)"/>
<rect x="93.00" y="279.40" width="12.10" height="3.40" fill="rgb(0,212,0)"/>
<rect x="104.50" y="279.40" width="11.50" height="3.40" fill="rgb(0,93,0)"/>
<rect x="46.80" y="282.20" width="12.20" height="2.75" fill="rgb(84,0,0)"/>
<rect x="58.40" y="282.20" width="12.20" height="2.75" fill="rgb(244,0,0)"/>
<rect x="70.00" y="282.20" width="12.10" height="2.75" fill="rgb(187,0,0)"/>
<rect x="81.50" y="282.20" width="12.10" height="2.75" fill="rgb(0,172,0)"/>
<rect x="93.00" y="282.20" width="12.10" height="2.75" fill="rgb(55,0,0)"/>
<rect x="104.50" y="282.20" width="11.50" height="2.75" fill="rgb(0,217,0)"/>
<rect x="46.80" y="284.35" width="12.20" height="2.75" fill="rgb(97,0,0)"/>
<rect x="58.40" y="284.35" width="12.20" height="2.75" fill="rgb(227,0,0)"/>
<rect x="70.00" y="284.35" width="12.10" height="2.75" fill="rgb(167,0,0)"/>
<rect x="81.50" y="284.35" width="12.10" height="2.75" fill="rgb(0,168,0)"/>
<rect x="93.00" y="284.35" width="12.10" height="2.75" fill="rgb(42,0,0)"/>
<rect x="104.50" y="284.35" width="11.50" height="2.75" fill="rgb(0,225,0)"/>
<rect x="46.80" y="286.50" width="12.20" height="3.05" fill="rgb(92,0,0)"/>
<rect x="58.40" y="286.50" width="12.20" height="3.05" fill="rgb(255,0,0)"/>
<rect x="70.00" y="286.50" width="12.10" height="3.05" fill="rgb(53,0,0)"/>
<rect x="81.50" y="286.50" width="12.10" height="3.05" fill="rgb(0,147,0)"/>
<rect x="93.00" y="286.50" width="12.10" height="3.05" fill="rgb(54,0,0)"/>
<rect x="104.50" y="286.50" width="11.50" height="3.05" fill="rgb(0,219,0)"/>
<rect x="46.80" y="288.95" width="12.20" height="3.05" fill="rgb(102,0,0)"/>
<rect x="58.40" y="288.95" width="12.20" height="3.05" fill="rgb(218,0,0)"/>
<rect x="70.00" y="288.95" width="12.10" height="3.05" fill="rgb(41,0,0)"/>
<rect x="81.50" y="288.95" width="12.10" height="3.05" fill="rgb(0,183,0)"/>
<rect x="93.00" y="288.95" width="12.10" height="3.05" fill="rgb(45,0,0)"/>
<rect x="104.50" y="288.95" width="11.50" height="3.05" fill="rgb(0,225,0)"/>
<rect x="46.80" y="291.40" width="12.20" height="2.63" fill="rgb(255,0,0)"/>
<rect x="58.40" y="291.40" width="12.20" height="2.63" fill="rgb(147,0,0)"/>
<rect x="70.00" y="291.40" width="12.10" height="2.63" fill="rgb(169,0,0)"/>
<rect x="81.50" y="291.40" width="12.10" height="2.63" fill="rgb(0,113,0)"/>
<rect x="93.00" y="291.40" width="12.10" height="2.63" fill="rgb(0,233,0)"/>
<rect x="104.50" y="291.40" width="11.50" height="2.63" fill="rgb(0,69,0)"/>
<rect x="46.80" y="293.43" width="12.20" height="2.63" fill="rgb(209,0,0)"/>
<rect x="58.40" y="293.43" width="12.20" height="2.63" fill="rgb(149,0,0)"/>
<rect x="70.00" y="293.43" width="12.10" height="2.63" fill="rgb(192,0,0)"/>
<rect x="81.50" y="293.43" width="12.10" height="2.63" fill="rgb(0,113,0)"/>
<rect x="93.00" y="293.43" width="12.10" height="2.63" fill="rgb(0,255,0)"/>
<rect x="104.50" y="293.43" width="11.50" height="2.63" fill="rgb(0,61,0)"/>
<rect x="46.80" y="295.47" width="12.20" height="2.63" fill="rgb(220,0,0)"/>
<rect x="58.40" y="295.47" width="12.20" height="2.63" fill="rgb(118,0,0)"/>
<rect x="70.00" y="295.47" width="12.10" height="2.63" fill="rgb(161,0,0)"/>
<rect x="81.50" y="295.47" width="12.10" height="2.63" fill="rgb(0,85,0)"/>
<rect x="93.00" y="295.47" width="12.10" height="2.63" fill="rgb(0,216,0)"/>
<rect x="104.50" y="295.47" width="11.50" height="2.63" fill="rgb(0,68,0)"/>
<rect x="46.80" y="297.50" width="12.20" height="3.17" fill="rgb(181,0,0)"/>
<rect x="58.40" y="297.50" width="12.20" height="3.17" fill="rgb(208,0,0)"/>
<rect x="70.00" y="297.50" width="12.10" height="3.17" fill="rgb(46,0,0)"/>
<rect x="81.50" y="297.50" width="12.10" height="3.17" fill="rgb(0,62,0)"/>
<rect x="93.00" y="297.50" width="12.10" height="3.17" fill="rgb(0,90,0)"/>
<rect x="104.50" y="297.50" width="11.50" height="3.17" fill="rgb(0,245,0)"/>
<rect x="46.80" y="300.07" width="12.20" height="3.17" fill="rgb(202,0,0)"/>
<rect x="58.40" y="300.07" width="12.20" height="3.17" fill="rgb(196,0,0)"/>
<rect x="70.00" y="300.07" width="12.10" height="3.17" fill="rgb(52,0,0)"/>
<rect x="81.50" y="300.07" width="12.10" height="3.17" fill="rgb(0,56,0)"/>
<rect x="93.00" y="300.07" width="12.10" height="3.17" fill="rgb(0,94,0)"/>
<rect x="104.50" y="300.07" width="11.50" height="3.17" fill="rgb(0,210,0)"/>
<rect x="46.80" y="302.63" width="12.20" height="3.17" fill="rgb(230,0,0)"/>
<rect x="58.40" y="302.63" width="12.20" height="3.17" fill="rgb(218,0,0)"/>
<rect x="70.00" y="302.63" width="12.10" height="3.17" fill="rgb(42,0,0)"/>
<rect x="81.50" y="302.63" width="12.10" height="3.17" fill="rgb(0,71,0)"/>
<rect x="93.00" y="302.63" width="12.10" height="3.17" fill="rgb(0,79,0)"/>
<rect x="104.50" y="302.63" width="11.50" height="3.17" fill="rgb(0,253,0)"/>
<rect x="46.80" y="305.20" width="12.20" height="2.53" fill="rgb(209,0,0)"/>
<rect x="58.40" y="305.20" width="12.20" height="2.53" fill="rgb(198,0,0)"/>
<rect x="70.00" y="305.20" width="12.10" height="2.53" fill="rgb(178,0,0)"/>
<rect x="81.50" y="305.20" width="12.10" height="2.53" fill="rgb(0,94,0)"/>
<rect x="93.00" y="305.20" width="12.10" height="2.53" fill="rgb(0,224,0)"/>
<rect x="104.50" y="305.20" width="11.50" height="2.53" fill="rgb(0,255,0)"/>
<rect x="46.80" y="307.13" width="12.20" height="2.53" fill="rgb(255,0,0)"/>
<rect x="58.40" y="307.13" width="12.20" height="2.53" fill="rgb(255,0,0)"/>
<rect x="70.00" y="307.13" width="12.10" height="2.53" fill="rgb(188,0,0)"/>
<rect x="81.50" y="307.13" width="12.10" height="2.53" fill="rgb(0,78,0)"/>
<rect x="93.00" y="307.13" width="12.10" height="2.53" fill="rgb(0,249,0)"/>
<rect x="104.50" y="307.13" width="11.50" height="2.53" fill="rgb(0,255,0)"/>
<rect x="46.80" y="309.07" width="12.20" height="2.53" fill="rgb(217,0,0)"/>
<rect x="58.40" y="309.07" width="12.20" height="2.53" fill="rgb(248,0,0)"/>
<rect x="70.00" y="309.07" width="12.10" height="2.53" fill="rgb(216,0,0)"/>
<rect x="81.50" y="309.07" width="12.10" height="2.53" fill="rgb(0,91,0)"/>
<rect x="93.00" y="309.07" width="12.10" height="2.53" fill="rgb(0,211,0)"/>
<rect x="104.50" y="309.07" width="11.50" height="2.53" fill="rgb(0,255,0)"/>
<rect x="46.80" y="311.00" width="12.20" height="2.95" fill="rgb(216,0,0)"/>
<rect x="58.40" y="311.00" width="12.20" height="2.95" fill="rgb(203,0,0)"/>
<rect x="70.00" y="311.00" width="12.10" height="2.95" fill="rgb(187,0,0)"/>
<rect x="81.50" y="311.00" width="12.10" height="2.95" fill="rgb(0,111,0)"/>
<rect x="93.00" y="311.00" width="12.10" height="2.95" fill="rgb(0,188,0)"/>
<rect x="104.50" y="311.00" width="11.50" height="2.95" fill="rgb(0,255,0)"/>
<rect x="46.80" y="313.35" width="12.20" height="2.95" fill="rgb(250,0,0)"/>
<rect x="58.40" y="313.35" width="12.20" height="2.95" fill="rgb(201,0,0)"/>
<rect x="70.00" y="313.35" width="12.10" height="2.95" fill="rgb(171,0,0)"/>
<rect x="81.50" y="313.35" width="12.10" height="2.95" fill="rgb(0,89,0)"/>
<rect x="93.00" y="313.35" width="12.10" height="2.95" fill="rgb(0,172,0)"/>
<rect x="104.50" y="313.35" width="11.50" height="2.95" fill="rgb(0,220,0)"/>
<rect x="46.80" y="315.70" width="12.20" height="2.90" fill="rgb(244,0,0)"/>
<rect x="58.40" y="315.70" width="12.20" height="2.90" fill="rgb(228,0,0)"/>
<rect x="70.00" y="315.70" width="12.10" height="2.90" fill="rgb(118,0,0)"/>
<rect x="81.50" y="315.70" width="12.10" height="2.90" fill="rgb(0,42,0)"/>
<rect x="93.00" y="315.70" width="12.10" height="2.90" fill="rgb(0,208,0)"/>
<rect x="104.50" y="315.70" width="11.50" height="2.90" fill="rgb(0,233,0)"/>
<rect x="46.80" y="318.00" width="12.20" height="2.90" fill="rgb(224,0,0)"/>
<rect x="58.40" y="318.00" width="12.20" height="2.90" fill="rgb(181,0,0)"/>
<rect x="70.00" y="318.00" width="12.10" height="2.90" fill="rgb(135,0,0)"/>
<rect x="81.50" y="318.00" width="12.10" height="2.90" fill="rgb(0,54,0)"/>
<rect x="93.00" y="318.00" width="12.10" height="2.90" fill="rgb(0,178,0)"/>
<rect x="104.50" y="318.00" width="11.50" height="2.90" fill="rgb(0,225,0)"/>
<rect x="46.80" y="320.30" width="12.20" height="2.67" fill="rgb(184,0,0)"/>
<rect x="58.40" y="320.30" width="12.20" height="2.67" fill="rgb(130,0,0)"/>
<rect x="70.00" y="320.30" width="12.10" height="2.67" fill="rgb(126,0,0)"/>
<rect x="81.50" y="320.30" width="12.10" height="2.67" fill="rgb(0,16,0)"/>
<rect x="93.00" y="320.30" width="12.10" height="2.67" fill="rgb(0,200,0)"/>
<rect x="104.50" y="320.30" width="11.50" height="2.67" fill="rgb(0,219,0)"/>
<rect x="46.80" y="322.37" width="12.20" height="2.67" fill="rgb(229,0,0)"/>
<rect x="58.40" y="322.37" width="12.20" height="2.67" fill="rgb(131,0,0)"/>
<rect x="70.00" y="322.37" width="12.10" height="2.67" fill="rgb(154,0,0)"/>
<rect x="81.50" y="322.37" width="12.10" height="2.67" fill="rgb(0,17,0)"/>
<rect x="93.00" y="322.37" width="12.10" height="2.67" fill="rgb(0,159,0)"/>
<rect x="104.50" y="322.37" width="11.50" height="2.67" fill="rgb(0,242,0)"/>
<rect x="46.80" y="324.43" width="12.20" height="2.67" fill="rgb(191,0,0)"/>
<rect x="58.40" y="324.43" width="12.20" height="2.67" fill="rgb(127,0,0)"/>
<rect x="70.00" y="324.43" width="12.10" height="2.67" fill="rgb(138,0,0)"/>
<rect x="81.50" y="324.43" width="12.10" height="2.67" fill="rgb(0,16,0)"/>
<rect x="93.00" y="324.43" width="12.10" height="2.67" fill="rgb(0,209,0)"/>
<rect x="104.50" y="324.43" width="11.50" height="2.67" fill="rgb(0,255,0)"/>
<rect x="46.80" y="326.50" width="12.20" height="2.63" fill="rgb(255,0,0)"/>
<rect x="58.40" y="326.50" width="12.20" height="2.63" fill="rgb(211,0,0)"/>
<rect x="70.00" y="326.50" width="12.10" height="2.63" fill="rgb(197,0,0)"/>
<rect x="81.50" y="326.50" width="12.10" height="2.63" fill="rgb(0,194,0)"/>
<rect x="93.00" y="326.50" width="12.10" height="2.63" fill="rgb(0,49,0)"/>
<rect x="104.50" y="326.50" width="11.50" height="2.63" fill="rgb(0,231,0)"/>
<rect x="46.80" y="328.53" width="12.20" height="2.63" fill="rgb(223,0,0)"/>
<rect x="58.40" y="328.53" width="12.20" height="2.63" fill="rgb(190,0,0)"/>
<rect x="70.00" y="328.53" width="12.10" height="2.63" fill="rgb(190,0,0)"/>
<rect x="81.50" y="328.53" width="12.10" height="2.63" fill="rgb(0,208,0)"/>
<rect x="93.00" y="328.53" width="12.10" height="2.63" fill="rgb(0,56,0)"/>
<rect x="104.50" y="328.53" width="11.50" height="2.63" fill="rgb(0,255,0)"/>
<rect x="46.80" y="330.57" width="12.20" height="2.63" fill="rgb(230,0,0)"/>
<rect x="58.40" y="330.57" width="12.20" height="2.63" fill="rgb(203,0,0)"/>
<rect x="70.00" y="330.57" width="12.10" height="2.63" fill="rgb(172,0,0)"/>
<rect x="81.50" y="330.57" width="12.10" height="2.63" fill="rgb(0,168,0)"/>
<rect x="93.00" y="330.57" width="12.10" height="2.63" fill="rgb(0,53,0)"/>
<rect x="104.50" y="330.57" width="11.50" height="2.63" fill="rgb(0,255,0)"/>
<rect x="46.80" y="332.60" width="12.20" height="2.55" fill="rgb(205,0,0)"/>
<rect x="58.40" y="332.60" width="12.20" height="2.55" fill="rgb(215,0,0)"/>
<rect x="70.00" y="332.60" width="12.10" height="2.55" fill="rgb(214,0,0)"/>
<rect x="81.50" y="332.60" width="12.10" height="2.55" fill="rgb(0,209,0)"/>
<rect x="93.00" y="332.60" width="12.10" height="2.55" fill="rgb(0,242,0)"/>
<rect x="104.50" y="332.60" width="11.50" height="2.55" fill="rgb(0,71,0)"/>
<rect x="46.80" y="334.55" width="12.20" height="2.55" fill="rgb(205,0,0)"/>
<rect x="58.40" y="334.55" width="12.20" height="2.55" fill="rgb(210,0,0)"/>
<rect x="70.00" y="334.55" width="12.10" height="2.55" fill="rgb(184,0,0)"/>
<rect x="81.50" y="334.55" width="12.10" height="2.55" fill="rgb(0,197,0)"/>
<rect x="93.00" y="334.55" width="12.10" height="2.55" fill="rgb(0,250,0)"/>
<rect x="104.50" y="334.55" width="11.50" height="2.55" fill="rgb(0,69,0)"/>
<rect x="46.80" y="336.50" width="12.20" height="2.90" fill="rgb(61,0,0)"/>
<rect x="58.40" y="336.50" width="12.20" height="2.90" fill="rgb(75,0,0)"/>
<rect x="70.00" y="336.50" width="12.10" height="2.90" fill="rgb(86,0,0)"/>
<rect x="81.50" y="336.50" width="12.10" height="2.90" fill="rgb(0,84,0)"/>
<rect x="93.00" y="336.50" width="12.10" height="2.90" fill="rgb(0,83,0)"/>
<rect x="104.50" y="336.50" width="11.50" height="2.90" fill="rgb(0,167,0)"/>
<rect x="46.80" y="338.80" width="12.20" height="2.80" fill="rgb(228,0,0)"/>
<rect x="58.40" y="338.80" width="12.20" height="2.80" fill="rgb(255,0,0)"/>
<rect x="70.00" y="338.80" width="12.10" height="2.80" fill="rgb(228,0,0)"/>
<rect x="81.50" y="338.80" width="12.10" height="2.80" fill="rgb(0,255,0)"/>
<rect x="93.00" y="338.80" width="12.10" height="2.80" fill="rgb(0,255,0)"/>
<rect x="104.50" y="338.80" width="11.50" height="2.80" fill="rgb(0,255,0)"/>
<rect x="46.80" y="341.00" width="12.20" height="2.80" fill="rgb(235,0,0)"/>
<rect x="58.40" y="341.00" width="12.20" height="2.80" fill="rgb(255,0,0)"/>
<rect x="70.00" y="341.00" width="12.10" height="2.80" fill="rgb(247,0,0)"/>
<rect x="81.50" y="341.00" width="12.10" height="2.80" fill="rgb(0,255,0)"/>
<rect x="93.00" y="341.00" width="12.10" height="2.80" fill="rgb(0,235,0)"/>
<rect x="104.50" y="341.00" width="11.50" height="2.80" fill="rgb(0,255,0)"/>
<rect x="46.80" y="343.20" width="12.20" height="2.80" fill="rgb(255,0,0)"/>
<rect x="58.40" y="343.20" width="12.20" height="2.80" fill="rgb(255,0,0)"/>
<rect x="70.00" y="343.20" width="12.10" height="2.80" fill="rgb(255,0,0)"/>
<rect x="81.50" y="343.20" width="12.10" height="2.80" fill="rgb(0,255,0)"/>
<rect x="93.00" y="343.20" width="12.10" height="2.80" fill="rgb(0,248,0)"/>
<rect x="104.50" y="343.20" width="11.50" height="2.80" fill="rgb(0,249,0)"/>
<rect x="46.80" y="345.40" width="12.20" height="3.70" fill="rgb(192,0,0)"/>
<rect x="58.40" y="345.40" width="12.20" height="3.70" fill="rgb(218,0,0)"/>
<rect x="70.00" y="345.40" width="12.10" height="3.70" fill="rgb(37,0,0)"/>
<rect x="81.50" y="345.40" width="12.10" height="3.70" fill="rgb(16,0,0)"/>
<rect x="93.00" y="345.40" width="12.10" height="3.70" fill="rgb(0,34,0)"/>
<rect x="104.50" y="345.40" width="11.50" height="3.70" fill="rgb(0,255,0)"/>
<rect x="46.80" y="348.50" width="12.20" height="3.25" fill="rgb(105,0,0)"/>
<rect x="58.40" y="348.50" width="12.20" height="3.25" fill="rgb(118,0,0)"/>
<rect x="70.00" y="348.50" width="12.10" height="3.25" fill="rgb(255,0,0)"/>
<rect x="81.50" y="348.50" width="12.10" height="3.25" fill="rgb(0,202,0)"/>
<rect x="93.00" y="348.50" width="12.10" height="3.25" fill="rgb(0,255,0)"/>
<rect x="104.50" y="348.50" width="11.50" height="3.25" fill="rgb(32,0,0)"/>
<rect x="46.80" y="351.15" width="12.20" height="3.25" fill="rgb(102,0,0)"/>
<rect x="58.40" y="351.15" width="12.20" height="3.25" fill="rgb(143,0,0)"/>
<rect x="70.00" y="351.15" width="12.10" height="3.25" fill="rgb(255,0,0)"/>
<rect x="81.50" y="351.15" width="12.10" height="3.25" fill="rgb(0,211,0)"/>
<rect x="93.00" y="351.15" width="12.10" height="3.25" fill="rgb(0,211,0)"/>
<rect x="104.50" y="351.15" width="11.50" height="3.25" fill="rgb(29,0,0)"/>
<rect x="46.80" y="353.80" width="12.20" height="3.80" fill="rgb(16,0,0)"/>
<rect x="58.40" y="353.80" width="12.20" height="3.80" fill="rgb(0,172,0)"/>
<rect x="70.00" y="353.80" width="12.10" height="3.80" fill="rgb(0,225,0)"/>
<rect x="81.50" y="353.80" width="12.10" height="3.80" fill="rgb(244,0,0)"/>
<rect x="93.00" y="353.80" width="12.10" height="3.80" fill="rgb(188,0,0)"/>
<rect x="104.50" y="353.80" width="11.50" height="3.80" fill="rgb(56,0,0)"/>
<rect x="46.80" y="357.00" width="12.20" height="3.60" fill="rgb(0,245,0)"/>
<rect x="58.40" y="357.00" width="12.20" height="3.60" fill="rgb(0,45,0)"/>
<rect x="70.00" y="357.00" width="12.10" height="3.60" fill="rgb(0,199,0)"/>
<rect x="81.50" y="357.00" width="12.10" height="3.60" fill="rgb(116,0,0)"/>
<rect x="93.00" y="357.00" width="12.10" height="3.60" fill="rgb(202,0,0)"/>
<rect x="104.50" y="357.00" width="11.50" height="3.60" fill="rgb(59,0,0)"/>
<rect x="46.80" y="360.00" width="12.20" height="2.93" fill="rgb(0,223,0)"/>
<rect x="58.40" y="360.00" width="12.20" height="2.93" fill="rgb(0,141,0)"/>
<rect x="70.00" y="360.00" width="12.10" height="2.93" fill="rgb(0,65,0)"/>
<rect x="81.50" y="360.00" width="12.10" height="2.93" fill="rgb(127,0,0)"/>
<rect x="93.00" y="360.00" width="12.10" height="2.93" fill="rgb(153,0,0)"/>
<rect x="104.50" y="360.00" width="11.50" height="2.93" fill="rgb(169,0,0)"/>
<rect x="46.80" y="362.33" width="12.20" height="2.93" fill="rgb(0,227,0)"/>
<rect x="58.40" y="362.33" width="12.20" height="2.93" fill="rgb(0,185,0)"/>
<rect x="70.00" y="362.33" width="12.10" height="2.93" fill="rgb(0,55,0)"/>
<rect x="81.50" y="362.33" width="12.10" height="2.93" fill="rgb(128,0,0)"/>
<rect x="93.00" y="362.33" width="12.10" height="2.93" fill="rgb(138,0,0)"/>
<rect x="104.50" y="362.33" width="11.50" height="2.93" fill="rgb(160,0,0)"/>
<rect x="46.80" y="364.67" width="12.20" height="2.93" fill="rgb(0,217,0)"/>
<rect x="58.40" y="364.67" width="12.20" height="2.93" fill="rgb(0,181,0)"/>
<rect x="70.00" y="364.67" width="12.10" height="2.93" fill="rgb(0,63,0)"/>
<rect x="81.50" y="364.67" width="12.10" height="2.93" fill="rgb(112,0,0)"/>
<rect x="93.00" y="364.67" width="12.10" height="2.93" fill="rgb(153,0,0)"/>
<rect x="104.50" y="364.67" width="11.50" height="2.93" fill="rgb(144,0,0)"/>
<rect x="46.80" y="367.00" width="12.20" height="3.60" fill="rgb(0,83,0)"/>
<rect x="58.40" y="367.00" width="12.20" height="3.60" fill="rgb(0,172,0)"/>
<rect x="70.00" y="367.00" width="12.10" height="3.60" fill="rgb(0,118,0)"/>
<rect x="81.50" y="367.00" width="12.10" height="3.60" fill="rgb(225,0,0)"/>
<rect x="93.00" y="367.00" width="12.10" height="3.60" fill="rgb(253,0,0)"/>
<rect x="104.50" y="367.00" width="11.50" height="3.60" fill="rgb(225,0,0)"/>
<rect x="46.80" y="370.00" width="12.20" height="2.90" fill="rgb(0,255,0)"/>
<rect x="58.40" y="370.00" width="12.20" height="2.90" fill="rgb(0,255,0)"/>
<rect x="70.00" y="370.00" width="12.10" height="2.90" fill="rgb(0,110,0)"/>
<rect x="81.50" y="370.00" width="12.10" height="2.90" fill="rgb(190,0,0)"/>
<rect x="93.00" y="370.00" width="12.10" height="2.90" fill="rgb(237,0,0)"/>
<rect x="104.50" y="370.00" width="11.50" height="2.90" fill="rgb(252,0,0)"/>
<rect x="46.80" y="372.30" width="12.20" height="2.90" fill="rgb(0,255,0)"/>
<rect x="58.40" y="372.30" width="12.20" height="2.90" fill="rgb(0,255,0)"/>
<rect x="70.00" y="372.30" width="12.10" height="2.90" fill="rgb(0,119,0)"/>
<rect x="81.50" y="372.30" width="12.10" height="2.90" fill="rgb(204,0,0)"/>
<rect x="93.00" y="372.30" width="12.10" height="2.90" fill="rgb(255,0,0)"/>
<rect x="104.50" y="372.30" width="11.50" height="2.90" fill="rgb(209,0,0)"/>
<rect x="46.80" y="374.60" width="12.20" height="2.90" fill="rgb(0,144,0)"/>
<rect x="58.40" y="374.60" width="12.20" height="2.90" fill="rgb(0,168,0)"/>
<rect x="70.00" y="374.60" width="12.10" height="2.90" fill="rgb(0,187,0)"/>
<rect x="81.50" y="374.60" width="12.10" height="2.90" fill="rgb(175,0,0)"/>
<rect x="93.00" y="374.60" width="12.10" height="2.90" fill="rgb(205,0,0)"/>
<rect x="104.50" y="374.60" width="11.50" height="2.90" fill="rgb(203,0,0)"/>
<rect x="46.80" y="376.90" width="12.20" height="2.90" fill="rgb(0,158,0)"/>
<rect x="58.40" y="376.90" width="12.20" height="2.90" fill="rgb(0,161,0)"/>
<rect x="70.00" y="376.90" width="12.10" height="2.90" fill="rgb(0,166,0)"/>
<rect x="81.50" y="376.90" width="12.10" height="2.90" fill="rgb(185,0,0)"/>
<rect x="93.00" y="376.90" width="12.10" height="2.90" fill="rgb(226,0,0)"/>
<rect x="104.50" y="376.90" width="11.50" height="2.90" fill="rgb(174,0,0)"/>
<rect x="46.80" y="379.20" width="12.20" height="2.90" fill="rgb(0,169,0)"/>
<rect x="58.40" y="379.20" width="12.20" height="2.90" fill="rgb(0,74,0)"/>
<rect x="70.00" y="379.20" width="12.10" height="2.90" fill="rgb(0,169,0)"/>
<rect x="81.50" y="379.20" width="12.10" height="2.90" fill="rgb(198,0,0)"/>
<rect x="93.00" y="379.20" width="12.10" height="2.90" fill="rgb(208,0,0)"/>
<rect x="104.50" y="379.20" width="11.50" height="2.90" fill="rgb(82,0,0)"/>
<rect x="46.80" y="381.50" width="12.20" height="2.90" fill="rgb(0,144,0)"/>
<rect x="58.40" y="381.50" width="12.20" height="2.90" fill="rgb(0,62,0)"/>
<rect x="70.00" y="381.50" width="12.10" height="2.90" fill="rgb(0,189,0)"/>
<rect x="81.50" y="381.50" width="12.10" height="2.90" fill="rgb(213,0,0)"/>
<rect x="93.00" y="381.50" width="12.10" height="2.90" fill="rgb(169,0,0)"/>
<rect x="104.50" y="381.50" width="11.50" height="2.90" fill="rgb(81,0,0)"/>
<rect x="46.80" y="383.80" width="12.20" height="3.30" fill="rgb(0,116,0)"/>
<rect x="58.40" y="383.80" width="12.20" height="3.30" fill="rgb(0,119,0)"/>
<rect x="70.00" y="383.80" width="12.10" height="3.30" fill="rgb(0,194,0)"/>
<rect x="81.50" y="383.80" width="12.10" height="3.30" fill="rgb(154,0,0)"/>
<rect x="93.00" y="383.80" width="12.10" height="3.30" fill="rgb(233,0,0)"/>
<rect x="104.50" y="383.80" width="11.50" height="3.30" fill="rgb(127,0,0)"/>
<rect x="46.80" y="386.50" width="12.20" height="3.30" fill="rgb(0,112,0)"/>
<rect x="58.40" y="386.50" width="12.20" height="3.30" fill="rgb(0,116,0)"/>
<rect x="70.00" y="386.50" width="12.10" height="3.30" fill="rgb(0,184,0)"/>
<rect x="81.50" y="386.50" width="12.10" height="3.30" fill="rgb(187,0,0)"/>
<rect x="93.00" y="386.50" width="12.10" height="3.30" fill="rgb(233,0,0)"/>
<rect x="104.50" y="386.50" width="11.50" height="3.30" fill="rgb(106,0,0)"/>
<rect x="46.80" y="389.20" width="12.20" height="3.30" fill="rgb(0,214,0)"/>
<rect x="58.40" y="389.20" width="12.20" height="3.30" fill="rgb(0,88,0)"/>
<rect x="70.00" y="389.20" width="12.10" height="3.30" fill="rgb(0,189,0)"/>
<rect x="81.50" y="389.20" width="12.10" height="3.30" fill="rgb(108,0,0)"/>
<rect x="93.00" y="389.20" width="12.10" height="3.30" fill="rgb(255,0,0)"/>
<rect x="104.50" y="389.20" width="11.50" height="3.30" fill="rgb(212,0,0)"/>
<rect x="46.80" y="391.90" width="12.20" height="3.30" fill="rgb(0,241,0)"/>
<rect x="58.40" y="391.90" width="12.20" height="3.30" fill="rgb(0,102,0)"/>
<rect x="70.00" y="391.90" width="12.10" height="3.30" fill="rgb(0,177,0)"/>
<rect x="81.50" y="391.90" width="12.10" height="3.30" fill="rgb(101,0,0)"/>
<rect x="93.00" y="391.90" width="12.10" height="3.30" fill="rgb(255,0,0)"/>
<rect x="104.50" y="391.90" width="11.50" height="3.30" fill="rgb(201,0,0)"/>
<rect x="46.80" y="394.60" width="12.20" height="2.90" fill="rgb(0,233,0)"/>
<rect x="58.40" y="394.60" width="12.20" height="2.90" fill="rgb(0,93,0)"/>
<rect x="70.00" y="394.60" width="12.10" height="2.90" fill="rgb(0,154,0)"/>
<rect x="81.50" y="394.60" width="12.10" height="2.90" fill="rgb(83,0,0)"/>
<rect x="93.00" y="394.60" width="12.10" height="2.90" fill="rgb(244,0,0)"/>
<rect x="104.50" y="394.60" width="11.50" height="2.90" fill="rgb(220,0,0)"/>
<rect x="46.80" y="396.90" width="12.20" height="2.90" fill="rgb(0,248,0)"/>
<rect x="58.40" y="396.90" width="12.20" height="2.90" fill="rgb(0,101,0)"/>
<rect x="70.00" y="396.90" width="12.10" height="2.90" fill="rgb(0,141,0)"/>
<rect x="81.50" y="396.90" width="12.10" height="2.90" fill="rgb(76,0,0)"/>
<rect x="93.00" y="396.90" width="12.10" height="2.90" fill="rgb(243,0,0)"/>
<rect x="104.50" y="396.90" width="11.50" height="2.90" fill="rgb(255,0,0)"/>
<rect x="46.80" y="399.20" width="12.20" height="2.90" fill="rgb(0,255,0)"/>
<rect x="58.40" y="399.20" width="12.20" height="2.90" fill="rgb(0,200,0)"/>
<rect x="70.00" y="399.20" width="12.10" height="2.90" fill="rgb(0,0,0)"/>
<rect x="81.50" y="399.20" width="12.10" height="2.90" fill="rgb(125,0,0)"/>
<rect x="93.00" y="399.20" width="12.10" height="2.90" fill="rgb(225,0,0)"/>
<rect x="104.50" y="399.20" width="11.50" height="2.90" fill="rgb(253,0,0)"/>
<rect x="46.80" y="401.50" width="12.20" height="2.30" fill="rgb(0,255,0)"/>
<rect x="58.40" y="401.50" width="12.20" height="2.30" fill="rgb(0,205,0)"/>
<rect x="70.00" y="401.50" width="12.10" height="2.30" fill="rgb(0,0,0)"/>
<rect x="81.50" y="401.50" width="12.10" height="2.30" fill="rgb(130,0,0)"/>
<rect x="93.00" y="401.50" width="12.10" height="2.30" fill="rgb(222,0,0)"/>
<rect x="104.50" y="401.50" width="11.50" height="2.30" fill="rgb(239,0,0)"/>
<line x1="46.0" y1="281.0" x2="46.8" y2="281.0" stroke="#bbb" stroke-width="0.5"/>
<line x1="45.5" y1="283.33585827982404" x2="46.8" y2="283.33585827982404" stroke="#bbb" stroke-width="0.5"/>
<line x1="44.0" y1="285.1021055748414" x2="46.8" y2="285.1021055748414" stroke="#bbb" stroke-width="0.5"/>
<line x1="46.0" y1="287.10809618886327" x2="46.8" y2="287.10809618886327" stroke="#bbb" stroke-width="0.5"/>
<line x1="44.0" y1="289.7860537529016" x2="46.8" y2="289.7860537529016" stroke="#bbb" stroke-width="0.5"/>
<line x1="44.0" y1="291.786882563423" x2="46.8" y2="291.786882563423" stroke="#bbb" stroke-width="0.5"/>
<line x1="44.8" y1="294.2607132458707" x2="46.8" y2="294.2607132458707" stroke="#bbb" stroke-width="0.5"/>
<line x1="46.0" y1="296.7048897166232" x2="46.8" y2="296.7048897166232" stroke="#bbb" stroke-width="0.5"/>
<line x1="46.0" y1="299.44641515259303" x2="46.8" y2="299.44641515259303" stroke="#bbb" stroke-width="0.5"/>
<line x1="44.8" y1="301.235003746509" x2="46.8" y2="301.235003746509" stroke="#bbb" stroke-width="0.5"/>
<line x1="44.8" y1="302.89660457567174" x2="46.8" y2="302.89660457567174" stroke="#bbb" stroke-width="0.5"/>
<line x1="44.0" y1="305.10412743767455" x2="46.8" y2="305.10412743767455" stroke="#bbb" stroke-width="0.5"/>
<line x1="46.0" y1="307.63317879835716" x2="46.8" y2="307.63317879835716" stroke="#bbb" stroke-width="0.5"/>
<line x1="44.0" y1="310.1806927250965" x2="46.8" y2="310.1806927250965" stroke="#bbb" stroke-width="0.5"/>
<line x1="44.8" y1="312.8834392352253" x2="46.8" y2="312.8834392352253" stroke="#bbb" stroke-width="0.5"/>
<line x1="46.0" y1="315.29252243673176" x2="46.8" y2="315.29252243673176" stroke="#bbb" stroke-width="0.5"/>
<line x1="45.5" y1="317.96001370364735" x2="46.8" y2="317.96001370364735" stroke="#bbb" stroke-width="0.5"/>
<line x1="46.0" y1="320.6536688387713" x2="46.8" y2="320.6536688387713" stroke="#bbb" stroke-width="0.5"/>
<line x1="44.0" y1="322.59109013687277" x2="46.8" y2="322.59109013687277" stroke="#bbb" stroke-width="0.5"/>
<line x1="44.0" y1="324.4304700021806" x2="46.8" y2="324.4304700021806" stroke="#bbb" stroke-width="0.5"/>
<line x1="44.0" y1="327.0857178282608" x2="46.8" y2="327.0857178282608" stroke="#bbb" stroke-width="0.5"/>
<line x1="46.0" y1="329.7606930778387" x2="46.8" y2="329.7606930778387" stroke="#bbb" stroke-width="0.5"/>
<line x1="44.8" y1="331.5276644605474" x2="46.8" y2="331.5276644605474" stroke="#bbb" stroke-width="0.5"/>
<line x1="44.0" y1="333.6373348826505" x2="46.8" y2="333.6373348826505" stroke="#bbb" stroke-width="0.5"/>
<line x1="44.0" y1="336.39414995492035" x2="46.8" y2="336.39414995492035" stroke="#bbb" stroke-width="0.5"/>
<line x1="44.8" y1="338.13962888388295" x2="46.8" y2="338.13962888388295" stroke="#bbb" stroke-width="0.5"/>
<line x1="44.8" y1="340.81399302319124" x2="46.8" y2="340.81399302319124" stroke="#bbb" stroke-width="0.5"/>
<line x1="44.0" y1="342.8102530612833" x2="46.8" y2="342.8102530612833" stroke="#bbb" stroke-width="0.5"/>
<line x1="44.0" y1="344.57007313399174" x2="46.8" y2="344.57007313399174" stroke="#bbb" stroke-width="0.5"/>
<line x1="46.0" y1="346.77103720113644" x2="46.8" y2="346.77103720113644" stroke="#bbb" stroke-width="0.5"/>
<line x1="44.8" y1="349.01614237163307" x2="46.8" y2="349.01614237163307" stroke="#bbb" stroke-width="0.5"/>
<line x1="46.0" y1="351.1202712813594" x2="46.8" y2="351.1202712813594" stroke="#bbb" stroke-width="0.5"/>
<line x1="44.8" y1="357.9097631104442" x2="46.8" y2="357.9097631104442" stroke="#bbb" stroke-width="0.5"/>
<line x1="44.0" y1="359.71682934187123" x2="46.8" y2="359.71682934187123" stroke="#bbb" stroke-width="0.5"/>
<line x1="44.8" y1="361.38183718587226" x2="46.8" y2="361.38183718587226" stroke="#bbb" stroke-width="0.5"/>
<line x1="44.0" y1="363.8760168751751" x2="46.8" y2="363.8760168751751" stroke="#bbb" stroke-width="0.5"/>
<line x1="46.0" y1="365.621619624779" x2="46.8" y2="365.621619624779" stroke="#bbb" stroke-width="0.5"/>
<line x1="44.8" y1="368.3627269685672" x2="46.8" y2="368.3627269685672" stroke="#bbb" stroke-width="0.5"/>
<line x1="44.0" y1="370.1568146313635" x2="46.8" y2="370.1568146313635" stroke="#bbb" stroke-width="0.5"/>
<line x1="44.0" y1="372.6400094865106" x2="46.8" y2="372.6400094865106" stroke="#bbb" stroke-width="0.5"/>
<line x1="44.0" y1="375.28085460062726" x2="46.8" y2="375.28085460062726" stroke="#bbb" stroke-width="0.5"/>
<line x1="45.5" y1="377.9176978726133" x2="46.8" y2="377.9176978726133" stroke="#bbb" stroke-width="0.5"/>
<line x1="46.0" y1="380.05925787765256" x2="46.8" y2="380.05925787765256" stroke="#bbb" stroke-width="0.5"/>
<line x1="44.0" y1="381.89778449004825" x2="46.8" y2="381.89778449004825" stroke="#bbb" stroke-width="0.5"/>
<line x1="45.5" y1="383.952517576867" x2="46.8" y2="383.952517576867" stroke="#bbb" stroke-width="0.5"/>
<line x1="44.0" y1="385.55325550114696" x2="46.8" y2="385.55325550114696" stroke="#bbb" stroke-width="0.5"/>
<line x1="46.0" y1="387.4093681442253" x2="46.8" y2="387.4093681442253" stroke="#bbb" stroke-width="0.5"/>
<line x1="44.0" y1="389.3329329268869" x2="46.8" y2="389.3329329268869" stroke="#bbb" stroke-width="0.5"/>
<line x1="45.5" y1="391.3015171600771" x2="46.8" y2="391.3015171600771" stroke="#bbb" stroke-width="0.5"/>
<line x1="44.0" y1="393.0252004831997" x2="46.8" y2="393.0252004831997" stroke="#bbb" stroke-width="0.5"/>
<line x1="46.0" y1="394.6556697909327" x2="46.8" y2="394.6556697909327" stroke="#bbb" stroke-width="0.5"/>
<line x1="44.8" y1="396.85246651226663" x2="46.8" y2="396.85246651226663" stroke="#bbb" stroke-width="0.5"/>
<line x1="44.0" y1="399.13169826684634" x2="46.8" y2="399.13169826684634" stroke="#bbb" stroke-width="0.5"/>
<line x1="44.8" y1="401.2417066911986" x2="46.8" y2="401.2417066911986" stroke="#bbb" stroke-width="0.5"/>
<line x1="42.6" y1="280.8" x2="42.6" y2="352.2" stroke="#999" stroke-width="1.0"/>
<line x1="42.6" y1="280.8" x2="46.8" y2="280.8" stroke="#999" stroke-width="0.8"/>
<line x1="42.6" y1="352.2" x2="46.8" y2="352.2" stroke="#999" stroke-width="0.8"/>
<line x1="44.2" y1="284" x2="44.2" y2="346" stroke="#777" stroke-width="0.8"/>
<line x1="45.3" y1="290" x2="45.3" y2="322" stroke="#444" stroke-width="0.8"/>
<line x1="42.8" y1="356.3" x2="42.8" y2="389.6" stroke="#999" stroke-width="1.0"/>
<line x1="42.8" y1="356.3" x2="46.8" y2="356.3" stroke="#999" stroke-width="0.8"/>
<line x1="42.8" y1="389.6" x2="46.2" y2="389.6" stroke="#999" stroke-width="0.8"/>
<line x1="44.3" y1="358" x2="44.3" y2="399" stroke="#777" stroke-width="0.8"/>
<line x1="45.6" y1="362" x2="45.6" y2="385" stroke="#444" stroke-width="0.8"/>
<line x1="40.2" y1="365" x2="41.5" y2="365" stroke="#999" stroke-width="0.6"/>
<rect x="173.70" y="278.80" width="12.10" height="2.60" fill="rgb(0,49,0)"/>
<rect x="185.20" y="278.80" width="12.20" height="2.60" fill="rgb(0,48,0)"/>
<rect x="196.80" y="278.80" width="12.10" height="2.60" fill="rgb(0,52,0)"/>
<rect x="208.30" y="278.80" width="11.90" height="2.60" fill="rgb(57,0,0)"/>
<rect x="219.60" y="278.80" width="12.00" height="2.60" fill="rgb(32,0,0)"/>
<rect x="231.00" y="278.80" width="11.40" height="2.60" fill="rgb(31,0,0)"/>
<rect x="173.70" y="280.80" width="12.10" height="3.00" fill="rgb(0,199,0)"/>
<rect x="185.20" y="280.80" width="12.20" height="3.00" fill="rgb(0,255,0)"/>
<rect x="196.80" y="280.80" width="12.10" height="3.00" fill="rgb(0,249,0)"/>
<rect x="208.30" y="280.80" width="11.90" height="3.00" fill="rgb(195,0,0)"/>
<rect x="219.60" y="280.80" width="12.00" height="3.00" fill="rgb(170,0,0)"/>
<rect x="231.00" y="280.80" width="11.40" height="3.00" fill="rgb(230,0,0)"/>
<rect x="173.70" y="283.20" width="12.10" height="3.00" fill="rgb(0,102,0)"/>
<rect x="185.20" y="283.20" width="12.20" height="3.00" fill="rgb(0,43,0)"/>
<rect x="196.80" y="283.20" width="12.10" height="3.00" fill="rgb(0,42,0)"/>
<rect x="208.30" y="283.20" width="11.90" height="3.00" fill="rgb(39,0,0)"/>
<rect x="219.60" y="283.20" width="12.00" height="3.00" fill="rgb(59,0,0)"/>
<rect x="231.00" y="283.20" width="11.40" height="3.00" fill="rgb(65,0,0)"/>
<rect x="173.70" y="285.60" width="12.10" height="3.00" fill="rgb(0,94,0)"/>
<rect x="185.20" y="285.60" width="12.20" height="3.00" fill="rgb(0,76,0)"/>
<rect x="196.80" y="285.60" width="12.10" height="3.00" fill="rgb(0,91,0)"/>
<rect x="208.30" y="285.60" width="11.90" height="3.00" fill="rgb(110,0,0)"/>
<rect x="219.60" y="285.60" width="12.00" height="3.00" fill="rgb(60,0,0)"/>
<rect x="231.00" y="285.60" width="11.40" height="3.00" fill="rgb(101,0,0)"/>
<rect x="173.70" y="288.00" width="12.10" height="1.90" fill="rgb(0,177,0)"/>
<rect x="185.20" y="288.00" width="12.20" height="1.90" fill="rgb(0,219,0)"/>
<rect x="196.80" y="288.00" width="12.10" height="1.90" fill="rgb(0,255,0)"/>
<rect x="208.30" y="288.00" width="11.90" height="1.90" fill="rgb(213,0,0)"/>
<rect x="219.60" y="288.00" width="12.00" height="1.90" fill="rgb(207,0,0)"/>
<rect x="231.00" y="288.00" width="11.40" height="1.90" fill="rgb(48,0,0)"/>
<rect x="173.70" y="289.30" width="12.10" height="2.60" fill="rgb(0,72,0)"/>
<rect x="185.20" y="289.30" width="12.20" height="2.60" fill="rgb(0,84,0)"/>
<rect x="196.80" y="289.30" width="12.10" height="2.60" fill="rgb(0,43,0)"/>
<rect x="208.30" y="289.30" width="11.90" height="2.60" fill="rgb(37,0,0)"/>
<rect x="219.60" y="289.30" width="12.00" height="2.60" fill="rgb(35,0,0)"/>
<rect x="231.00" y="289.30" width="11.40" height="2.60" fill="rgb(62,0,0)"/>
<rect x="173.70" y="291.30" width="12.10" height="1.90" fill="rgb(0,83,0)"/>
<rect x="185.20" y="291.30" width="12.20" height="1.90" fill="rgb(0,255,0)"/>
<rect x="196.80" y="291.30" width="12.10" height="1.90" fill="rgb(0,252,0)"/>
<rect x="208.30" y="291.30" width="11.90" height="1.90" fill="rgb(228,0,0)"/>
<rect x="219.60" y="291.30" width="12.00" height="1.90" fill="rgb(46,0,0)"/>
<rect x="231.00" y="291.30" width="11.40" height="1.90" fill="rgb(242,0,0)"/>
<rect x="173.70" y="292.60" width="12.10" height="1.60" fill="rgb(0,192,0)"/>
<rect x="185.20" y="292.60" width="12.20" height="1.60" fill="rgb(0,94,0)"/>
<rect x="196.80" y="292.60" width="12.10" height="1.60" fill="rgb(0,237,0)"/>
<rect x="208.30" y="292.60" width="11.90" height="1.60" fill="rgb(240,0,0)"/>
<rect x="219.60" y="292.60" width="12.00" height="1.60" fill="rgb(51,0,0)"/>
<rect x="231.00" y="292.60" width="11.40" height="1.60" fill="rgb(203,0,0)"/>
<rect x="173.70" y="293.60" width="12.10" height="1.90" fill="rgb(0,110,0)"/>
<rect x="185.20" y="293.60" width="12.20" height="1.90" fill="rgb(0,73,0)"/>
<rect x="196.80" y="293.60" width="12.10" height="1.90" fill="rgb(0,37,0)"/>
<rect x="208.30" y="293.60" width="11.90" height="1.90" fill="rgb(61,0,0)"/>
<rect x="219.60" y="293.60" width="12.00" height="1.90" fill="rgb(58,0,0)"/>
<rect x="231.00" y="293.60" width="11.40" height="1.90" fill="rgb(85,0,0)"/>
<rect x="173.70" y="294.90" width="12.10" height="3.00" fill="rgb(0,53,0)"/>
<rect x="185.20" y="294.90" width="12.20" height="3.00" fill="rgb(0,254,0)"/>
<rect x="196.80" y="294.90" width="12.10" height="3.00" fill="rgb(0,227,0)"/>
<rect x="208.30" y="294.90" width="11.90" height="3.00" fill="rgb(195,0,0)"/>
<rect x="219.60" y="294.90" width="12.00" height="3.00" fill="rgb(46,0,0)"/>
<rect x="231.00" y="294.90" width="11.40" height="3.00" fill="rgb(217,0,0)"/>
<rect x="173.70" y="297.30" width="12.10" height="2.20" fill="rgb(0,187,0)"/>
<rect x="185.20" y="297.30" width="12.20" height="2.20" fill="rgb(0,211,0)"/>
<rect x="196.80" y="297.30" width="12.10" height="2.20" fill="rgb(0,227,0)"/>
<rect x="208.30" y="297.30" width="11.90" height="2.20" fill="rgb(54,0,0)"/>
<rect x="219.60" y="297.30" width="12.00" height="2.20" fill="rgb(209,0,0)"/>
<rect x="231.00" y="297.30" width="11.40" height="2.20" fill="rgb(249,0,0)"/>
<rect x="173.70" y="298.90" width="12.10" height="1.90" fill="rgb(0,207,0)"/>
<rect x="185.20" y="298.90" width="12.20" height="1.90" fill="rgb(0,255,0)"/>
<rect x="196.80" y="298.90" width="12.10" height="1.90" fill="rgb(0,215,0)"/>
<rect x="208.30" y="298.90" width="11.90" height="1.90" fill="rgb(67,0,0)"/>
<rect x="219.60" y="298.90" width="12.00" height="1.90" fill="rgb(85,0,0)"/>
<rect x="231.00" y="298.90" width="11.40" height="1.90" fill="rgb(224,0,0)"/>
<rect x="173.70" y="300.20" width="12.10" height="3.00" fill="rgb(0,43,0)"/>
<rect x="185.20" y="300.20" width="12.20" height="3.00" fill="rgb(0,208,0)"/>
<rect x="196.80" y="300.20" width="12.10" height="3.00" fill="rgb(0,229,0)"/>
<rect x="208.30" y="300.20" width="11.90" height="3.00" fill="rgb(62,0,0)"/>
<rect x="219.60" y="300.20" width="12.00" height="3.00" fill="rgb(206,0,0)"/>
<rect x="231.00" y="300.20" width="11.40" height="3.00" fill="rgb(223,0,0)"/>
<rect x="173.70" y="302.60" width="12.10" height="2.60" fill="rgb(0,71,0)"/>
<rect x="185.20" y="302.60" width="12.20" height="2.60" fill="rgb(0,229,0)"/>
<rect x="196.80" y="302.60" width="12.10" height="2.60" fill="rgb(0,219,0)"/>
<rect x="208.30" y="302.60" width="11.90" height="2.60" fill="rgb(246,0,0)"/>
<rect x="219.60" y="302.60" width="12.00" height="2.60" fill="rgb(201,0,0)"/>
<rect x="231.00" y="302.60" width="11.40" height="2.60" fill="rgb(223,0,0)"/>
<rect x="173.70" y="304.60" width="12.10" height="1.60" fill="rgb(0,74,0)"/>
<rect x="185.20" y="304.60" width="12.20" height="1.60" fill="rgb(0,244,0)"/>
<rect x="196.80" y="304.60" width="12.10" height="1.60" fill="rgb(0,44,0)"/>
<rect x="208.30" y="304.60" width="11.90" height="1.60" fill="rgb(212,0,0)"/>
<rect x="219.60" y="304.60" width="12.00" height="1.60" fill="rgb(185,0,0)"/>
<rect x="231.00" y="304.60" width="11.40" height="1.60" fill="rgb(104,0,0)"/>
<rect x="173.70" y="305.60" width="12.10" height="2.20" fill="rgb(0,187,0)"/>
<rect x="185.20" y="305.60" width="12.20" height="2.20" fill="rgb(0,205,0)"/>
<rect x="196.80" y="305.60" width="12.10" height="2.20" fill="rgb(0,205,0)"/>
<rect x="208.30" y="305.60" width="11.90" height="2.20" fill="rgb(241,0,0)"/>
<rect x="219.60" y="305.60" width="12.00" height="2.20" fill="rgb(171,0,0)"/>
<rect x="231.00" y="305.60" width="11.40" height="2.20" fill="rgb(239,0,0)"/>
<rect x="173.70" y="307.20" width="12.10" height="3.00" fill="rgb(0,83,0)"/>
<rect x="185.20" y="307.20" width="12.20" height="3.00" fill="rgb(0,83,0)"/>
<rect x="196.80" y="307.20" width="12.10" height="3.00" fill="rgb(0,109,0)"/>
<rect x="208.30" y="307.20" width="11.90" height="3.00" fill="rgb(36,0,0)"/>
<rect x="219.60" y="307.20" width="12.00" height="3.00" fill="rgb(44,0,0)"/>
<rect x="231.00" y="307.20" width="11.40" height="3.00" fill="rgb(45,0,0)"/>
<rect x="173.70" y="309.60" width="12.10" height="1.60" fill="rgb(0,215,0)"/>
<rect x="185.20" y="309.60" width="12.20" height="1.60" fill="rgb(0,215,0)"/>
<rect x="196.80" y="309.60" width="12.10" height="1.60" fill="rgb(0,204,0)"/>
<rect x="208.30" y="309.60" width="11.90" height="1.60" fill="rgb(203,0,0)"/>
<rect x="219.60" y="309.60" width="12.00" height="1.60" fill="rgb(100,0,0)"/>
<rect x="231.00" y="309.60" width="11.40" height="1.60" fill="rgb(46,0,0)"/>
<rect x="173.70" y="310.60" width="12.10" height="2.60" fill="rgb(0,49,0)"/>
<rect x="185.20" y="310.60" width="12.20" height="2.60" fill="rgb(0,98,0)"/>
<rect x="196.80" y="310.60" width="12.10" height="2.60" fill="rgb(0,97,0)"/>
<rect x="208.30" y="310.60" width="11.90" height="2.60" fill="rgb(67,0,0)"/>
<rect x="219.60" y="310.60" width="12.00" height="2.60" fill="rgb(36,0,0)"/>
<rect x="231.00" y="310.60" width="11.40" height="2.60" fill="rgb(82,0,0)"/>
<rect x="173.70" y="312.60" width="12.10" height="2.20" fill="rgb(0,153,0)"/>
<rect x="185.20" y="312.60" width="12.20" height="2.20" fill="rgb(0,235,0)"/>
<rect x="196.80" y="312.60" width="12.10" height="2.20" fill="rgb(0,208,0)"/>
<rect x="208.30" y="312.60" width="11.90" height="2.20" fill="rgb(215,0,0)"/>
<rect x="219.60" y="312.60" width="12.00" height="2.20" fill="rgb(90,0,0)"/>
<rect x="231.00" y="312.60" width="11.40" height="2.20" fill="rgb(220,0,0)"/>
<rect x="173.70" y="314.20" width="12.10" height="1.90" fill="rgb(0,75,0)"/>
<rect x="185.20" y="314.20" width="12.20" height="1.90" fill="rgb(0,225,0)"/>
<rect x="196.80" y="314.20" width="12.10" height="1.90" fill="rgb(0,79,0)"/>
<rect x="208.30" y="314.20" width="11.90" height="1.90" fill="rgb(235,0,0)"/>
<rect x="219.60" y="314.20" width="12.00" height="1.90" fill="rgb(176,0,0)"/>
<rect x="231.00" y="314.20" width="11.40" height="1.90" fill="rgb(231,0,0)"/>
<rect x="173.70" y="315.50" width="12.10" height="2.20" fill="rgb(0,211,0)"/>
<rect x="185.20" y="315.50" width="12.20" height="2.20" fill="rgb(0,207,0)"/>
<rect x="196.80" y="315.50" width="12.10" height="2.20" fill="rgb(0,220,0)"/>
<rect x="208.30" y="315.50" width="11.90" height="2.20" fill="rgb(201,0,0)"/>
<rect x="219.60" y="315.50" width="12.00" height="2.20" fill="rgb(191,0,0)"/>
<rect x="231.00" y="315.50" width="11.40" height="2.20" fill="rgb(194,0,0)"/>
<rect x="173.70" y="317.10" width="12.10" height="2.20" fill="rgb(0,107,0)"/>
<rect x="185.20" y="317.10" width="12.20" height="2.20" fill="rgb(0,52,0)"/>
<rect x="196.80" y="317.10" width="12.10" height="2.20" fill="rgb(0,204,0)"/>
<rect x="208.30" y="317.10" width="11.90" height="2.20" fill="rgb(69,0,0)"/>
<rect x="219.60" y="317.10" width="12.00" height="2.20" fill="rgb(53,0,0)"/>
<rect x="231.00" y="317.10" width="11.40" height="2.20" fill="rgb(230,0,0)"/>
<rect x="173.70" y="318.70" width="12.10" height="1.60" fill="rgb(0,188,0)"/>
<rect x="185.20" y="318.70" width="12.20" height="1.60" fill="rgb(0,255,0)"/>
<rect x="196.80" y="318.70" width="12.10" height="1.60" fill="rgb(0,216,0)"/>
<rect x="208.30" y="318.70" width="11.90" height="1.60" fill="rgb(216,0,0)"/>
<rect x="219.60" y="318.70" width="12.00" height="1.60" fill="rgb(207,0,0)"/>
<rect x="231.00" y="318.70" width="11.40" height="1.60" fill="rgb(227,0,0)"/>
<rect x="173.70" y="319.70" width="12.10" height="2.20" fill="rgb(0,205,0)"/>
<rect x="185.20" y="319.70" width="12.20" height="2.20" fill="rgb(0,252,0)"/>
<rect x="196.80" y="319.70" width="12.10" height="2.20" fill="rgb(0,224,0)"/>
<rect x="208.30" y="319.70" width="11.90" height="2.20" fill="rgb(218,0,0)"/>
<rect x="219.60" y="319.70" width="12.00" height="2.20" fill="rgb(227,0,0)"/>
<rect x="231.00" y="319.70" width="11.40" height="2.20" fill="rgb(206,0,0)"/>
<rect x="173.70" y="321.30" width="12.10" height="1.60" fill="rgb(0,99,0)"/>
<rect x="185.20" y="321.30" width="12.20" height="1.60" fill="rgb(0,244,0)"/>
<rect x="196.80" y="321.30" width="12.10" height="1.60" fill="rgb(0,193,0)"/>
<rect x="208.30" y="321.30" width="11.90" height="1.60" fill="rgb(50,0,0)"/>
<rect x="219.60" y="321.30" width="12.00" height="1.60" fill="rgb(84,0,0)"/>
<rect x="231.00" y="321.30" width="11.40" height="1.60" fill="rgb(227,0,0)"/>
<rect x="173.70" y="322.30" width="12.10" height="2.20" fill="rgb(0,169,0)"/>
<rect x="185.20" y="322.30" width="12.20" height="2.20" fill="rgb(0,255,0)"/>
<rect x="196.80" y="322.30" width="12.10" height="2.20" fill="rgb(0,245,0)"/>
<rect x="208.30" y="322.30" width="11.90" height="2.20" fill="rgb(226,0,0)"/>
<rect x="219.60" y="322.30" width="12.00" height="2.20" fill="rgb(199,0,0)"/>
<rect x="231.00" y="322.30" width="11.40" height="2.20" fill="rgb(220,0,0)"/>
<rect x="173.70" y="323.90" width="12.10" height="1.60" fill="rgb(0,103,0)"/>
<rect x="185.20" y="323.90" width="12.20" height="1.60" fill="rgb(0,242,0)"/>
<rect x="196.80" y="323.90" width="12.10" height="1.60" fill="rgb(0,101,0)"/>
<rect x="208.30" y="323.90" width="11.90" height="1.60" fill="rgb(203,0,0)"/>
<rect x="219.60" y="323.90" width="12.00" height="1.60" fill="rgb(194,0,0)"/>
<rect x="231.00" y="323.90" width="11.40" height="1.60" fill="rgb(198,0,0)"/>
<rect x="173.70" y="324.90" width="12.10" height="3.00" fill="rgb(0,63,0)"/>
<rect x="185.20" y="324.90" width="12.20" height="3.00" fill="rgb(0,201,0)"/>
<rect x="196.80" y="324.90" width="12.10" height="3.00" fill="rgb(0,210,0)"/>
<rect x="208.30" y="324.90" width="11.90" height="3.00" fill="rgb(100,0,0)"/>
<rect x="219.60" y="324.90" width="12.00" height="3.00" fill="rgb(187,0,0)"/>
<rect x="231.00" y="324.90" width="11.40" height="3.00" fill="rgb(213,0,0)"/>
<rect x="173.70" y="327.30" width="12.10" height="3.00" fill="rgb(0,216,0)"/>
<rect x="185.20" y="327.30" width="12.20" height="3.00" fill="rgb(0,234,0)"/>
<rect x="196.80" y="327.30" width="12.10" height="3.00" fill="rgb(0,199,0)"/>
<rect x="208.30" y="327.30" width="11.90" height="3.00" fill="rgb(209,0,0)"/>
<rect x="219.60" y="327.30" width="12.00" height="3.00" fill="rgb(40,0,0)"/>
<rect x="231.00" y="327.30" width="11.40" height="3.00" fill="rgb(187,0,0)"/>
<rect x="173.70" y="329.70" width="12.10" height="3.00" fill="rgb(0,56,0)"/>
<rect x="185.20" y="329.70" width="12.20" height="3.00" fill="rgb(0,103,0)"/>
<rect x="196.80" y="329.70" width="12.10" height="3.00" fill="rgb(0,248,0)"/>
<rect x="208.30" y="329.70" width="11.90" height="3.00" fill="rgb(221,0,0)"/>
<rect x="219.60" y="329.70" width="12.00" height="3.00" fill="rgb(98,0,0)"/>
<rect x="231.00" y="329.70" width="11.40" height="3.00" fill="rgb(90,0,0)"/>
<rect x="173.70" y="332.10" width="12.10" height="2.60" fill="rgb(0,88,0)"/>
<rect x="185.20" y="332.10" width="12.20" height="2.60" fill="rgb(0,218,0)"/>
<rect x="196.80" y="332.10" width="12.10" height="2.60" fill="rgb(0,251,0)"/>
<rect x="208.30" y="332.10" width="11.90" height="2.60" fill="rgb(59,0,0)"/>
<rect x="219.60" y="332.10" width="12.00" height="2.60" fill="rgb(36,0,0)"/>
<rect x="231.00" y="332.10" width="11.40" height="2.60" fill="rgb(247,0,0)"/>
<rect x="173.70" y="334.10" width="12.10" height="2.20" fill="rgb(0,98,0)"/>
<rect x="185.20" y="334.10" width="12.20" height="2.20" fill="rgb(0,109,0)"/>
<rect x="196.80" y="334.10" width="12.10" height="2.20" fill="rgb(0,100,0)"/>
<rect x="208.30" y="334.10" width="11.90" height="2.20" fill="rgb(208,0,0)"/>
<rect x="219.60" y="334.10" width="12.00" height="2.20" fill="rgb(171,0,0)"/>
<rect x="231.00" y="334.10" width="11.40" height="2.20" fill="rgb(87,0,0)"/>
<rect x="173.70" y="335.70" width="12.10" height="3.00" fill="rgb(0,207,0)"/>
<rect x="185.20" y="335.70" width="12.20" height="3.00" fill="rgb(0,219,0)"/>
<rect x="196.80" y="335.70" width="12.10" height="3.00" fill="rgb(0,196,0)"/>
<rect x="208.30" y="335.70" width="11.90" height="3.00" fill="rgb(79,0,0)"/>
<rect x="219.60" y="335.70" width="12.00" height="3.00" fill="rgb(197,0,0)"/>
<rect x="231.00" y="335.70" width="11.40" height="3.00" fill="rgb(200,0,0)"/>
<rect x="173.70" y="338.10" width="12.10" height="1.90" fill="rgb(0,47,0)"/>
<rect x="185.20" y="338.10" width="12.20" height="1.90" fill="rgb(0,255,0)"/>
<rect x="196.80" y="338.10" width="12.10" height="1.90" fill="rgb(0,222,0)"/>
<rect x="208.30" y="338.10" width="11.90" height="1.90" fill="rgb(88,0,0)"/>
<rect x="219.60" y="338.10" width="12.00" height="1.90" fill="rgb(188,0,0)"/>
<rect x="231.00" y="338.10" width="11.40" height="1.90" fill="rgb(229,0,0)"/>
<rect x="173.70" y="339.40" width="12.10" height="1.60" fill="rgb(0,107,0)"/>
<rect x="185.20" y="339.40" width="12.20" height="1.60" fill="rgb(0,80,0)"/>
<rect x="196.80" y="339.40" width="12.10" height="1.60" fill="rgb(0,81,0)"/>
<rect x="208.30" y="339.40" width="11.90" height="1.60" fill="rgb(49,0,0)"/>
<rect x="219.60" y="339.40" width="12.00" height="1.60" fill="rgb(99,0,0)"/>
<rect x="231.00" y="339.40" width="11.40" height="1.60" fill="rgb(78,0,0)"/>
<rect x="173.70" y="340.40" width="12.10" height="3.00" fill="rgb(0,219,0)"/>
<rect x="185.20" y="340.40" width="12.20" height="3.00" fill="rgb(0,235,0)"/>
<rect x="196.80" y="340.40" width="12.10" height="3.00" fill="rgb(0,225,0)"/>
<rect x="208.30" y="340.40" width="11.90" height="3.00" fill="rgb(235,0,0)"/>
<rect x="219.60" y="340.40" width="12.00" height="3.00" fill="rgb(49,0,0)"/>
<rect x="231.00" y="340.40" width="11.40" height="3.00" fill="rgb(205,0,0)"/>
<rect x="173.70" y="342.80" width="12.10" height="1.90" fill="rgb(0,196,0)"/>
<rect x="185.20" y="342.80" width="12.20" height="1.90" fill="rgb(0,244,0)"/>
<rect x="196.80" y="342.80" width="12.10" height="1.90" fill="rgb(0,226,0)"/>
<rect x="208.30" y="342.80" width="11.90" height="1.90" fill="rgb(195,0,0)"/>
<rect x="219.60" y="342.80" width="12.00" height="1.90" fill="rgb(178,0,0)"/>
<rect x="231.00" y="342.80" width="11.40" height="1.90" fill="rgb(40,0,0)"/>
<rect x="173.70" y="344.10" width="12.10" height="1.90" fill="rgb(0,202,0)"/>
<rect x="185.20" y="344.10" width="12.20" height="1.90" fill="rgb(0,227,0)"/>
<rect x="196.80" y="344.10" width="12.10" height="1.90" fill="rgb(0,233,0)"/>
<rect x="208.30" y="344.10" width="11.90" height="1.90" fill="rgb(255,0,0)"/>
<rect x="219.60" y="344.10" width="12.00" height="1.90" fill="rgb(209,0,0)"/>
<rect x="231.00" y="344.10" width="11.40" height="1.90" fill="rgb(239,0,0)"/>
<rect x="173.70" y="345.40" width="12.10" height="2.60" fill="rgb(0,109,0)"/>
<rect x="185.20" y="345.40" width="12.20" height="2.60" fill="rgb(0,216,0)"/>
<rect x="196.80" y="345.40" width="12.10" height="2.60" fill="rgb(0,222,0)"/>
<rect x="208.30" y="345.40" width="11.90" height="2.60" fill="rgb(255,0,0)"/>
<rect x="219.60" y="345.40" width="12.00" height="2.60" fill="rgb(213,0,0)"/>
<rect x="231.00" y="345.40" width="11.40" height="2.60" fill="rgb(199,0,0)"/>
<rect x="173.70" y="347.40" width="12.10" height="2.70" fill="rgb(0,192,0)"/>
<rect x="185.20" y="347.40" width="12.20" height="2.70" fill="rgb(0,217,0)"/>
<rect x="196.80" y="347.40" width="12.10" height="2.70" fill="rgb(0,78,0)"/>
<rect x="208.30" y="347.40" width="11.90" height="2.70" fill="rgb(252,0,0)"/>
<rect x="219.60" y="347.40" width="12.00" height="2.70" fill="rgb(232,0,0)"/>
<rect x="231.00" y="347.40" width="11.40" height="2.70" fill="rgb(236,0,0)"/>
<rect x="173.70" y="349.50" width="12.10" height="2.20" fill="rgb(235,0,0)"/>
<rect x="185.20" y="349.50" width="12.20" height="2.20" fill="rgb(218,0,0)"/>
<rect x="196.80" y="349.50" width="12.10" height="2.20" fill="rgb(225,0,0)"/>
<rect x="208.30" y="349.50" width="11.90" height="2.20" fill="rgb(0,223,0)"/>
<rect x="219.60" y="349.50" width="12.00" height="2.20" fill="rgb(0,159,0)"/>
<rect x="231.00" y="349.50" width="11.40" height="2.20" fill="rgb(0,48,0)"/>
<rect x="173.70" y="351.10" width="12.10" height="1.90" fill="rgb(243,0,0)"/>
<rect x="185.20" y="351.10" width="12.20" height="1.90" fill="rgb(244,0,0)"/>
<rect x="196.80" y="351.10" width="12.10" height="1.90" fill="rgb(67,0,0)"/>
<rect x="208.30" y="351.10" width="11.90" height="1.90" fill="rgb(0,220,0)"/>
<rect x="219.60" y="351.10" width="12.00" height="1.90" fill="rgb(0,218,0)"/>
<rect x="231.00" y="351.10" width="11.40" height="1.90" fill="rgb(0,220,0)"/>
<rect x="173.70" y="352.40" width="12.10" height="2.60" fill="rgb(40,0,0)"/>
<rect x="185.20" y="352.40" width="12.20" height="2.60" fill="rgb(231,0,0)"/>
<rect x="196.80" y="352.40" width="12.10" height="2.60" fill="rgb(186,0,0)"/>
<rect x="208.30" y="352.40" width="11.90" height="2.60" fill="rgb(0,255,0)"/>
<rect x="219.60" y="352.40" width="12.00" height="2.60" fill="rgb(0,175,0)"/>
<rect x="231.00" y="352.40" width="11.40" height="2.60" fill="rgb(0,201,0)"/>
<rect x="173.70" y="354.40" width="12.10" height="2.20" fill="rgb(218,0,0)"/>
<rect x="185.20" y="354.40" width="12.20" height="2.20" fill="rgb(253,0,0)"/>
<rect x="196.80" y="354.40" width="12.10" height="2.20" fill="rgb(222,0,0)"/>
<rect x="208.30" y="354.40" width="11.90" height="2.20" fill="rgb(0,255,0)"/>
<rect x="219.60" y="354.40" width="12.00" height="2.20" fill="rgb(0,66,0)"/>
<rect x="231.00" y="354.40" width="11.40" height="2.20" fill="rgb(0,199,0)"/>
<rect x="173.70" y="356.00" width="12.10" height="2.60" fill="rgb(75,0,0)"/>
<rect x="185.20" y="356.00" width="12.20" height="2.60" fill="rgb(85,0,0)"/>
<rect x="196.80" y="356.00" width="12.10" height="2.60" fill="rgb(41,0,0)"/>
<rect x="208.30" y="356.00" width="11.90" height="2.60" fill="rgb(0,109,0)"/>
<rect x="219.60" y="356.00" width="12.00" height="2.60" fill="rgb(0,75,0)"/>
<rect x="231.00" y="356.00" width="11.40" height="2.60" fill="rgb(0,44,0)"/>
<rect x="173.70" y="358.00" width="12.10" height="1.90" fill="rgb(213,0,0)"/>
<rect x="185.20" y="358.00" width="12.20" height="1.90" fill="rgb(241,0,0)"/>
<rect x="196.80" y="358.00" width="12.10" height="1.90" fill="rgb(255,0,0)"/>
<rect x="208.30" y="358.00" width="11.90" height="1.90" fill="rgb(0,175,0)"/>
<rect x="219.60" y="358.00" width="12.00" height="1.90" fill="rgb(0,207,0)"/>
<rect x="231.00" y="358.00" width="11.40" height="1.90" fill="rgb(0,238,0)"/>
<rect x="173.70" y="359.30" width="12.10" height="2.60" fill="rgb(41,0,0)"/>
<rect x="185.20" y="359.30" width="12.20" height="2.60" fill="rgb(80,0,0)"/>
<rect x="196.80" y="359.30" width="12.10" height="2.60" fill="rgb(102,0,0)"/>
<rect x="208.30" y="359.30" width="11.90" height="2.60" fill="rgb(0,54,0)"/>
<rect x="219.60" y="359.30" width="12.00" height="2.60" fill="rgb(0,50,0)"/>
<rect x="231.00" y="359.30" width="11.40" height="2.60" fill="rgb(0,81,0)"/>
<rect x="173.70" y="361.30" width="12.10" height="2.60" fill="rgb(250,0,0)"/>
<rect x="185.20" y="361.30" width="12.20" height="2.60" fill="rgb(218,0,0)"/>
<rect x="196.80" y="361.30" width="12.10" height="2.60" fill="rgb(204,0,0)"/>
<rect x="208.30" y="361.30" width="11.90" height="2.60" fill="rgb(0,239,0)"/>
<rect x="219.60" y="361.30" width="12.00" height="2.60" fill="rgb(0,51,0)"/>
<rect x="231.00" y="361.30" width="11.40" height="2.60" fill="rgb(0,204,0)"/>
<rect x="173.70" y="363.30" width="12.10" height="1.60" fill="rgb(187,0,0)"/>
<rect x="185.20" y="363.30" width="12.20" height="1.60" fill="rgb(238,0,0)"/>
<rect x="196.80" y="363.30" width="12.10" height="1.60" fill="rgb(224,0,0)"/>
<rect x="208.30" y="363.30" width="11.90" height="1.60" fill="rgb(0,201,0)"/>
<rect x="219.60" y="363.30" width="12.00" height="1.60" fill="rgb(0,65,0)"/>
<rect x="231.00" y="363.30" width="11.40" height="1.60" fill="rgb(0,66,0)"/>
<rect x="173.70" y="364.30" width="12.10" height="3.00" fill="rgb(234,0,0)"/>
<rect x="185.20" y="364.30" width="12.20" height="3.00" fill="rgb(235,0,0)"/>
<rect x="196.80" y="364.30" width="12.10" height="3.00" fill="rgb(202,0,0)"/>
<rect x="208.30" y="364.30" width="11.90" height="3.00" fill="rgb(0,104,0)"/>
<rect x="219.60" y="364.30" width="12.00" height="3.00" fill="rgb(0,46,0)"/>
<rect x="231.00" y="364.30" width="11.40" height="3.00" fill="rgb(0,228,0)"/>
<rect x="173.70" y="366.70" width="12.10" height="1.90" fill="rgb(212,0,0)"/>
<rect x="185.20" y="366.70" width="12.20" height="1.90" fill="rgb(255,0,0)"/>
<rect x="196.80" y="366.70" width="12.10" height="1.90" fill="rgb(228,0,0)"/>
<rect x="208.30" y="366.70" width="11.90" height="1.90" fill="rgb(0,50,0)"/>
<rect x="219.60" y="366.70" width="12.00" height="1.90" fill="rgb(0,153,0)"/>
<rect x="231.00" y="366.70" width="11.40" height="1.90" fill="rgb(0,234,0)"/>
<rect x="173.70" y="368.00" width="12.10" height="2.60" fill="rgb(197,0,0)"/>
<rect x="185.20" y="368.00" width="12.20" height="2.60" fill="rgb(218,0,0)"/>
<rect x="196.80" y="368.00" width="12.10" height="2.60" fill="rgb(253,0,0)"/>
<rect x="208.30" y="368.00" width="11.90" height="2.60" fill="rgb(0,200,0)"/>
<rect x="219.60" y="368.00" width="12.00" height="2.60" fill="rgb(0,184,0)"/>
<rect x="231.00" y="368.00" width="11.40" height="2.60" fill="rgb(0,208,0)"/>
<rect x="173.70" y="370.00" width="12.10" height="2.20" fill="rgb(45,0,0)"/>
<rect x="185.20" y="370.00" width="12.20" height="2.20" fill="rgb(90,0,0)"/>
<rect x="196.80" y="370.00" width="12.10" height="2.20" fill="rgb(107,0,0)"/>
<rect x="208.30" y="370.00" width="11.90" height="2.20" fill="rgb(0,107,0)"/>
<rect x="219.60" y="370.00" width="12.00" height="2.20" fill="rgb(0,97,0)"/>
<rect x="231.00" y="370.00" width="11.40" height="2.20" fill="rgb(0,94,0)"/>
<rect x="173.70" y="371.60" width="12.10" height="2.20" fill="rgb(74,0,0)"/>
<rect x="185.20" y="371.60" width="12.20" height="2.20" fill="rgb(247,0,0)"/>
<rect x="196.80" y="371.60" width="12.10" height="2.20" fill="rgb(246,0,0)"/>
<rect x="208.30" y="371.60" width="11.90" height="2.20" fill="rgb(0,244,0)"/>
<rect x="219.60" y="371.60" width="12.00" height="2.20" fill="rgb(0,192,0)"/>
<rect x="231.00" y="371.60" width="11.40" height="2.20" fill="rgb(0,226,0)"/>
<rect x="173.70" y="373.20" width="12.10" height="2.20" fill="rgb(222,0,0)"/>
<rect x="185.20" y="373.20" width="12.20" height="2.20" fill="rgb(212,0,0)"/>
<rect x="196.80" y="373.20" width="12.10" height="2.20" fill="rgb(250,0,0)"/>
<rect x="208.30" y="373.20" width="11.90" height="2.20" fill="rgb(0,222,0)"/>
<rect x="219.60" y="373.20" width="12.00" height="2.20" fill="rgb(0,185,0)"/>
<rect x="231.00" y="373.20" width="11.40" height="2.20" fill="rgb(0,235,0)"/>
<rect x="173.70" y="374.80" width="12.10" height="3.00" fill="rgb(216,0,0)"/>
<rect x="185.20" y="374.80" width="12.20" height="3.00" fill="rgb(255,0,0)"/>
<rect x="196.80" y="374.80" width="12.10" height="3.00" fill="rgb(239,0,0)"/>
<rect x="208.30" y="374.80" width="11.90" height="3.00" fill="rgb(0,255,0)"/>
<rect x="219.60" y="374.80" width="12.00" height="3.00" fill="rgb(0,209,0)"/>
<rect x="231.00" y="374.80" width="11.40" height="3.00" fill="rgb(0,93,0)"/>
<rect x="173.70" y="377.20" width="12.10" height="2.20" fill="rgb(205,0,0)"/>
<rect x="185.20" y="377.20" width="12.20" height="2.20" fill="rgb(55,0,0)"/>
<rect x="196.80" y="377.20" width="12.10" height="2.20" fill="rgb(255,0,0)"/>
<rect x="208.30" y="377.20" width="11.90" height="2.20" fill="rgb(0,228,0)"/>
<rect x="219.60" y="377.20" width="12.00" height="2.20" fill="rgb(0,104,0)"/>
<rect x="231.00" y="377.20" width="11.40" height="2.20" fill="rgb(0,195,0)"/>
<rect x="173.70" y="378.80" width="12.10" height="2.20" fill="rgb(224,0,0)"/>
<rect x="185.20" y="378.80" width="12.20" height="2.20" fill="rgb(231,0,0)"/>
<rect x="196.80" y="378.80" width="12.10" height="2.20" fill="rgb(220,0,0)"/>
<rect x="208.30" y="378.80" width="11.90" height="2.20" fill="rgb(0,235,0)"/>
<rect x="219.60" y="378.80" width="12.00" height="2.20" fill="rgb(0,210,0)"/>
<rect x="231.00" y="378.80" width="11.40" height="2.20" fill="rgb(0,217,0)"/>
<rect x="173.70" y="380.40" width="12.10" height="2.20" fill="rgb(208,0,0)"/>
<rect x="185.20" y="380.40" width="12.20" height="2.20" fill="rgb(200,0,0)"/>
<rect x="196.80" y="380.40" width="12.10" height="2.20" fill="rgb(40,0,0)"/>
<rect x="208.30" y="380.40" width="11.90" height="2.20" fill="rgb(0,237,0)"/>
<rect x="219.60" y="380.40" width="12.00" height="2.20" fill="rgb(0,173,0)"/>
<rect x="231.00" y="380.40" width="11.40" height="2.20" fill="rgb(0,177,0)"/>
<rect x="173.70" y="382.00" width="12.10" height="1.60" fill="rgb(212,0,0)"/>
<rect x="185.20" y="382.00" width="12.20" height="1.60" fill="rgb(219,0,0)"/>
<rect x="196.80" y="382.00" width="12.10" height="1.60" fill="rgb(209,0,0)"/>
<rect x="208.30" y="382.00" width="11.90" height="1.60" fill="rgb(0,245,0)"/>
<rect x="219.60" y="382.00" width="12.00" height="1.60" fill="rgb(0,216,0)"/>
<rect x="231.00" y="382.00" width="11.40" height="1.60" fill="rgb(0,61,0)"/>
<rect x="173.70" y="383.00" width="12.10" height="2.60" fill="rgb(228,0,0)"/>
<rect x="185.20" y="383.00" width="12.20" height="2.60" fill="rgb(255,0,0)"/>
<rect x="196.80" y="383.00" width="12.10" height="2.60" fill="rgb(236,0,0)"/>
<rect x="208.30" y="383.00" width="11.90" height="2.60" fill="rgb(0,237,0)"/>
<rect x="219.60" y="383.00" width="12.00" height="2.60" fill="rgb(0,93,0)"/>
<rect x="231.00" y="383.00" width="11.40" height="2.60" fill="rgb(0,96,0)"/>
<rect x="173.70" y="385.00" width="12.10" height="1.60" fill="rgb(216,0,0)"/>
<rect x="185.20" y="385.00" width="12.20" height="1.60" fill="rgb(214,0,0)"/>
<rect x="196.80" y="385.00" width="12.10" height="1.60" fill="rgb(214,0,0)"/>
<rect x="208.30" y="385.00" width="11.90" height="1.60" fill="rgb(0,191,0)"/>
<rect x="219.60" y="385.00" width="12.00" height="1.60" fill="rgb(0,211,0)"/>
<rect x="231.00" y="385.00" width="11.40" height="1.60" fill="rgb(0,243,0)"/>
<rect x="173.70" y="386.00" width="12.10" height="3.00" fill="rgb(86,0,0)"/>
<rect x="185.20" y="386.00" width="12.20" height="3.00" fill="rgb(228,0,0)"/>
<rect x="196.80" y="386.00" width="12.10" height="3.00" fill="rgb(177,0,0)"/>
<rect x="208.30" y="386.00" width="11.90" height="3.00" fill="rgb(0,218,0)"/>
<rect x="219.60" y="386.00" width="12.00" height="3.00" fill="rgb(0,41,0)"/>
<rect x="231.00" y="386.00" width="11.40" height="3.00" fill="rgb(0,241,0)"/>
<rect x="173.70" y="388.40" width="12.10" height="3.00" fill="rgb(255,0,0)"/>
<rect x="185.20" y="388.40" width="12.20" height="3.00" fill="rgb(255,0,0)"/>
<rect x="196.80" y="388.40" width="12.10" height="3.00" fill="rgb(247,0,0)"/>
<rect x="208.30" y="388.40" width="11.90" height="3.00" fill="rgb(0,254,0)"/>
<rect x="219.60" y="388.40" width="12.00" height="3.00" fill="rgb(0,88,0)"/>
<rect x="231.00" y="388.40" width="11.40" height="3.00" fill="rgb(0,201,0)"/>
<rect x="173.70" y="390.80" width="12.10" height="1.90" fill="rgb(255,0,0)"/>
<rect x="185.20" y="390.80" width="12.20" height="1.90" fill="rgb(255,0,0)"/>
<rect x="196.80" y="390.80" width="12.10" height="1.90" fill="rgb(69,0,0)"/>
<rect x="208.30" y="390.80" width="11.90" height="1.90" fill="rgb(0,255,0)"/>
<rect x="219.60" y="390.80" width="12.00" height="1.90" fill="rgb(0,61,0)"/>
<rect x="231.00" y="390.80" width="11.40" height="1.90" fill="rgb(0,224,0)"/>
<rect x="173.70" y="392.10" width="12.10" height="1.90" fill="rgb(69,0,0)"/>
<rect x="185.20" y="392.10" width="12.20" height="1.90" fill="rgb(194,0,0)"/>
<rect x="196.80" y="392.10" width="12.10" height="1.90" fill="rgb(221,0,0)"/>
<rect x="208.30" y="392.10" width="11.90" height="1.90" fill="rgb(0,110,0)"/>
<rect x="219.60" y="392.10" width="12.00" height="1.90" fill="rgb(0,190,0)"/>
<rect x="231.00" y="392.10" width="11.40" height="1.90" fill="rgb(0,59,0)"/>
<rect x="173.70" y="393.40" width="12.10" height="1.60" fill="rgb(229,0,0)"/>
<rect x="185.20" y="393.40" width="12.20" height="1.60" fill="rgb(87,0,0)"/>
<rect x="196.80" y="393.40" width="12.10" height="1.60" fill="rgb(252,0,0)"/>
<rect x="208.30" y="393.40" width="11.90" height="1.60" fill="rgb(0,255,0)"/>
<rect x="219.60" y="393.40" width="12.00" height="1.60" fill="rgb(0,211,0)"/>
<rect x="231.00" y="393.40" width="11.40" height="1.60" fill="rgb(0,223,0)"/>
<rect x="173.70" y="394.40" width="12.10" height="1.60" fill="rgb(247,0,0)"/>
<rect x="185.20" y="394.40" width="12.20" height="1.60" fill="rgb(253,0,0)"/>
<rect x="196.80" y="394.40" width="12.10" height="1.60" fill="rgb(245,0,0)"/>
<rect x="208.30" y="394.40" width="11.90" height="1.60" fill="rgb(0,83,0)"/>
<rect x="219.60" y="394.40" width="12.00" height="1.60" fill="rgb(0,166,0)"/>
<rect x="231.00" y="394.40" width="11.40" height="1.60" fill="rgb(0,212,0)"/>
<rect x="173.70" y="395.40" width="12.10" height="1.60" fill="rgb(240,0,0)"/>
<rect x="185.20" y="395.40" width="12.20" height="1.60" fill="rgb(250,0,0)"/>
<rect x="196.80" y="395.40" width="12.10" height="1.60" fill="rgb(222,0,0)"/>
<rect x="208.30" y="395.40" width="11.90" height="1.60" fill="rgb(0,234,0)"/>
<rect x="219.60" y="395.40" width="12.00" height="1.60" fill="rgb(0,140,0)"/>
<rect x="231.00" y="395.40" width="11.40" height="1.60" fill="rgb(0,227,0)"/>
<rect x="173.70" y="396.40" width="12.10" height="2.60" fill="rgb(237,0,0)"/>
<rect x="185.20" y="396.40" width="12.20" height="2.60" fill="rgb(207,0,0)"/>
<rect x="196.80" y="396.40" width="12.10" height="2.60" fill="rgb(216,0,0)"/>
<rect x="208.30" y="396.40" width="11.90" height="2.60" fill="rgb(0,245,0)"/>
<rect x="219.60" y="396.40" width="12.00" height="2.60" fill="rgb(0,57,0)"/>
<rect x="231.00" y="396.40" width="11.40" height="2.60" fill="rgb(0,86,0)"/>
<rect x="173.70" y="398.40" width="12.10" height="1.60" fill="rgb(236,0,0)"/>
<rect x="185.20" y="398.40" width="12.20" height="1.60" fill="rgb(64,0,0)"/>
<rect x="196.80" y="398.40" width="12.10" height="1.60" fill="rgb(50,0,0)"/>
<rect x="208.30" y="398.40" width="11.90" height="1.60" fill="rgb(0,237,0)"/>
<rect x="219.60" y="398.40" width="12.00" height="1.60" fill="rgb(0,175,0)"/>
<rect x="231.00" y="398.40" width="11.40" height="1.60" fill="rgb(0,224,0)"/>
<rect x="173.70" y="399.40" width="12.10" height="1.90" fill="rgb(241,0,0)"/>
<rect x="185.20" y="399.40" width="12.20" height="1.90" fill="rgb(236,0,0)"/>
<rect x="196.80" y="399.40" width="12.10" height="1.90" fill="rgb(232,0,0)"/>
<rect x="208.30" y="399.40" width="11.90" height="1.90" fill="rgb(0,255,0)"/>
<rect x="219.60" y="399.40" width="12.00" height="1.90" fill="rgb(0,190,0)"/>
<rect x="231.00" y="399.40" width="11.40" height="1.90" fill="rgb(0,234,0)"/>
<rect x="173.70" y="400.70" width="12.10" height="2.20" fill="rgb(232,0,0)"/>
<rect x="185.20" y="400.70" width="12.20" height="2.20" fill="rgb(245,0,0)"/>
<rect x="196.80" y="400.70" width="12.10" height="2.20" fill="rgb(48,0,0)"/>
<rect x="208.30" y="400.70" width="11.90" height="2.20" fill="rgb(0,254,0)"/>
<rect x="219.60" y="400.70" width="12.00" height="2.20" fill="rgb(0,103,0)"/>
<rect x="231.00" y="400.70" width="11.40" height="2.20" fill="rgb(0,195,0)"/>
<rect x="173.70" y="402.30" width="12.10" height="1.50" fill="rgb(223,0,0)"/>
<rect x="185.20" y="402.30" width="12.20" height="1.50" fill="rgb(101,0,0)"/>
<rect x="196.80" y="402.30" width="12.10" height="1.50" fill="rgb(216,0,0)"/>
<rect x="208.30" y="402.30" width="11.90" height="1.50" fill="rgb(0,185,0)"/>
<rect x="219.60" y="402.30" width="12.00" height="1.50" fill="rgb(0,60,0)"/>
<rect x="231.00" y="402.30" width="11.40" height="1.50" fill="rgb(0,231,0)"/>
<rect x="169.80" y="279.00" width="3.90" height="70.50" fill="#111"/>
<line x1="171.5" y1="350.5" x2="171.5" y2="403" stroke="#222" stroke-width="0.9"/>
<defs><linearGradient id="g119" x1="0" y1="0" x2="0" y2="1"><stop offset="0" stop-color="#f00"/><stop offset="0.3" stop-color="#c00"/><stop offset="0.5" stop-color="#000"/><stop offset="0.7" stop-color="#0a0"/><stop offset="1" stop-color="#0f0"/></linearGradient></defs>
<rect x="119.00" y="373.00" width="4.00" height="31.40" fill="url(#g119)"/>
<text x="124.0" y="377.0" font-size="3.6" font-weight="normal" text-anchor="start" fill="#555">0.75</text>
<text x="124.0" y="381.3030303030303" font-size="3.6" font-weight="normal" text-anchor="start" fill="#555">0.50</text>
<text x="124.0" y="385.6060606060606" font-size="3.6" font-weight="normal" text-anchor="start" fill="#555">0.25</text>
<text x="124.0" y="389.9090909090909" font-size="3.6" font-weight="normal" text-anchor="start" fill="#555">0.00</text>
<text x="124.0" y="394.2121212121212" font-size="3.6" font-weight="normal" text-anchor="start" fill="#555">-0.25</text>
<text x="124.0" y="398.5151515151515" font-size="3.6" font-weight="normal" text-anchor="start" fill="#555">-0.50</text>
<text x="124.0" y="402.8181818181818" font-size="3.6" font-weight="normal" text-anchor="start" fill="#555">-0.75</text>
<defs><linearGradient id="g244" x1="0" y1="0" x2="0" y2="1"><stop offset="0" stop-color="#f00"/><stop offset="0.3" stop-color="#c00"/><stop offset="0.5" stop-color="#000"/><stop offset="0.7" stop-color="#0a0"/><stop offset="1" stop-color="#0f0"/></linearGradient></defs>
<rect x="244.00" y="369.40" width="4.00" height="34.60" fill="url(#g244)"/>
<text x="248.8" y="373.4" font-size="3.6" font-weight="normal" text-anchor="start" fill="#555">0.75</text>
<text x="248.8" y="378.1878787878788" font-size="3.6" font-weight="normal" text-anchor="start" fill="#555">0.50</text>
<text x="248.8" y="382.97575757575754" font-size="3.6" font-weight="normal" text-anchor="start" fill="#555">0.25</text>
<text x="248.8" y="387.76363636363635" font-size="3.6" font-weight="normal" text-anchor="start" fill="#555">0.00</text>
<text x="248.8" y="392.55151515151516" font-size="3.6" font-weight="normal" text-anchor="start" fill="#555">-0.25</text>
<text x="248.8" y="397.3393939393939" font-size="3.6" font-weight="normal" text-anchor="start" fill="#555">-0.50</text>
<text x="248.8" y="402.1272727272727" font-size="3.6" font-weight="normal" text-anchor="start" fill="#555">-0.75</text>
<text x="290.0" y="246.3" font-size="15.2" font-weight="bold" text-anchor="start" fill="#000" textLength="10.2" lengthAdjust="spacingAndGlyphs" stroke="#000" stroke-width="0.64">E</text>
<text x="290.0" y="259.8" font-size="10.0" font-weight="bold" text-anchor="start" fill="#000" textLength="95.0" lengthAdjust="spacingAndGlyphs" stroke="#000" stroke-width="0.42">Up-regulated in LCA</text>
<text x="397.8" y="259.8" font-size="10.0" font-weight="bold" text-anchor="start" fill="#000" textLength="109.0" lengthAdjust="spacingAndGlyphs" stroke="#000" stroke-width="0.42">Down-regulated in LCA</text>
<defs><clipPath id="c321"><circle cx="321.3" cy="295.2" r="14.6"/></clipPath></defs>
<circle cx="321.3" cy="295.2" r="14.6" fill="#86ef86"/>
<circle cx="351.5" cy="293.0" r="23.6" fill="#f23232"/>
<circle cx="351.5" cy="293.0" r="23.6" fill="#8a8a20" clip-path="url(#c321)"/>
<circle cx="321.3" cy="295.2" r="14.6" fill="none" stroke="#1a1a1a" stroke-width="1.7"/>
<circle cx="351.5" cy="293.0" r="23.6" fill="none" stroke="#1a1a1a" stroke-width="1.7"/>
<text x="310.8" y="299.0" font-size="9.6" font-weight="bold" text-anchor="start" fill="#111" textLength="10.0" lengthAdjust="spacingAndGlyphs" stroke="#111" stroke-width="0.40">22</text>
<text x="329.2" y="299.0" font-size="9.6" font-weight="bold" text-anchor="start" fill="#111" textLength="5.0" lengthAdjust="spacingAndGlyphs" stroke="#111" stroke-width="0.40">5</text>
<text x="346.2" y="299.0" font-size="9.6" font-weight="bold" text-anchor="start" fill="#111" textLength="15.0" lengthAdjust="spacingAndGlyphs" stroke="#111" stroke-width="0.40">223</text>
<text x="310.0" y="328.0" font-size="9.4" font-weight="bold" text-anchor="start" fill="#000" textLength="17.4" lengthAdjust="spacingAndGlyphs" stroke="#000" stroke-width="0.39">12hr</text>
<text x="342.4" y="328.0" font-size="9.4" font-weight="bold" text-anchor="start" fill="#000" textLength="18.6" lengthAdjust="spacingAndGlyphs" stroke="#000" stroke-width="0.39">48hr</text>
<defs><clipPath id="c428"><circle cx="428.0" cy="293.2" r="16.6"/></clipPath></defs>
<circle cx="428.0" cy="293.2" r="16.6" fill="#86ef86"/>
<circle cx="456.9" cy="292.5" r="23.7" fill="#f23232"/>
<circle cx="456.9" cy="292.5" r="23.7" fill="#8a8a20" clip-path="url(#c428)"/>
<circle cx="428.0" cy="293.2" r="16.6" fill="none" stroke="#1a1a1a" stroke-width="1.7"/>
<circle cx="456.9" cy="292.5" r="23.7" fill="none" stroke="#1a1a1a" stroke-width="1.7"/>
<text x="414.7" y="299.0" font-size="9.6" font-weight="bold" text-anchor="start" fill="#111" textLength="9.5" lengthAdjust="spacingAndGlyphs" stroke="#111" stroke-width="0.40">11</text>
<text x="433.7" y="299.0" font-size="9.6" font-weight="bold" text-anchor="start" fill="#111" textLength="10.9" lengthAdjust="spacingAndGlyphs" stroke="#111" stroke-width="0.40">24</text>
<text x="457.0" y="299.0" font-size="9.6" font-weight="bold" text-anchor="start" fill="#111" textLength="15.3" lengthAdjust="spacingAndGlyphs" stroke="#111" stroke-width="0.40">271</text>
<text x="419.0" y="327.6" font-size="9.4" font-weight="bold" text-anchor="start" fill="#000" textLength="17.3" lengthAdjust="spacingAndGlyphs" stroke="#000" stroke-width="0.39">12hr</text>
<text x="450.2" y="327.6" font-size="9.4" font-weight="bold" text-anchor="start" fill="#000" textLength="17.3" lengthAdjust="spacingAndGlyphs" stroke="#000" stroke-width="0.39">48hr</text>
</svg></body></html>
